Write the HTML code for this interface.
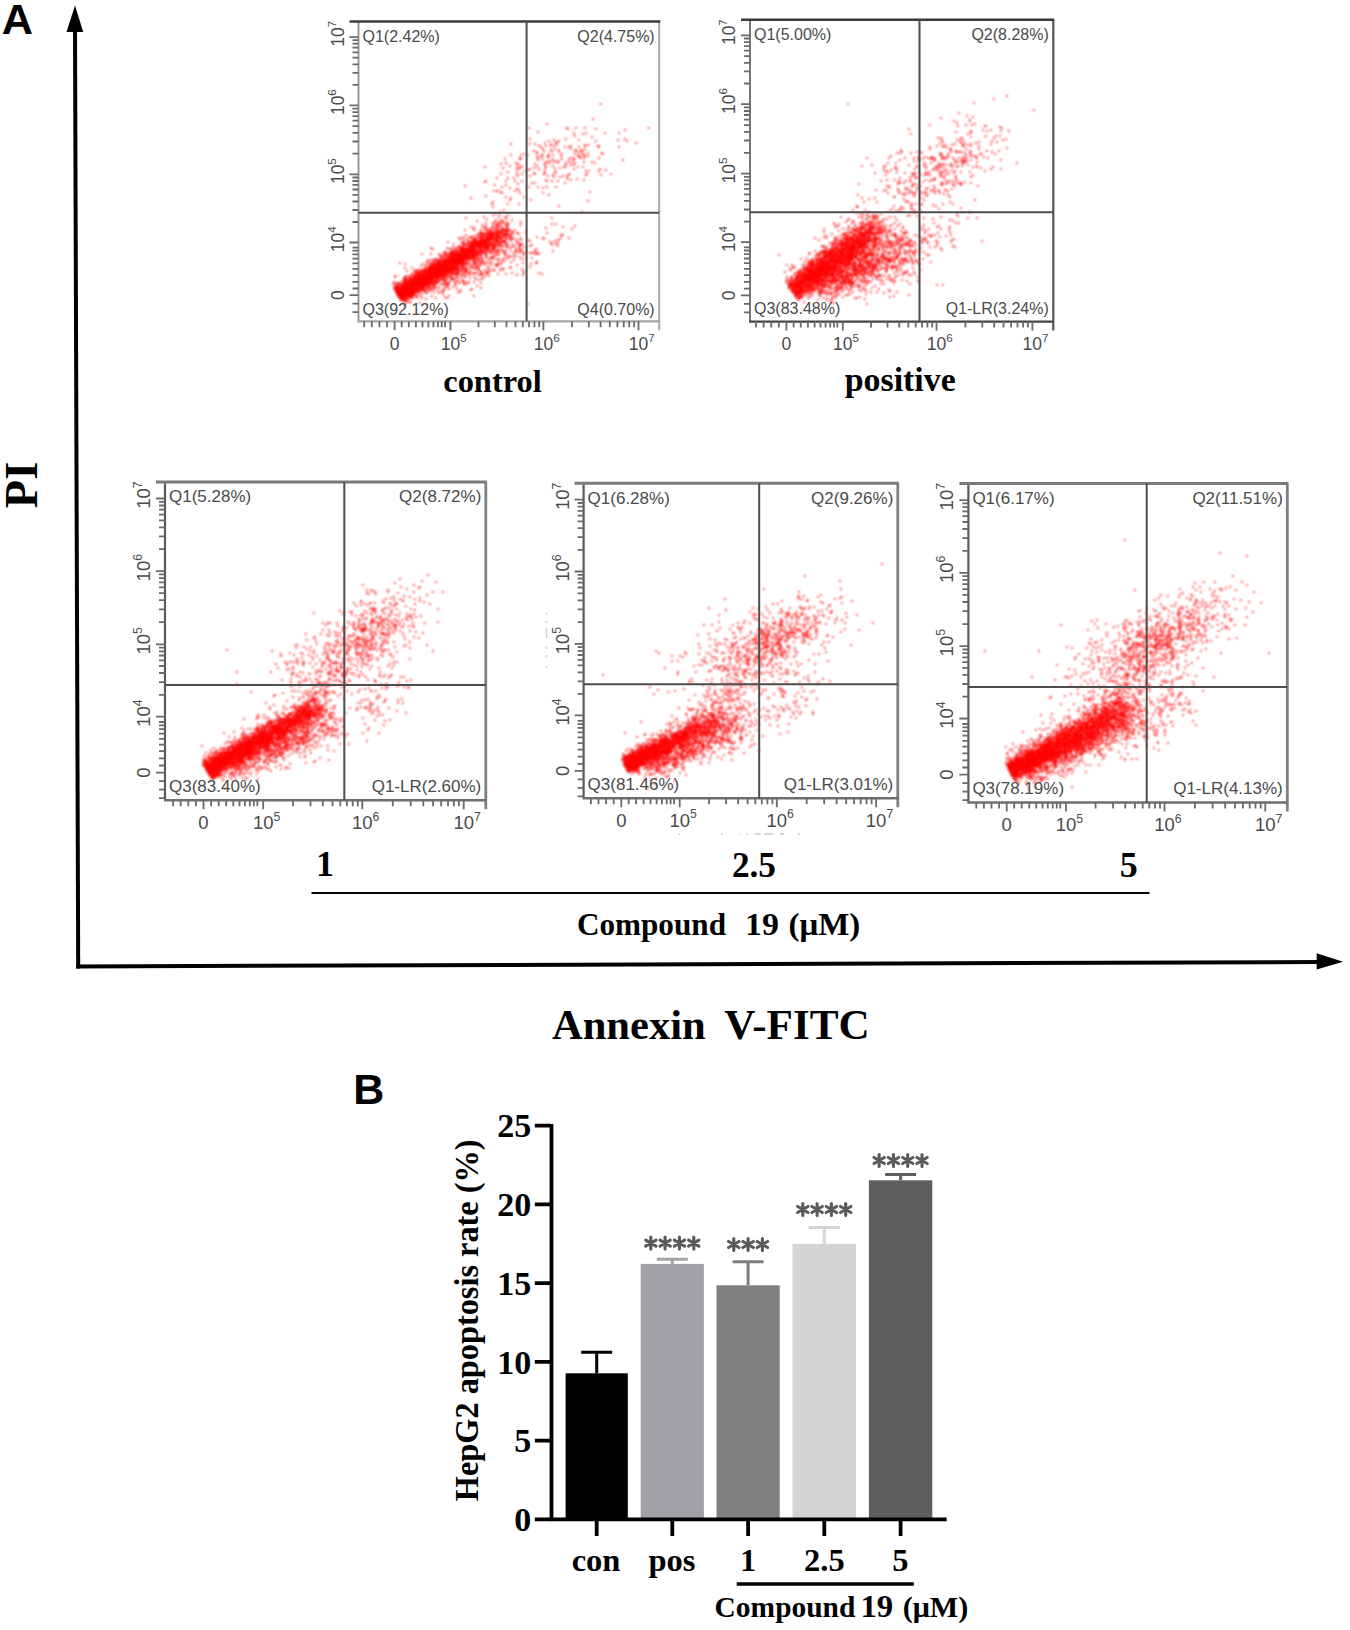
<!DOCTYPE html>
<html><head><meta charset="utf-8"><title>Figure</title>
<style>html,body{margin:0;padding:0;background:#fff;width:1350px;height:1630px;}svg{display:block;}</style>
</head><body>
<svg width="1350" height="1630" viewBox="0 0 1350 1630">
<defs><filter id="bl" x="-3%" y="-3%" width="106%" height="106%"><feGaussianBlur stdDeviation="1"/></filter></defs>
<rect width="1350" height="1630" fill="#fff"/>
<text x="1.7" y="34.4" font-family='"Liberation Sans", sans-serif' font-weight="bold" font-size="43.3">A</text>
<line x1="75" y1="28" x2="78.2" y2="968.5" stroke="#000" stroke-width="4"/>
<polygon points="75,5.5 66.5,32 83.2,32" fill="#000"/>
<line x1="76.2" y1="966.5" x2="1320" y2="962" stroke="#000" stroke-width="4"/>
<polygon points="1316.7,953.3 1343,961.8 1316.7,969.6" fill="#000"/>
<text transform="translate(36.9,484.9) rotate(-90)" text-anchor="middle" font-family='"Liberation Serif", serif' font-weight="bold" font-size="46.5">PI</text>
<path d="M600 104h1.7M592 119h1.7M546 124h1.7M528 128h1.7M566 128h1.7M575 128h1.7M584 128h1.7M648 128h1.7M567 129h1.7M595 129h1.7M624 130h1.7M537 132h1.7M573 133h1.7M585 133h1.7M604 133h1.7M618 133h1.7M582 134h1.7M574 136h1.7M591 137h1.7M529 139h1.7M565 139h1.7M624 139h1.7M553 140h1.7M578 140h1.7M617 140h1.7M548 141h1.7M558 141h1.7M595 141h1.7M626 141h1.7M556 142h1.7M544 143h1.7M555 143h1.7M635 143h1.7M510 144h1.7M529 144h1.7M534 144h1.7M550 144h1.7M556 145h1.7M584 145h1.7M587 145h1.7M538 146h1.7M545 146h1.7M550 146h1.7M553 146h1.7M570 146h1.7M584 146h1.7M597 146h1.7M598 146h1.7M540 147h1.7M564 147h1.7M568 147h1.7M578 147h1.7M598 147h1.7M618 147h1.7M542 149h1.7M554 149h1.7M570 149h1.7M584 149h1.7M550 150h1.7M558 150h1.7M575 150h1.7M580 150h1.7M533 151h1.7M543 151h1.7M551 151h1.7M574 151h1.7M582 151h1.7M536 152h1.7M558 152h1.7M577 152h1.7M580 152h1.7M536 153h1.7M587 153h1.7M601 153h1.7M523 154h1.7M548 154h1.7M561 154h1.7M574 154h1.7M582 154h1.7M602 154h1.7M510 155h1.7M520 155h1.7M527 155h1.7M541 155h1.7M542 155h1.7M552 155h1.7M577 155h1.7M583 155h1.7M536 156h1.7M547 156h1.7M560 156h1.7M579 156h1.7M584 156h1.7M587 156h1.7M540 157h1.7M547 157h1.7M548 157h1.7M578 157h1.7M519 158h1.7M537 158h1.7M570 158h1.7M573 158h1.7M580 158h1.7M583 158h1.7M598 158h1.7M504 159h1.7M519 159h1.7M520 159h1.7M542 159h1.7M552 159h1.7M561 159h1.7M568 159h1.7M573 159h1.7M537 160h1.7M573 160h1.7M622 160h1.7M547 161h1.7M550 161h1.7M555 161h1.7M558 161h1.7M553 162h1.7M568 162h1.7M571 162h1.7M583 162h1.7M591 162h1.7M505 163h1.7M515 163h1.7M544 163h1.7M545 163h1.7M548 163h1.7M557 163h1.7M565 163h1.7M574 163h1.7M594 163h1.7M500 164h1.7M517 164h1.7M534 164h1.7M517 165h1.7M544 165h1.7M565 165h1.7M570 165h1.7M573 165h1.7M509 166h1.7M521 166h1.7M536 166h1.7M552 166h1.7M484 167h1.7M545 167h1.7M563 167h1.7M564 167h1.7M577 167h1.7M582 167h1.7M502 168h1.7M516 168h1.7M517 168h1.7M519 168h1.7M520 168h1.7M533 168h1.7M559 168h1.7M529 169h1.7M538 169h1.7M544 169h1.7M554 169h1.7M573 169h1.7M599 169h1.7M527 170h1.7M605 170h1.7M516 171h1.7M524 171h1.7M585 171h1.7M588 171h1.7M598 171h1.7M507 172h1.7M544 172h1.7M555 172h1.7M533 173h1.7M544 173h1.7M554 173h1.7M500 174h1.7M516 174h1.7M521 174h1.7M534 174h1.7M543 174h1.7M569 174h1.7M586 174h1.7M610 174h1.7M552 175h1.7M567 175h1.7M585 175h1.7M600 175h1.7M517 176h1.7M529 176h1.7M547 176h1.7M562 176h1.7M553 177h1.7M559 177h1.7M566 177h1.7M496 178h1.7M507 178h1.7M513 178h1.7M567 179h1.7M576 179h1.7M545 180h1.7M570 180h1.7M583 180h1.7M485 181h1.7M505 181h1.7M514 181h1.7M521 181h1.7M546 181h1.7M551 181h1.7M557 181h1.7M484 182h1.7M531 183h1.7M534 183h1.7M564 183h1.7M517 184h1.7M494 185h1.7M505 185h1.7M464 186h1.7M501 187h1.7M528 187h1.7M537 187h1.7M546 187h1.7M555 187h1.7M509 188h1.7M542 188h1.7M516 189h1.7M518 190h1.7M493 191h1.7M496 191h1.7M497 191h1.7M514 191h1.7M500 192h1.7M589 192h1.7M501 193h1.7M519 193h1.7M542 193h1.7M548 195h1.7M485 196h1.7M505 197h1.7M523 197h1.7M470 198h1.7M510 198h1.7M509 200h1.7M530 200h1.7M587 201h1.7M492 202h1.7M491 204h1.7M507 204h1.7M518 204h1.7M558 206h1.7M492 207h1.7M503 210h1.7M499 212h1.7M581 212h1.7M495 214h1.7M499 214h1.7M492 215h1.7M507 215h1.7M483 217h1.7M498 217h1.7M504 217h1.7M465 218h1.7M505 218h1.7M506 218h1.7M551 218h1.7M486 219h1.7M495 220h1.7M500 220h1.7M511 220h1.7M476 221h1.7M502 221h1.7M494 222h1.7M498 222h1.7M501 222h1.7M502 222h1.7M506 222h1.7M520 222h1.7M485 223h1.7M492 223h1.7M496 223h1.7M499 223h1.7M503 223h1.7M506 224h1.7M508 224h1.7M551 224h1.7M555 224h1.7M481 225h1.7M492 225h1.7M495 225h1.7M496 225h1.7M498 225h1.7M499 225h1.7M500 225h1.7M505 225h1.7M507 225h1.7M520 225h1.7M485 226h1.7M496 226h1.7M497 226h1.7M506 226h1.7M574 226h1.7M470 227h1.7M482 227h1.7M485 227h1.7M492 227h1.7M496 227h1.7M501 227h1.7M562 227h1.7M473 228h1.7M484 228h1.7M491 228h1.7M494 228h1.7M498 228h1.7M501 228h1.7M506 228h1.7M507 228h1.7M545 228h1.7M473 229h1.7M487 229h1.7M490 229h1.7M496 229h1.7M501 229h1.7M503 229h1.7M504 229h1.7M506 229h1.7M571 229h1.7M464 230h1.7M473 230h1.7M480 230h1.7M484 230h1.7M486 230h1.7M489 230h1.7M494 230h1.7M498 230h1.7M501 230h1.7M502 230h1.7M504 230h1.7M506 230h1.7M508 230h1.7M509 230h1.7M514 230h1.7M489 231h1.7M491 231h1.7M494 231h1.7M496 231h1.7M497 231h1.7M499 231h1.7M500 231h1.7M502 231h1.7M504 231h1.7M506 231h1.7M507 231h1.7M511 231h1.7M480 232h1.7M486 232h1.7M487 232h1.7M489 232h1.7M492 232h1.7M496 232h1.7M497 232h1.7M499 232h1.7M500 232h1.7M507 232h1.7M512 232h1.7M525 232h1.7M479 233h1.7M481 233h1.7M483 233h1.7M486 233h1.7M488 233h1.7M489 233h1.7M490 233h1.7M491 233h1.7M493 233h1.7M495 233h1.7M498 233h1.7M500 233h1.7M501 233h1.7M502 233h1.7M503 233h1.7M504 233h1.7M505 233h1.7M506 233h1.7M510 233h1.7M516 233h1.7M517 233h1.7M546 233h1.7M478 234h1.7M479 234h1.7M480 234h1.7M482 234h1.7M483 234h1.7M484 234h1.7M485 234h1.7M486 234h1.7M489 234h1.7M491 234h1.7M492 234h1.7M494 234h1.7M495 234h1.7M496 234h1.7M497 234h1.7M499 234h1.7M502 234h1.7M505 234h1.7M506 234h1.7M507 234h1.7M512 234h1.7M518 234h1.7M465 235h1.7M476 235h1.7M480 235h1.7M481 235h1.7M486 235h1.7M487 235h1.7M488 235h1.7M490 235h1.7M491 235h1.7M492 235h1.7M493 235h1.7M494 235h1.7M496 235h1.7M498 235h1.7M502 235h1.7M503 235h1.7M505 235h1.7M507 235h1.7M508 235h1.7M510 235h1.7M560 235h1.7M561 235h1.7M562 235h1.7M473 236h1.7M477 236h1.7M481 236h1.7M482 236h1.7M483 236h1.7M484 236h1.7M487 236h1.7M489 236h1.7M490 236h1.7M491 236h1.7M493 236h1.7M496 236h1.7M497 236h1.7M498 236h1.7M500 236h1.7M503 236h1.7M504 236h1.7M506 236h1.7M509 236h1.7M463 237h1.7M468 237h1.7M470 237h1.7M471 237h1.7M478 237h1.7M479 237h1.7M480 237h1.7M483 237h1.7M484 237h1.7M485 237h1.7M486 237h1.7M488 237h1.7M489 237h1.7M490 237h1.7M491 237h1.7M492 237h1.7M493 237h1.7M495 237h1.7M496 237h1.7M497 237h1.7M499 237h1.7M501 237h1.7M502 237h1.7M504 237h1.7M510 237h1.7M536 237h1.7M458 238h1.7M461 238h1.7M470 238h1.7M474 238h1.7M476 238h1.7M480 238h1.7M481 238h1.7M486 238h1.7M487 238h1.7M489 238h1.7M490 238h1.7M493 238h1.7M495 238h1.7M497 238h1.7M498 238h1.7M500 238h1.7M506 238h1.7M508 238h1.7M510 238h1.7M512 238h1.7M513 238h1.7M520 238h1.7M543 238h1.7M560 238h1.7M568 238h1.7M459 239h1.7M466 239h1.7M472 239h1.7M474 239h1.7M479 239h1.7M480 239h1.7M482 239h1.7M483 239h1.7M484 239h1.7M486 239h1.7M487 239h1.7M488 239h1.7M489 239h1.7M491 239h1.7M492 239h1.7M493 239h1.7M494 239h1.7M495 239h1.7M496 239h1.7M499 239h1.7M500 239h1.7M501 239h1.7M505 239h1.7M542 239h1.7M463 240h1.7M472 240h1.7M473 240h1.7M474 240h1.7M475 240h1.7M476 240h1.7M479 240h1.7M480 240h1.7M482 240h1.7M483 240h1.7M484 240h1.7M485 240h1.7M487 240h1.7M488 240h1.7M490 240h1.7M491 240h1.7M492 240h1.7M496 240h1.7M497 240h1.7M502 240h1.7M504 240h1.7M509 240h1.7M510 240h1.7M511 240h1.7M517 240h1.7M520 240h1.7M527 240h1.7M557 240h1.7M558 240h1.7M467 241h1.7M469 241h1.7M473 241h1.7M474 241h1.7M475 241h1.7M477 241h1.7M478 241h1.7M479 241h1.7M480 241h1.7M481 241h1.7M482 241h1.7M484 241h1.7M485 241h1.7M486 241h1.7M487 241h1.7M489 241h1.7M492 241h1.7M493 241h1.7M495 241h1.7M497 241h1.7M498 241h1.7M501 241h1.7M502 241h1.7M504 241h1.7M515 241h1.7M529 241h1.7M554 241h1.7M447 242h1.7M461 242h1.7M463 242h1.7M468 242h1.7M469 242h1.7M471 242h1.7M472 242h1.7M473 242h1.7M475 242h1.7M476 242h1.7M477 242h1.7M478 242h1.7M479 242h1.7M480 242h1.7M481 242h1.7M482 242h1.7M483 242h1.7M484 242h1.7M485 242h1.7M486 242h1.7M487 242h1.7M489 242h1.7M494 242h1.7M495 242h1.7M496 242h1.7M497 242h1.7M498 242h1.7M499 242h1.7M501 242h1.7M503 242h1.7M505 242h1.7M549 242h1.7M463 243h1.7M466 243h1.7M470 243h1.7M472 243h1.7M474 243h1.7M475 243h1.7M476 243h1.7M477 243h1.7M478 243h1.7M480 243h1.7M481 243h1.7M482 243h1.7M483 243h1.7M484 243h1.7M485 243h1.7M486 243h1.7M488 243h1.7M489 243h1.7M490 243h1.7M491 243h1.7M492 243h1.7M496 243h1.7M500 243h1.7M501 243h1.7M504 243h1.7M505 243h1.7M516 243h1.7M518 243h1.7M551 243h1.7M557 243h1.7M453 244h1.7M461 244h1.7M462 244h1.7M464 244h1.7M467 244h1.7M469 244h1.7M471 244h1.7M472 244h1.7M473 244h1.7M474 244h1.7M475 244h1.7M476 244h1.7M477 244h1.7M478 244h1.7M479 244h1.7M480 244h1.7M481 244h1.7M482 244h1.7M483 244h1.7M484 244h1.7M485 244h1.7M486 244h1.7M488 244h1.7M490 244h1.7M491 244h1.7M492 244h1.7M494 244h1.7M495 244h1.7M498 244h1.7M499 244h1.7M507 244h1.7M511 244h1.7M519 244h1.7M521 244h1.7M555 244h1.7M464 245h1.7M466 245h1.7M469 245h1.7M471 245h1.7M472 245h1.7M474 245h1.7M475 245h1.7M476 245h1.7M477 245h1.7M479 245h1.7M480 245h1.7M481 245h1.7M482 245h1.7M484 245h1.7M485 245h1.7M486 245h1.7M487 245h1.7M488 245h1.7M489 245h1.7M491 245h1.7M492 245h1.7M493 245h1.7M495 245h1.7M498 245h1.7M499 245h1.7M505 245h1.7M519 245h1.7M520 245h1.7M521 245h1.7M531 245h1.7M551 245h1.7M458 246h1.7M462 246h1.7M463 246h1.7M466 246h1.7M468 246h1.7M469 246h1.7M470 246h1.7M471 246h1.7M472 246h1.7M473 246h1.7M474 246h1.7M476 246h1.7M477 246h1.7M478 246h1.7M479 246h1.7M480 246h1.7M481 246h1.7M482 246h1.7M483 246h1.7M484 246h1.7M485 246h1.7M486 246h1.7M487 246h1.7M489 246h1.7M492 246h1.7M493 246h1.7M494 246h1.7M496 246h1.7M498 246h1.7M499 246h1.7M500 246h1.7M501 246h1.7M502 246h1.7M505 246h1.7M507 246h1.7M513 246h1.7M514 246h1.7M519 246h1.7M529 246h1.7M557 246h1.7M452 247h1.7M457 247h1.7M458 247h1.7M460 247h1.7M461 247h1.7M469 247h1.7M470 247h1.7M471 247h1.7M472 247h1.7M473 247h1.7M475 247h1.7M477 247h1.7M478 247h1.7M480 247h1.7M481 247h1.7M483 247h1.7M485 247h1.7M486 247h1.7M487 247h1.7M488 247h1.7M489 247h1.7M492 247h1.7M494 247h1.7M495 247h1.7M501 247h1.7M511 247h1.7M518 247h1.7M524 247h1.7M430 248h1.7M446 248h1.7M452 248h1.7M455 248h1.7M459 248h1.7M460 248h1.7M462 248h1.7M463 248h1.7M464 248h1.7M466 248h1.7M467 248h1.7M468 248h1.7M470 248h1.7M471 248h1.7M472 248h1.7M473 248h1.7M474 248h1.7M475 248h1.7M478 248h1.7M479 248h1.7M480 248h1.7M483 248h1.7M484 248h1.7M485 248h1.7M487 248h1.7M488 248h1.7M491 248h1.7M492 248h1.7M493 248h1.7M494 248h1.7M506 248h1.7M509 248h1.7M518 248h1.7M432 249h1.7M448 249h1.7M450 249h1.7M455 249h1.7M459 249h1.7M460 249h1.7M461 249h1.7M463 249h1.7M464 249h1.7M465 249h1.7M466 249h1.7M467 249h1.7M468 249h1.7M469 249h1.7M470 249h1.7M471 249h1.7M472 249h1.7M473 249h1.7M475 249h1.7M478 249h1.7M479 249h1.7M481 249h1.7M484 249h1.7M485 249h1.7M486 249h1.7M487 249h1.7M488 249h1.7M491 249h1.7M493 249h1.7M497 249h1.7M515 249h1.7M521 249h1.7M536 249h1.7M454 250h1.7M457 250h1.7M460 250h1.7M461 250h1.7M462 250h1.7M463 250h1.7M464 250h1.7M466 250h1.7M467 250h1.7M468 250h1.7M469 250h1.7M470 250h1.7M471 250h1.7M472 250h1.7M473 250h1.7M474 250h1.7M476 250h1.7M477 250h1.7M478 250h1.7M479 250h1.7M481 250h1.7M482 250h1.7M483 250h1.7M486 250h1.7M487 250h1.7M491 250h1.7M493 250h1.7M494 250h1.7M497 250h1.7M499 250h1.7M501 250h1.7M515 250h1.7M519 250h1.7M520 250h1.7M534 250h1.7M451 251h1.7M452 251h1.7M453 251h1.7M455 251h1.7M456 251h1.7M457 251h1.7M458 251h1.7M459 251h1.7M461 251h1.7M462 251h1.7M463 251h1.7M464 251h1.7M465 251h1.7M466 251h1.7M468 251h1.7M469 251h1.7M470 251h1.7M471 251h1.7M472 251h1.7M473 251h1.7M474 251h1.7M475 251h1.7M476 251h1.7M479 251h1.7M481 251h1.7M483 251h1.7M486 251h1.7M487 251h1.7M489 251h1.7M490 251h1.7M495 251h1.7M497 251h1.7M502 251h1.7M503 251h1.7M505 251h1.7M510 251h1.7M515 251h1.7M519 251h1.7M552 251h1.7M443 252h1.7M445 252h1.7M450 252h1.7M451 252h1.7M452 252h1.7M453 252h1.7M456 252h1.7M460 252h1.7M461 252h1.7M462 252h1.7M464 252h1.7M465 252h1.7M466 252h1.7M467 252h1.7M468 252h1.7M469 252h1.7M470 252h1.7M471 252h1.7M472 252h1.7M473 252h1.7M476 252h1.7M477 252h1.7M479 252h1.7M480 252h1.7M481 252h1.7M484 252h1.7M492 252h1.7M495 252h1.7M496 252h1.7M514 252h1.7M517 252h1.7M520 252h1.7M525 252h1.7M534 252h1.7M443 253h1.7M445 253h1.7M449 253h1.7M450 253h1.7M451 253h1.7M452 253h1.7M453 253h1.7M455 253h1.7M456 253h1.7M457 253h1.7M458 253h1.7M459 253h1.7M460 253h1.7M461 253h1.7M462 253h1.7M463 253h1.7M464 253h1.7M465 253h1.7M466 253h1.7M467 253h1.7M468 253h1.7M470 253h1.7M471 253h1.7M472 253h1.7M473 253h1.7M474 253h1.7M475 253h1.7M476 253h1.7M477 253h1.7M478 253h1.7M479 253h1.7M481 253h1.7M483 253h1.7M484 253h1.7M485 253h1.7M486 253h1.7M489 253h1.7M490 253h1.7M491 253h1.7M498 253h1.7M503 253h1.7M504 253h1.7M522 253h1.7M523 253h1.7M529 253h1.7M531 253h1.7M532 253h1.7M536 253h1.7M537 253h1.7M421 254h1.7M430 254h1.7M438 254h1.7M445 254h1.7M446 254h1.7M448 254h1.7M450 254h1.7M451 254h1.7M453 254h1.7M454 254h1.7M455 254h1.7M456 254h1.7M457 254h1.7M458 254h1.7M459 254h1.7M460 254h1.7M461 254h1.7M462 254h1.7M463 254h1.7M464 254h1.7M466 254h1.7M467 254h1.7M468 254h1.7M469 254h1.7M471 254h1.7M473 254h1.7M474 254h1.7M476 254h1.7M477 254h1.7M479 254h1.7M481 254h1.7M485 254h1.7M494 254h1.7M513 254h1.7M535 254h1.7M538 254h1.7M439 255h1.7M443 255h1.7M444 255h1.7M447 255h1.7M448 255h1.7M450 255h1.7M451 255h1.7M452 255h1.7M453 255h1.7M454 255h1.7M456 255h1.7M457 255h1.7M458 255h1.7M459 255h1.7M460 255h1.7M462 255h1.7M463 255h1.7M464 255h1.7M465 255h1.7M466 255h1.7M467 255h1.7M469 255h1.7M471 255h1.7M472 255h1.7M473 255h1.7M474 255h1.7M475 255h1.7M476 255h1.7M477 255h1.7M480 255h1.7M485 255h1.7M494 255h1.7M496 255h1.7M498 255h1.7M504 255h1.7M506 255h1.7M523 255h1.7M440 256h1.7M441 256h1.7M444 256h1.7M450 256h1.7M451 256h1.7M453 256h1.7M454 256h1.7M455 256h1.7M457 256h1.7M458 256h1.7M459 256h1.7M460 256h1.7M461 256h1.7M462 256h1.7M463 256h1.7M464 256h1.7M465 256h1.7M466 256h1.7M467 256h1.7M468 256h1.7M470 256h1.7M471 256h1.7M472 256h1.7M473 256h1.7M474 256h1.7M476 256h1.7M477 256h1.7M480 256h1.7M485 256h1.7M486 256h1.7M492 256h1.7M509 256h1.7M510 256h1.7M515 256h1.7M442 257h1.7M445 257h1.7M446 257h1.7M447 257h1.7M448 257h1.7M449 257h1.7M450 257h1.7M451 257h1.7M452 257h1.7M454 257h1.7M455 257h1.7M456 257h1.7M457 257h1.7M458 257h1.7M459 257h1.7M460 257h1.7M461 257h1.7M462 257h1.7M463 257h1.7M464 257h1.7M465 257h1.7M466 257h1.7M467 257h1.7M468 257h1.7M469 257h1.7M470 257h1.7M472 257h1.7M473 257h1.7M474 257h1.7M477 257h1.7M480 257h1.7M485 257h1.7M490 257h1.7M513 257h1.7M519 257h1.7M439 258h1.7M441 258h1.7M442 258h1.7M446 258h1.7M447 258h1.7M448 258h1.7M449 258h1.7M450 258h1.7M452 258h1.7M453 258h1.7M455 258h1.7M456 258h1.7M457 258h1.7M458 258h1.7M459 258h1.7M460 258h1.7M461 258h1.7M462 258h1.7M463 258h1.7M464 258h1.7M465 258h1.7M466 258h1.7M467 258h1.7M468 258h1.7M469 258h1.7M470 258h1.7M471 258h1.7M473 258h1.7M474 258h1.7M477 258h1.7M481 258h1.7M490 258h1.7M492 258h1.7M493 258h1.7M503 258h1.7M506 258h1.7M508 258h1.7M531 258h1.7M434 259h1.7M436 259h1.7M444 259h1.7M445 259h1.7M446 259h1.7M449 259h1.7M450 259h1.7M451 259h1.7M452 259h1.7M453 259h1.7M454 259h1.7M455 259h1.7M456 259h1.7M457 259h1.7M458 259h1.7M459 259h1.7M460 259h1.7M461 259h1.7M462 259h1.7M463 259h1.7M465 259h1.7M466 259h1.7M467 259h1.7M468 259h1.7M470 259h1.7M474 259h1.7M475 259h1.7M477 259h1.7M479 259h1.7M482 259h1.7M487 259h1.7M492 259h1.7M496 259h1.7M499 259h1.7M521 259h1.7M525 259h1.7M427 260h1.7M430 260h1.7M432 260h1.7M434 260h1.7M435 260h1.7M438 260h1.7M439 260h1.7M441 260h1.7M442 260h1.7M443 260h1.7M445 260h1.7M446 260h1.7M447 260h1.7M448 260h1.7M449 260h1.7M450 260h1.7M451 260h1.7M452 260h1.7M453 260h1.7M454 260h1.7M455 260h1.7M456 260h1.7M457 260h1.7M458 260h1.7M459 260h1.7M460 260h1.7M461 260h1.7M462 260h1.7M463 260h1.7M465 260h1.7M468 260h1.7M470 260h1.7M472 260h1.7M473 260h1.7M474 260h1.7M477 260h1.7M489 260h1.7M497 260h1.7M502 260h1.7M513 260h1.7M427 261h1.7M435 261h1.7M437 261h1.7M438 261h1.7M439 261h1.7M440 261h1.7M441 261h1.7M442 261h1.7M443 261h1.7M444 261h1.7M445 261h1.7M446 261h1.7M447 261h1.7M448 261h1.7M449 261h1.7M450 261h1.7M451 261h1.7M452 261h1.7M453 261h1.7M454 261h1.7M455 261h1.7M456 261h1.7M457 261h1.7M458 261h1.7M459 261h1.7M460 261h1.7M461 261h1.7M462 261h1.7M463 261h1.7M466 261h1.7M473 261h1.7M479 261h1.7M481 261h1.7M482 261h1.7M504 261h1.7M426 262h1.7M432 262h1.7M437 262h1.7M438 262h1.7M439 262h1.7M442 262h1.7M443 262h1.7M444 262h1.7M445 262h1.7M446 262h1.7M447 262h1.7M448 262h1.7M449 262h1.7M450 262h1.7M451 262h1.7M452 262h1.7M453 262h1.7M454 262h1.7M455 262h1.7M456 262h1.7M457 262h1.7M458 262h1.7M459 262h1.7M460 262h1.7M461 262h1.7M462 262h1.7M463 262h1.7M464 262h1.7M466 262h1.7M474 262h1.7M475 262h1.7M477 262h1.7M482 262h1.7M485 262h1.7M501 262h1.7M510 262h1.7M536 262h1.7M399 263h1.7M429 263h1.7M430 263h1.7M432 263h1.7M433 263h1.7M434 263h1.7M435 263h1.7M436 263h1.7M437 263h1.7M438 263h1.7M439 263h1.7M440 263h1.7M442 263h1.7M443 263h1.7M444 263h1.7M445 263h1.7M446 263h1.7M447 263h1.7M448 263h1.7M449 263h1.7M450 263h1.7M451 263h1.7M452 263h1.7M453 263h1.7M454 263h1.7M455 263h1.7M456 263h1.7M457 263h1.7M458 263h1.7M459 263h1.7M460 263h1.7M461 263h1.7M462 263h1.7M464 263h1.7M467 263h1.7M469 263h1.7M473 263h1.7M474 263h1.7M480 263h1.7M488 263h1.7M490 263h1.7M491 263h1.7M498 263h1.7M522 263h1.7M535 263h1.7M536 263h1.7M404 264h1.7M422 264h1.7M426 264h1.7M429 264h1.7M433 264h1.7M434 264h1.7M435 264h1.7M436 264h1.7M437 264h1.7M438 264h1.7M439 264h1.7M440 264h1.7M441 264h1.7M442 264h1.7M444 264h1.7M445 264h1.7M446 264h1.7M448 264h1.7M449 264h1.7M450 264h1.7M451 264h1.7M452 264h1.7M453 264h1.7M454 264h1.7M455 264h1.7M456 264h1.7M458 264h1.7M459 264h1.7M460 264h1.7M461 264h1.7M462 264h1.7M463 264h1.7M464 264h1.7M466 264h1.7M467 264h1.7M471 264h1.7M474 264h1.7M476 264h1.7M479 264h1.7M482 264h1.7M484 264h1.7M485 264h1.7M495 264h1.7M497 264h1.7M500 264h1.7M530 264h1.7M430 265h1.7M432 265h1.7M433 265h1.7M436 265h1.7M437 265h1.7M438 265h1.7M439 265h1.7M441 265h1.7M442 265h1.7M443 265h1.7M444 265h1.7M445 265h1.7M446 265h1.7M447 265h1.7M448 265h1.7M449 265h1.7M450 265h1.7M451 265h1.7M452 265h1.7M453 265h1.7M454 265h1.7M455 265h1.7M456 265h1.7M457 265h1.7M458 265h1.7M460 265h1.7M464 265h1.7M467 265h1.7M473 265h1.7M479 265h1.7M495 265h1.7M516 265h1.7M420 266h1.7M425 266h1.7M429 266h1.7M431 266h1.7M432 266h1.7M433 266h1.7M434 266h1.7M435 266h1.7M436 266h1.7M437 266h1.7M438 266h1.7M439 266h1.7M440 266h1.7M441 266h1.7M442 266h1.7M443 266h1.7M444 266h1.7M445 266h1.7M446 266h1.7M447 266h1.7M448 266h1.7M449 266h1.7M451 266h1.7M452 266h1.7M453 266h1.7M455 266h1.7M456 266h1.7M461 266h1.7M462 266h1.7M463 266h1.7M464 266h1.7M470 266h1.7M475 266h1.7M476 266h1.7M479 266h1.7M490 266h1.7M495 266h1.7M497 266h1.7M424 267h1.7M427 267h1.7M428 267h1.7M429 267h1.7M430 267h1.7M431 267h1.7M432 267h1.7M434 267h1.7M435 267h1.7M436 267h1.7M437 267h1.7M438 267h1.7M439 267h1.7M440 267h1.7M441 267h1.7M442 267h1.7M443 267h1.7M444 267h1.7M445 267h1.7M446 267h1.7M447 267h1.7M448 267h1.7M449 267h1.7M450 267h1.7M451 267h1.7M452 267h1.7M453 267h1.7M454 267h1.7M456 267h1.7M457 267h1.7M459 267h1.7M461 267h1.7M470 267h1.7M471 267h1.7M476 267h1.7M477 267h1.7M487 267h1.7M510 267h1.7M529 267h1.7M404 268h1.7M411 268h1.7M428 268h1.7M429 268h1.7M430 268h1.7M431 268h1.7M432 268h1.7M433 268h1.7M434 268h1.7M435 268h1.7M436 268h1.7M437 268h1.7M438 268h1.7M439 268h1.7M440 268h1.7M441 268h1.7M442 268h1.7M443 268h1.7M444 268h1.7M445 268h1.7M446 268h1.7M447 268h1.7M448 268h1.7M449 268h1.7M450 268h1.7M451 268h1.7M452 268h1.7M453 268h1.7M454 268h1.7M455 268h1.7M457 268h1.7M458 268h1.7M461 268h1.7M463 268h1.7M464 268h1.7M466 268h1.7M469 268h1.7M472 268h1.7M474 268h1.7M477 268h1.7M487 268h1.7M509 268h1.7M423 269h1.7M425 269h1.7M426 269h1.7M427 269h1.7M429 269h1.7M430 269h1.7M431 269h1.7M432 269h1.7M433 269h1.7M434 269h1.7M435 269h1.7M436 269h1.7M437 269h1.7M438 269h1.7M439 269h1.7M440 269h1.7M441 269h1.7M442 269h1.7M443 269h1.7M444 269h1.7M446 269h1.7M448 269h1.7M449 269h1.7M450 269h1.7M451 269h1.7M452 269h1.7M453 269h1.7M454 269h1.7M456 269h1.7M458 269h1.7M462 269h1.7M465 269h1.7M466 269h1.7M474 269h1.7M478 269h1.7M501 269h1.7M502 269h1.7M503 269h1.7M521 269h1.7M414 270h1.7M417 270h1.7M418 270h1.7M419 270h1.7M421 270h1.7M423 270h1.7M424 270h1.7M426 270h1.7M427 270h1.7M428 270h1.7M429 270h1.7M430 270h1.7M431 270h1.7M432 270h1.7M434 270h1.7M435 270h1.7M436 270h1.7M437 270h1.7M438 270h1.7M439 270h1.7M440 270h1.7M441 270h1.7M442 270h1.7M443 270h1.7M444 270h1.7M445 270h1.7M446 270h1.7M447 270h1.7M448 270h1.7M449 270h1.7M450 270h1.7M451 270h1.7M452 270h1.7M453 270h1.7M454 270h1.7M455 270h1.7M456 270h1.7M457 270h1.7M459 270h1.7M460 270h1.7M461 270h1.7M464 270h1.7M466 270h1.7M477 270h1.7M484 270h1.7M488 270h1.7M491 270h1.7M493 270h1.7M494 270h1.7M499 270h1.7M406 271h1.7M414 271h1.7M415 271h1.7M421 271h1.7M422 271h1.7M423 271h1.7M424 271h1.7M425 271h1.7M426 271h1.7M427 271h1.7M428 271h1.7M429 271h1.7M430 271h1.7M431 271h1.7M432 271h1.7M433 271h1.7M434 271h1.7M435 271h1.7M436 271h1.7M437 271h1.7M438 271h1.7M439 271h1.7M440 271h1.7M441 271h1.7M442 271h1.7M443 271h1.7M444 271h1.7M445 271h1.7M446 271h1.7M447 271h1.7M448 271h1.7M449 271h1.7M450 271h1.7M451 271h1.7M453 271h1.7M454 271h1.7M456 271h1.7M458 271h1.7M462 271h1.7M465 271h1.7M466 271h1.7M469 271h1.7M479 271h1.7M488 271h1.7M523 271h1.7M414 272h1.7M415 272h1.7M417 272h1.7M418 272h1.7M420 272h1.7M421 272h1.7M424 272h1.7M426 272h1.7M427 272h1.7M428 272h1.7M429 272h1.7M430 272h1.7M431 272h1.7M432 272h1.7M433 272h1.7M434 272h1.7M435 272h1.7M436 272h1.7M437 272h1.7M438 272h1.7M439 272h1.7M440 272h1.7M442 272h1.7M443 272h1.7M444 272h1.7M445 272h1.7M446 272h1.7M448 272h1.7M449 272h1.7M450 272h1.7M451 272h1.7M457 272h1.7M461 272h1.7M465 272h1.7M466 272h1.7M470 272h1.7M481 272h1.7M485 272h1.7M486 272h1.7M411 273h1.7M417 273h1.7M418 273h1.7M419 273h1.7M421 273h1.7M422 273h1.7M423 273h1.7M424 273h1.7M426 273h1.7M427 273h1.7M428 273h1.7M429 273h1.7M430 273h1.7M431 273h1.7M432 273h1.7M433 273h1.7M434 273h1.7M435 273h1.7M436 273h1.7M437 273h1.7M438 273h1.7M439 273h1.7M440 273h1.7M441 273h1.7M442 273h1.7M443 273h1.7M444 273h1.7M445 273h1.7M446 273h1.7M447 273h1.7M450 273h1.7M452 273h1.7M453 273h1.7M454 273h1.7M456 273h1.7M458 273h1.7M464 273h1.7M465 273h1.7M468 273h1.7M473 273h1.7M474 273h1.7M475 273h1.7M476 273h1.7M480 273h1.7M486 273h1.7M488 273h1.7M511 273h1.7M523 273h1.7M538 273h1.7M414 274h1.7M415 274h1.7M416 274h1.7M417 274h1.7M418 274h1.7M419 274h1.7M421 274h1.7M423 274h1.7M424 274h1.7M425 274h1.7M426 274h1.7M427 274h1.7M429 274h1.7M430 274h1.7M431 274h1.7M432 274h1.7M433 274h1.7M434 274h1.7M435 274h1.7M436 274h1.7M437 274h1.7M438 274h1.7M439 274h1.7M440 274h1.7M441 274h1.7M443 274h1.7M445 274h1.7M447 274h1.7M449 274h1.7M452 274h1.7M453 274h1.7M454 274h1.7M455 274h1.7M457 274h1.7M458 274h1.7M462 274h1.7M468 274h1.7M472 274h1.7M482 274h1.7M486 274h1.7M497 274h1.7M505 274h1.7M541 274h1.7M411 275h1.7M413 275h1.7M417 275h1.7M418 275h1.7M419 275h1.7M420 275h1.7M421 275h1.7M422 275h1.7M423 275h1.7M424 275h1.7M425 275h1.7M426 275h1.7M427 275h1.7M428 275h1.7M429 275h1.7M430 275h1.7M431 275h1.7M432 275h1.7M433 275h1.7M434 275h1.7M435 275h1.7M436 275h1.7M437 275h1.7M439 275h1.7M440 275h1.7M442 275h1.7M443 275h1.7M444 275h1.7M445 275h1.7M447 275h1.7M450 275h1.7M451 275h1.7M455 275h1.7M456 275h1.7M457 275h1.7M460 275h1.7M463 275h1.7M469 275h1.7M478 275h1.7M479 275h1.7M480 275h1.7M481 275h1.7M516 275h1.7M522 275h1.7M395 276h1.7M405 276h1.7M407 276h1.7M409 276h1.7M410 276h1.7M413 276h1.7M414 276h1.7M415 276h1.7M416 276h1.7M417 276h1.7M418 276h1.7M419 276h1.7M420 276h1.7M421 276h1.7M422 276h1.7M423 276h1.7M424 276h1.7M425 276h1.7M426 276h1.7M427 276h1.7M428 276h1.7M429 276h1.7M430 276h1.7M431 276h1.7M432 276h1.7M433 276h1.7M434 276h1.7M435 276h1.7M436 276h1.7M437 276h1.7M438 276h1.7M439 276h1.7M440 276h1.7M441 276h1.7M442 276h1.7M443 276h1.7M444 276h1.7M445 276h1.7M447 276h1.7M465 276h1.7M484 276h1.7M488 276h1.7M394 277h1.7M404 277h1.7M410 277h1.7M413 277h1.7M414 277h1.7M415 277h1.7M416 277h1.7M417 277h1.7M419 277h1.7M420 277h1.7M421 277h1.7M422 277h1.7M423 277h1.7M424 277h1.7M425 277h1.7M426 277h1.7M427 277h1.7M428 277h1.7M429 277h1.7M430 277h1.7M431 277h1.7M432 277h1.7M433 277h1.7M434 277h1.7M435 277h1.7M436 277h1.7M437 277h1.7M438 277h1.7M439 277h1.7M440 277h1.7M441 277h1.7M442 277h1.7M443 277h1.7M447 277h1.7M449 277h1.7M451 277h1.7M455 277h1.7M461 277h1.7M464 277h1.7M474 277h1.7M403 278h1.7M404 278h1.7M405 278h1.7M409 278h1.7M411 278h1.7M412 278h1.7M413 278h1.7M414 278h1.7M415 278h1.7M416 278h1.7M417 278h1.7M418 278h1.7M419 278h1.7M420 278h1.7M421 278h1.7M422 278h1.7M423 278h1.7M424 278h1.7M425 278h1.7M426 278h1.7M427 278h1.7M428 278h1.7M429 278h1.7M430 278h1.7M431 278h1.7M432 278h1.7M433 278h1.7M434 278h1.7M436 278h1.7M437 278h1.7M438 278h1.7M441 278h1.7M443 278h1.7M445 278h1.7M450 278h1.7M452 278h1.7M456 278h1.7M458 278h1.7M469 278h1.7M482 278h1.7M404 279h1.7M406 279h1.7M408 279h1.7M410 279h1.7M413 279h1.7M414 279h1.7M415 279h1.7M416 279h1.7M417 279h1.7M418 279h1.7M419 279h1.7M420 279h1.7M421 279h1.7M422 279h1.7M423 279h1.7M424 279h1.7M425 279h1.7M426 279h1.7M427 279h1.7M428 279h1.7M429 279h1.7M430 279h1.7M431 279h1.7M432 279h1.7M433 279h1.7M435 279h1.7M437 279h1.7M438 279h1.7M441 279h1.7M446 279h1.7M451 279h1.7M453 279h1.7M475 279h1.7M481 279h1.7M403 280h1.7M405 280h1.7M408 280h1.7M409 280h1.7M410 280h1.7M411 280h1.7M412 280h1.7M413 280h1.7M414 280h1.7M415 280h1.7M416 280h1.7M417 280h1.7M418 280h1.7M419 280h1.7M420 280h1.7M421 280h1.7M422 280h1.7M423 280h1.7M424 280h1.7M425 280h1.7M426 280h1.7M427 280h1.7M428 280h1.7M429 280h1.7M430 280h1.7M431 280h1.7M432 280h1.7M433 280h1.7M435 280h1.7M438 280h1.7M439 280h1.7M441 280h1.7M442 280h1.7M444 280h1.7M445 280h1.7M451 280h1.7M454 280h1.7M462 280h1.7M478 280h1.7M402 281h1.7M403 281h1.7M404 281h1.7M405 281h1.7M406 281h1.7M407 281h1.7M408 281h1.7M410 281h1.7M411 281h1.7M412 281h1.7M413 281h1.7M414 281h1.7M415 281h1.7M416 281h1.7M417 281h1.7M418 281h1.7M419 281h1.7M420 281h1.7M421 281h1.7M422 281h1.7M423 281h1.7M424 281h1.7M425 281h1.7M426 281h1.7M427 281h1.7M428 281h1.7M429 281h1.7M431 281h1.7M433 281h1.7M435 281h1.7M436 281h1.7M438 281h1.7M443 281h1.7M445 281h1.7M449 281h1.7M457 281h1.7M461 281h1.7M462 281h1.7M393 282h1.7M400 282h1.7M403 282h1.7M405 282h1.7M406 282h1.7M409 282h1.7M410 282h1.7M411 282h1.7M412 282h1.7M413 282h1.7M414 282h1.7M415 282h1.7M416 282h1.7M417 282h1.7M418 282h1.7M419 282h1.7M420 282h1.7M421 282h1.7M422 282h1.7M423 282h1.7M424 282h1.7M425 282h1.7M426 282h1.7M427 282h1.7M428 282h1.7M429 282h1.7M431 282h1.7M432 282h1.7M434 282h1.7M436 282h1.7M438 282h1.7M455 282h1.7M464 282h1.7M468 282h1.7M473 282h1.7M395 283h1.7M396 283h1.7M398 283h1.7M403 283h1.7M404 283h1.7M405 283h1.7M406 283h1.7M407 283h1.7M408 283h1.7M409 283h1.7M410 283h1.7M411 283h1.7M412 283h1.7M413 283h1.7M414 283h1.7M415 283h1.7M416 283h1.7M417 283h1.7M418 283h1.7M419 283h1.7M420 283h1.7M421 283h1.7M422 283h1.7M423 283h1.7M424 283h1.7M425 283h1.7M426 283h1.7M427 283h1.7M428 283h1.7M429 283h1.7M430 283h1.7M431 283h1.7M432 283h1.7M433 283h1.7M435 283h1.7M436 283h1.7M437 283h1.7M443 283h1.7M445 283h1.7M447 283h1.7M448 283h1.7M454 283h1.7M458 283h1.7M459 283h1.7M463 283h1.7M467 283h1.7M480 283h1.7M392 284h1.7M397 284h1.7M399 284h1.7M400 284h1.7M401 284h1.7M403 284h1.7M404 284h1.7M405 284h1.7M406 284h1.7M407 284h1.7M408 284h1.7M409 284h1.7M410 284h1.7M411 284h1.7M412 284h1.7M413 284h1.7M414 284h1.7M415 284h1.7M416 284h1.7M417 284h1.7M418 284h1.7M419 284h1.7M420 284h1.7M421 284h1.7M422 284h1.7M423 284h1.7M424 284h1.7M425 284h1.7M426 284h1.7M427 284h1.7M428 284h1.7M430 284h1.7M431 284h1.7M432 284h1.7M435 284h1.7M440 284h1.7M443 284h1.7M445 284h1.7M447 284h1.7M448 284h1.7M454 284h1.7M463 284h1.7M465 284h1.7M394 285h1.7M397 285h1.7M400 285h1.7M401 285h1.7M402 285h1.7M403 285h1.7M405 285h1.7M406 285h1.7M407 285h1.7M408 285h1.7M409 285h1.7M410 285h1.7M411 285h1.7M412 285h1.7M413 285h1.7M414 285h1.7M415 285h1.7M416 285h1.7M417 285h1.7M418 285h1.7M419 285h1.7M420 285h1.7M421 285h1.7M422 285h1.7M423 285h1.7M424 285h1.7M425 285h1.7M426 285h1.7M427 285h1.7M428 285h1.7M429 285h1.7M432 285h1.7M434 285h1.7M442 285h1.7M447 285h1.7M395 286h1.7M397 286h1.7M398 286h1.7M400 286h1.7M401 286h1.7M402 286h1.7M403 286h1.7M404 286h1.7M405 286h1.7M406 286h1.7M407 286h1.7M408 286h1.7M409 286h1.7M410 286h1.7M411 286h1.7M412 286h1.7M413 286h1.7M414 286h1.7M415 286h1.7M416 286h1.7M417 286h1.7M418 286h1.7M419 286h1.7M420 286h1.7M421 286h1.7M422 286h1.7M423 286h1.7M424 286h1.7M425 286h1.7M427 286h1.7M428 286h1.7M432 286h1.7M434 286h1.7M445 286h1.7M455 286h1.7M476 286h1.7M394 287h1.7M395 287h1.7M396 287h1.7M397 287h1.7M400 287h1.7M401 287h1.7M402 287h1.7M403 287h1.7M404 287h1.7M405 287h1.7M406 287h1.7M407 287h1.7M408 287h1.7M409 287h1.7M410 287h1.7M411 287h1.7M412 287h1.7M413 287h1.7M414 287h1.7M415 287h1.7M416 287h1.7M417 287h1.7M418 287h1.7M419 287h1.7M420 287h1.7M421 287h1.7M422 287h1.7M423 287h1.7M425 287h1.7M428 287h1.7M430 287h1.7M432 287h1.7M434 287h1.7M438 287h1.7M447 287h1.7M452 287h1.7M393 288h1.7M394 288h1.7M395 288h1.7M396 288h1.7M397 288h1.7M398 288h1.7M399 288h1.7M400 288h1.7M401 288h1.7M402 288h1.7M403 288h1.7M404 288h1.7M405 288h1.7M406 288h1.7M407 288h1.7M408 288h1.7M409 288h1.7M410 288h1.7M411 288h1.7M412 288h1.7M413 288h1.7M414 288h1.7M415 288h1.7M416 288h1.7M417 288h1.7M418 288h1.7M419 288h1.7M421 288h1.7M422 288h1.7M423 288h1.7M427 288h1.7M430 288h1.7M435 288h1.7M438 288h1.7M444 288h1.7M480 288h1.7M395 289h1.7M396 289h1.7M397 289h1.7M398 289h1.7M399 289h1.7M400 289h1.7M401 289h1.7M402 289h1.7M403 289h1.7M404 289h1.7M405 289h1.7M406 289h1.7M407 289h1.7M408 289h1.7M409 289h1.7M410 289h1.7M411 289h1.7M412 289h1.7M413 289h1.7M414 289h1.7M415 289h1.7M416 289h1.7M417 289h1.7M418 289h1.7M421 289h1.7M422 289h1.7M424 289h1.7M426 289h1.7M427 289h1.7M429 289h1.7M433 289h1.7M443 289h1.7M448 289h1.7M456 289h1.7M471 289h1.7M394 290h1.7M395 290h1.7M396 290h1.7M397 290h1.7M398 290h1.7M399 290h1.7M400 290h1.7M401 290h1.7M402 290h1.7M403 290h1.7M404 290h1.7M405 290h1.7M406 290h1.7M407 290h1.7M408 290h1.7M409 290h1.7M410 290h1.7M411 290h1.7M412 290h1.7M413 290h1.7M414 290h1.7M415 290h1.7M417 290h1.7M418 290h1.7M419 290h1.7M420 290h1.7M421 290h1.7M422 290h1.7M423 290h1.7M431 290h1.7M460 290h1.7M470 290h1.7M395 291h1.7M396 291h1.7M397 291h1.7M398 291h1.7M399 291h1.7M400 291h1.7M401 291h1.7M402 291h1.7M403 291h1.7M404 291h1.7M405 291h1.7M406 291h1.7M407 291h1.7M408 291h1.7M409 291h1.7M410 291h1.7M411 291h1.7M412 291h1.7M413 291h1.7M414 291h1.7M415 291h1.7M416 291h1.7M417 291h1.7M419 291h1.7M420 291h1.7M422 291h1.7M424 291h1.7M425 291h1.7M428 291h1.7M429 291h1.7M437 291h1.7M441 291h1.7M443 291h1.7M395 292h1.7M396 292h1.7M397 292h1.7M399 292h1.7M400 292h1.7M401 292h1.7M402 292h1.7M403 292h1.7M404 292h1.7M405 292h1.7M406 292h1.7M407 292h1.7M408 292h1.7M409 292h1.7M410 292h1.7M411 292h1.7M412 292h1.7M413 292h1.7M414 292h1.7M416 292h1.7M417 292h1.7M418 292h1.7M425 292h1.7M433 292h1.7M441 292h1.7M457 292h1.7M459 292h1.7M396 293h1.7M397 293h1.7M398 293h1.7M399 293h1.7M400 293h1.7M401 293h1.7M402 293h1.7M403 293h1.7M404 293h1.7M405 293h1.7M406 293h1.7M407 293h1.7M408 293h1.7M409 293h1.7M410 293h1.7M411 293h1.7M412 293h1.7M413 293h1.7M414 293h1.7M415 293h1.7M418 293h1.7M425 293h1.7M426 293h1.7M438 293h1.7M396 294h1.7M397 294h1.7M398 294h1.7M399 294h1.7M400 294h1.7M401 294h1.7M402 294h1.7M403 294h1.7M404 294h1.7M405 294h1.7M406 294h1.7M407 294h1.7M408 294h1.7M409 294h1.7M410 294h1.7M411 294h1.7M412 294h1.7M413 294h1.7M414 294h1.7M421 294h1.7M442 294h1.7M397 295h1.7M398 295h1.7M399 295h1.7M400 295h1.7M401 295h1.7M402 295h1.7M403 295h1.7M404 295h1.7M406 295h1.7M407 295h1.7M408 295h1.7M409 295h1.7M410 295h1.7M412 295h1.7M413 295h1.7M417 295h1.7M397 296h1.7M398 296h1.7M399 296h1.7M400 296h1.7M401 296h1.7M402 296h1.7M403 296h1.7M404 296h1.7M405 296h1.7M406 296h1.7M407 296h1.7M408 296h1.7M410 296h1.7M411 296h1.7M412 296h1.7M415 296h1.7M420 296h1.7M431 296h1.7M448 296h1.7M473 296h1.7M398 297h1.7M399 297h1.7M400 297h1.7M401 297h1.7M402 297h1.7M403 297h1.7M404 297h1.7M405 297h1.7M407 297h1.7M408 297h1.7M409 297h1.7M410 297h1.7M412 297h1.7M416 297h1.7M444 297h1.7M399 298h1.7M400 298h1.7M401 298h1.7M402 298h1.7M403 298h1.7M404 298h1.7M405 298h1.7M409 298h1.7M410 298h1.7M412 298h1.7M416 298h1.7M421 298h1.7M435 298h1.7M446 298h1.7M399 299h1.7M400 299h1.7M402 299h1.7M403 299h1.7M404 299h1.7M406 299h1.7M407 299h1.7M425 299h1.7M400 300h1.7M401 300h1.7M403 300h1.7M405 300h1.7M407 300h1.7M402 301h1.7M403 301h1.7M404 301h1.7M405 302h1.7M408 302h1.7M410 302h1.7M405 303h1.7M419 303h1.7M527 304h1.7M404 306h1.7" stroke="#ff0000" stroke-width="1.7" fill="none" filter="url(#bl)"/>
<path d="M358.5 21.5V321.3" stroke="#9a9a9a" stroke-width="2"/>
<path d="M659.2 21.5V330.3" stroke="#b0b0b0" stroke-width="2.2"/>
<path d="M357.5 321.3H659.2" stroke="#a5a5a5" stroke-width="2.2"/>
<path d="M349.5 21.5H660.2" stroke="#3c3c3c" stroke-width="2.6"/>
<path d="M526.6 21.5V321.3M358.5 212.8H659.2" stroke="#4d4d4d" stroke-width="2"/>
<path d="M349.5 295.2H358.5M349.5 242.5H358.5M349.5 174.4H358.5M349.5 105.4H358.5M349.5 37.1H358.5M352.5 288.5H358.5M352.5 281.8H358.5M352.5 275.1H358.5M352.5 268.8H358.5M352.5 263.3H358.5M352.5 258.6H358.5M352.5 254.3H358.5M352.5 250.7H358.5M352.5 247.6H358.5M352.5 303.7H358.5M352.5 312.2H358.5M352.5 222H358.5M352.5 210H358.5M352.5 201.5H358.5M352.5 194.9H358.5M352.5 189.5H358.5M352.5 184.9H358.5M352.5 181H358.5M352.5 177.5H358.5M352.5 153.6H358.5M352.5 141.5H358.5M352.5 132.9H358.5M352.5 126.2H358.5M352.5 120.7H358.5M352.5 116.1H358.5M352.5 112.1H358.5M352.5 108.6H358.5M352.5 84.9H358.5M352.5 72.8H358.5M352.5 64.3H358.5M352.5 57.7H358.5M352.5 52.3H358.5M352.5 47.7H358.5M352.5 43.7H358.5M352.5 40.2H358.5M394.6 321.3V330.3M450.5 321.3V330.3M543.4 321.3V330.3M638.5 321.3V330.3M401.7 321.3V327.3M408.8 321.3V327.3M415.9 321.3V327.3M422.5 321.3V327.3M428.4 321.3V327.3M433.4 321.3V327.3M438 321.3V327.3M441.7 321.3V327.3M445.1 321.3V327.3M387 321.3V327.3M379.4 321.3V327.3M371.8 321.3V327.3M364.2 321.3V327.3M478.5 321.3V327.3M494.8 321.3V327.3M506.5 321.3V327.3M515.5 321.3V327.3M522.8 321.3V327.3M529 321.3V327.3M534.4 321.3V327.3M539.2 321.3V327.3M572 321.3V327.3M588.8 321.3V327.3M600.6 321.3V327.3M609.8 321.3V327.3M617.4 321.3V327.3M623.7 321.3V327.3M629.2 321.3V327.3M634.1 321.3V327.3" stroke="#6a6a6a" stroke-width="1.8" fill="none"/>
<text transform="translate(343.5,295.2) rotate(-90)" x="0" text-anchor="middle" font-family='"Liberation Sans", sans-serif' font-size="17.5" fill="#4a4a4a">0</text>
<text transform="translate(343.5,242.5) rotate(-90)" x="-9.7" font-family='"Liberation Sans", sans-serif' font-size="17.5" fill="#4a4a4a">10<tspan font-size="11.6" dy="-7.7">4</tspan></text>
<text transform="translate(343.5,174.4) rotate(-90)" x="-9.7" font-family='"Liberation Sans", sans-serif' font-size="17.5" fill="#4a4a4a">10<tspan font-size="11.6" dy="-7.7">5</tspan></text>
<text transform="translate(343.5,105.4) rotate(-90)" x="-9.7" font-family='"Liberation Sans", sans-serif' font-size="17.5" fill="#4a4a4a">10<tspan font-size="11.6" dy="-7.7">6</tspan></text>
<text transform="translate(343.5,37.1) rotate(-90)" x="-9.7" font-family='"Liberation Sans", sans-serif' font-size="17.5" fill="#4a4a4a">10<tspan font-size="11.6" dy="-7.7">7</tspan></text>
<text x="394.6" y="349.6" text-anchor="middle" font-family='"Liberation Sans", sans-serif' font-size="17.5" fill="#4a4a4a">0</text>
<text x="440.8" y="349.6" font-family='"Liberation Sans", sans-serif' font-size="17.5" fill="#4a4a4a">10<tspan font-size="11.6" dy="-7.7">5</tspan></text>
<text x="533.7" y="349.6" font-family='"Liberation Sans", sans-serif' font-size="17.5" fill="#4a4a4a">10<tspan font-size="11.6" dy="-7.7">6</tspan></text>
<text x="628.7" y="349.6" font-family='"Liberation Sans", sans-serif' font-size="17.5" fill="#4a4a4a">10<tspan font-size="11.6" dy="-7.7">7</tspan></text>
<text x="362.5" y="42" font-family='"Liberation Sans", sans-serif' font-size="16" fill="#4a4a4a">Q1(2.42%)</text>
<text x="654.7" y="42" text-anchor="end" font-family='"Liberation Sans", sans-serif' font-size="16" fill="#4a4a4a">Q2(4.75%)</text>
<text x="362.5" y="314.8" font-family='"Liberation Sans", sans-serif' font-size="16" fill="#4a4a4a">Q3(92.12%)</text>
<text x="654.7" y="314.8" text-anchor="end" font-family='"Liberation Sans", sans-serif' font-size="16" fill="#4a4a4a">Q4(0.70%)</text>
<path d="M1006 96h1.7M993 99h1.7M973 103h1.7M847 104h1.7M1033 110h1.7M958 113h1.7M966 116h1.7M972 117h1.7M940 118h1.7M969 120h1.7M953 121h1.7M969 121h1.7M956 123h1.7M974 124h1.7M929 125h1.7M965 125h1.7M971 125h1.7M957 126h1.7M984 126h1.7M985 126h1.7M999 127h1.7M1001 128h1.7M908 129h1.7M982 130h1.7M990 130h1.7M970 131h1.7M986 131h1.7M1000 131h1.7M1008 131h1.7M955 132h1.7M970 132h1.7M970 133h1.7M910 134h1.7M967 134h1.7M985 136h1.7M995 136h1.7M999 136h1.7M970 137h1.7M937 138h1.7M940 138h1.7M961 138h1.7M993 138h1.7M959 139h1.7M1005 139h1.7M941 140h1.7M956 140h1.7M962 140h1.7M1002 140h1.7M991 141h1.7M942 142h1.7M959 142h1.7M978 142h1.7M996 142h1.7M939 143h1.7M961 143h1.7M964 143h1.7M975 143h1.7M954 144h1.7M970 144h1.7M990 144h1.7M944 145h1.7M951 145h1.7M962 145h1.7M967 145h1.7M936 146h1.7M941 146h1.7M962 146h1.7M963 146h1.7M970 146h1.7M978 146h1.7M929 147h1.7M943 147h1.7M946 147h1.7M1006 148h1.7M929 149h1.7M949 149h1.7M950 149h1.7M965 149h1.7M978 149h1.7M900 150h1.7M950 150h1.7M955 151h1.7M969 151h1.7M986 151h1.7M998 151h1.7M901 152h1.7M916 152h1.7M919 152h1.7M950 152h1.7M955 152h1.7M957 152h1.7M959 152h1.7M961 152h1.7M970 152h1.7M991 152h1.7M896 153h1.7M899 153h1.7M910 153h1.7M921 153h1.7M940 153h1.7M964 153h1.7M939 154h1.7M947 154h1.7M969 154h1.7M979 154h1.7M981 154h1.7M994 154h1.7M940 155h1.7M941 155h1.7M965 155h1.7M890 156h1.7M948 156h1.7M970 156h1.7M972 156h1.7M975 156h1.7M917 157h1.7M918 157h1.7M924 157h1.7M931 157h1.7M941 157h1.7M942 157h1.7M946 157h1.7M963 157h1.7M975 157h1.7M983 157h1.7M866 158h1.7M888 158h1.7M904 158h1.7M913 158h1.7M927 158h1.7M930 158h1.7M931 158h1.7M932 158h1.7M933 158h1.7M943 158h1.7M946 158h1.7M952 158h1.7M958 158h1.7M961 158h1.7M966 158h1.7M976 158h1.7M987 158h1.7M918 159h1.7M922 159h1.7M930 159h1.7M934 159h1.7M941 159h1.7M944 159h1.7M964 159h1.7M899 160h1.7M934 160h1.7M954 160h1.7M962 160h1.7M970 160h1.7M1000 160h1.7M913 161h1.7M917 161h1.7M933 161h1.7M955 161h1.7M960 161h1.7M963 161h1.7M966 161h1.7M957 162h1.7M962 162h1.7M964 162h1.7M965 162h1.7M976 162h1.7M887 163h1.7M895 163h1.7M924 163h1.7M930 163h1.7M938 163h1.7M954 163h1.7M962 163h1.7M1016 163h1.7M942 164h1.7M950 164h1.7M962 164h1.7M871 165h1.7M908 165h1.7M923 165h1.7M939 165h1.7M940 165h1.7M942 165h1.7M945 165h1.7M949 165h1.7M967 165h1.7M861 166h1.7M884 166h1.7M916 166h1.7M925 166h1.7M936 166h1.7M938 166h1.7M951 166h1.7M952 166h1.7M957 166h1.7M961 166h1.7M976 166h1.7M883 167h1.7M895 167h1.7M917 167h1.7M934 167h1.7M956 167h1.7M972 167h1.7M976 167h1.7M992 167h1.7M894 168h1.7M925 168h1.7M937 168h1.7M940 168h1.7M943 168h1.7M980 168h1.7M896 169h1.7M914 169h1.7M933 169h1.7M936 169h1.7M990 169h1.7M1000 169h1.7M883 170h1.7M890 170h1.7M932 170h1.7M936 170h1.7M946 170h1.7M951 170h1.7M885 171h1.7M944 171h1.7M954 171h1.7M984 171h1.7M887 172h1.7M896 172h1.7M918 172h1.7M925 172h1.7M928 172h1.7M938 172h1.7M941 172h1.7M942 172h1.7M960 172h1.7M969 172h1.7M874 173h1.7M904 173h1.7M911 173h1.7M914 173h1.7M940 173h1.7M948 173h1.7M953 173h1.7M913 174h1.7M914 174h1.7M925 174h1.7M927 174h1.7M940 174h1.7M946 174h1.7M885 175h1.7M913 175h1.7M920 175h1.7M924 175h1.7M929 175h1.7M972 175h1.7M911 176h1.7M939 176h1.7M941 176h1.7M944 176h1.7M955 176h1.7M916 177h1.7M970 177h1.7M899 178h1.7M909 178h1.7M914 178h1.7M916 178h1.7M934 178h1.7M943 178h1.7M955 178h1.7M934 179h1.7M886 180h1.7M894 180h1.7M925 180h1.7M931 180h1.7M933 180h1.7M956 180h1.7M880 181h1.7M898 181h1.7M905 181h1.7M909 181h1.7M910 181h1.7M929 181h1.7M945 181h1.7M948 181h1.7M951 181h1.7M898 182h1.7M922 182h1.7M941 182h1.7M954 182h1.7M964 182h1.7M899 183h1.7M903 183h1.7M947 183h1.7M957 183h1.7M959 183h1.7M960 183h1.7M970 183h1.7M858 184h1.7M897 184h1.7M912 184h1.7M914 184h1.7M940 184h1.7M942 184h1.7M945 184h1.7M952 184h1.7M961 184h1.7M917 185h1.7M941 185h1.7M952 185h1.7M960 185h1.7M886 186h1.7M911 186h1.7M912 186h1.7M920 186h1.7M933 186h1.7M954 186h1.7M977 186h1.7M888 187h1.7M889 187h1.7M905 188h1.7M906 188h1.7M916 188h1.7M927 188h1.7M934 188h1.7M897 189h1.7M917 189h1.7M925 189h1.7M951 189h1.7M875 190h1.7M885 190h1.7M897 190h1.7M905 190h1.7M908 190h1.7M932 190h1.7M938 190h1.7M944 190h1.7M945 190h1.7M883 191h1.7M910 191h1.7M930 191h1.7M934 191h1.7M938 191h1.7M947 191h1.7M899 192h1.7M915 192h1.7M920 192h1.7M925 192h1.7M887 193h1.7M898 193h1.7M908 193h1.7M911 193h1.7M913 193h1.7M920 193h1.7M923 193h1.7M925 193h1.7M934 193h1.7M939 193h1.7M902 194h1.7M905 194h1.7M943 194h1.7M857 195h1.7M903 195h1.7M914 195h1.7M927 195h1.7M947 195h1.7M913 196h1.7M925 196h1.7M893 197h1.7M894 197h1.7M949 197h1.7M861 198h1.7M874 198h1.7M920 198h1.7M868 199h1.7M903 199h1.7M923 200h1.7M974 200h1.7M906 201h1.7M863 202h1.7M876 202h1.7M905 202h1.7M908 202h1.7M949 202h1.7M911 204h1.7M915 204h1.7M921 204h1.7M942 204h1.7M952 204h1.7M911 205h1.7M920 205h1.7M932 205h1.7M856 206h1.7M893 206h1.7M910 206h1.7M935 206h1.7M856 207h1.7M857 207h1.7M901 207h1.7M900 208h1.7M960 208h1.7M891 209h1.7M903 209h1.7M910 209h1.7M912 209h1.7M938 209h1.7M852 210h1.7M864 210h1.7M899 210h1.7M889 211h1.7M895 211h1.7M898 211h1.7M914 211h1.7M920 211h1.7M868 212h1.7M969 212h1.7M856 213h1.7M862 213h1.7M913 213h1.7M860 214h1.7M866 214h1.7M880 214h1.7M956 214h1.7M866 215h1.7M873 215h1.7M876 215h1.7M909 215h1.7M862 216h1.7M872 216h1.7M874 216h1.7M907 216h1.7M916 216h1.7M957 216h1.7M840 217h1.7M858 217h1.7M867 217h1.7M868 217h1.7M869 217h1.7M872 217h1.7M875 217h1.7M877 217h1.7M889 217h1.7M894 217h1.7M940 217h1.7M861 218h1.7M872 218h1.7M873 218h1.7M923 218h1.7M967 218h1.7M976 218h1.7M848 219h1.7M865 219h1.7M873 219h1.7M876 219h1.7M883 219h1.7M886 219h1.7M932 219h1.7M847 220h1.7M866 220h1.7M873 220h1.7M876 220h1.7M896 220h1.7M949 220h1.7M852 221h1.7M862 221h1.7M869 221h1.7M882 221h1.7M952 221h1.7M845 222h1.7M853 222h1.7M870 222h1.7M872 222h1.7M878 222h1.7M879 222h1.7M880 222h1.7M881 222h1.7M833 223h1.7M851 223h1.7M859 223h1.7M861 223h1.7M862 223h1.7M867 223h1.7M868 223h1.7M869 223h1.7M870 223h1.7M872 223h1.7M874 223h1.7M876 223h1.7M894 223h1.7M933 223h1.7M955 223h1.7M958 223h1.7M838 224h1.7M863 224h1.7M865 224h1.7M866 224h1.7M878 224h1.7M899 224h1.7M834 225h1.7M854 225h1.7M860 225h1.7M865 225h1.7M867 225h1.7M868 225h1.7M869 225h1.7M871 225h1.7M874 225h1.7M878 225h1.7M882 225h1.7M885 225h1.7M891 225h1.7M923 225h1.7M837 226h1.7M848 226h1.7M855 226h1.7M862 226h1.7M864 226h1.7M870 226h1.7M872 226h1.7M875 226h1.7M880 226h1.7M889 226h1.7M897 226h1.7M938 226h1.7M835 227h1.7M848 227h1.7M860 227h1.7M861 227h1.7M862 227h1.7M863 227h1.7M868 227h1.7M869 227h1.7M871 227h1.7M873 227h1.7M877 227h1.7M880 227h1.7M883 227h1.7M902 227h1.7M920 227h1.7M936 227h1.7M949 227h1.7M852 228h1.7M857 228h1.7M859 228h1.7M860 228h1.7M861 228h1.7M862 228h1.7M865 228h1.7M869 228h1.7M870 228h1.7M871 228h1.7M872 228h1.7M873 228h1.7M878 228h1.7M879 228h1.7M880 228h1.7M885 228h1.7M902 228h1.7M823 229h1.7M842 229h1.7M846 229h1.7M849 229h1.7M852 229h1.7M853 229h1.7M855 229h1.7M856 229h1.7M858 229h1.7M861 229h1.7M863 229h1.7M866 229h1.7M868 229h1.7M869 229h1.7M871 229h1.7M873 229h1.7M874 229h1.7M875 229h1.7M876 229h1.7M877 229h1.7M879 229h1.7M880 229h1.7M883 229h1.7M894 229h1.7M923 229h1.7M928 229h1.7M940 229h1.7M948 229h1.7M854 230h1.7M855 230h1.7M856 230h1.7M859 230h1.7M861 230h1.7M864 230h1.7M868 230h1.7M869 230h1.7M870 230h1.7M882 230h1.7M883 230h1.7M888 230h1.7M890 230h1.7M920 230h1.7M838 231h1.7M852 231h1.7M854 231h1.7M856 231h1.7M859 231h1.7M864 231h1.7M866 231h1.7M867 231h1.7M868 231h1.7M870 231h1.7M871 231h1.7M877 231h1.7M879 231h1.7M880 231h1.7M881 231h1.7M885 231h1.7M888 231h1.7M900 231h1.7M905 231h1.7M925 231h1.7M823 232h1.7M847 232h1.7M849 232h1.7M851 232h1.7M857 232h1.7M859 232h1.7M861 232h1.7M864 232h1.7M865 232h1.7M866 232h1.7M867 232h1.7M868 232h1.7M870 232h1.7M873 232h1.7M874 232h1.7M876 232h1.7M878 232h1.7M881 232h1.7M884 232h1.7M885 232h1.7M890 232h1.7M949 232h1.7M844 233h1.7M845 233h1.7M849 233h1.7M851 233h1.7M855 233h1.7M858 233h1.7M860 233h1.7M861 233h1.7M862 233h1.7M864 233h1.7M865 233h1.7M866 233h1.7M868 233h1.7M869 233h1.7M870 233h1.7M871 233h1.7M872 233h1.7M877 233h1.7M879 233h1.7M882 233h1.7M887 233h1.7M902 233h1.7M904 233h1.7M905 233h1.7M906 233h1.7M924 233h1.7M937 233h1.7M831 234h1.7M842 234h1.7M844 234h1.7M852 234h1.7M853 234h1.7M855 234h1.7M858 234h1.7M860 234h1.7M861 234h1.7M862 234h1.7M863 234h1.7M865 234h1.7M866 234h1.7M867 234h1.7M868 234h1.7M869 234h1.7M870 234h1.7M871 234h1.7M872 234h1.7M873 234h1.7M875 234h1.7M876 234h1.7M877 234h1.7M878 234h1.7M880 234h1.7M893 234h1.7M894 234h1.7M895 234h1.7M903 234h1.7M843 235h1.7M846 235h1.7M848 235h1.7M853 235h1.7M854 235h1.7M855 235h1.7M858 235h1.7M859 235h1.7M860 235h1.7M861 235h1.7M863 235h1.7M864 235h1.7M865 235h1.7M869 235h1.7M872 235h1.7M874 235h1.7M886 235h1.7M890 235h1.7M892 235h1.7M894 235h1.7M914 235h1.7M928 235h1.7M931 235h1.7M934 235h1.7M950 235h1.7M825 236h1.7M839 236h1.7M842 236h1.7M845 236h1.7M847 236h1.7M848 236h1.7M852 236h1.7M855 236h1.7M857 236h1.7M858 236h1.7M860 236h1.7M862 236h1.7M864 236h1.7M867 236h1.7M869 236h1.7M874 236h1.7M882 236h1.7M885 236h1.7M896 236h1.7M900 236h1.7M917 236h1.7M930 236h1.7M945 236h1.7M823 237h1.7M836 237h1.7M845 237h1.7M846 237h1.7M850 237h1.7M851 237h1.7M852 237h1.7M854 237h1.7M855 237h1.7M856 237h1.7M859 237h1.7M861 237h1.7M862 237h1.7M863 237h1.7M865 237h1.7M866 237h1.7M867 237h1.7M868 237h1.7M869 237h1.7M870 237h1.7M873 237h1.7M876 237h1.7M879 237h1.7M886 237h1.7M894 237h1.7M895 237h1.7M903 237h1.7M906 237h1.7M920 237h1.7M930 237h1.7M939 237h1.7M814 238h1.7M826 238h1.7M834 238h1.7M835 238h1.7M843 238h1.7M845 238h1.7M848 238h1.7M849 238h1.7M850 238h1.7M851 238h1.7M852 238h1.7M856 238h1.7M857 238h1.7M858 238h1.7M861 238h1.7M864 238h1.7M865 238h1.7M868 238h1.7M873 238h1.7M875 238h1.7M876 238h1.7M877 238h1.7M878 238h1.7M887 238h1.7M897 238h1.7M901 238h1.7M906 238h1.7M924 238h1.7M925 238h1.7M841 239h1.7M842 239h1.7M844 239h1.7M845 239h1.7M846 239h1.7M847 239h1.7M849 239h1.7M851 239h1.7M852 239h1.7M853 239h1.7M854 239h1.7M856 239h1.7M858 239h1.7M859 239h1.7M860 239h1.7M862 239h1.7M863 239h1.7M865 239h1.7M866 239h1.7M867 239h1.7M869 239h1.7M871 239h1.7M873 239h1.7M874 239h1.7M876 239h1.7M877 239h1.7M881 239h1.7M899 239h1.7M902 239h1.7M922 239h1.7M953 239h1.7M818 240h1.7M834 240h1.7M835 240h1.7M837 240h1.7M839 240h1.7M845 240h1.7M846 240h1.7M847 240h1.7M848 240h1.7M850 240h1.7M851 240h1.7M853 240h1.7M854 240h1.7M855 240h1.7M857 240h1.7M859 240h1.7M860 240h1.7M861 240h1.7M863 240h1.7M866 240h1.7M868 240h1.7M869 240h1.7M871 240h1.7M873 240h1.7M875 240h1.7M879 240h1.7M886 240h1.7M895 240h1.7M897 240h1.7M899 240h1.7M900 240h1.7M901 240h1.7M908 240h1.7M910 240h1.7M923 240h1.7M951 240h1.7M835 241h1.7M841 241h1.7M842 241h1.7M846 241h1.7M847 241h1.7M848 241h1.7M850 241h1.7M852 241h1.7M853 241h1.7M854 241h1.7M855 241h1.7M856 241h1.7M857 241h1.7M858 241h1.7M859 241h1.7M860 241h1.7M861 241h1.7M862 241h1.7M863 241h1.7M864 241h1.7M866 241h1.7M867 241h1.7M868 241h1.7M869 241h1.7M870 241h1.7M874 241h1.7M876 241h1.7M880 241h1.7M887 241h1.7M889 241h1.7M890 241h1.7M903 241h1.7M909 241h1.7M920 241h1.7M925 241h1.7M935 241h1.7M936 241h1.7M981 241h1.7M833 242h1.7M839 242h1.7M842 242h1.7M843 242h1.7M844 242h1.7M845 242h1.7M846 242h1.7M848 242h1.7M851 242h1.7M853 242h1.7M854 242h1.7M856 242h1.7M858 242h1.7M859 242h1.7M862 242h1.7M863 242h1.7M864 242h1.7M865 242h1.7M866 242h1.7M867 242h1.7M868 242h1.7M870 242h1.7M872 242h1.7M873 242h1.7M875 242h1.7M879 242h1.7M880 242h1.7M883 242h1.7M884 242h1.7M890 242h1.7M894 242h1.7M897 242h1.7M900 242h1.7M906 242h1.7M910 242h1.7M914 242h1.7M921 242h1.7M927 242h1.7M950 242h1.7M829 243h1.7M831 243h1.7M834 243h1.7M835 243h1.7M837 243h1.7M838 243h1.7M840 243h1.7M841 243h1.7M843 243h1.7M845 243h1.7M846 243h1.7M847 243h1.7M848 243h1.7M849 243h1.7M850 243h1.7M851 243h1.7M852 243h1.7M853 243h1.7M854 243h1.7M855 243h1.7M856 243h1.7M857 243h1.7M858 243h1.7M859 243h1.7M860 243h1.7M861 243h1.7M862 243h1.7M864 243h1.7M866 243h1.7M867 243h1.7M873 243h1.7M874 243h1.7M878 243h1.7M886 243h1.7M888 243h1.7M889 243h1.7M890 243h1.7M892 243h1.7M895 243h1.7M897 243h1.7M898 243h1.7M906 243h1.7M908 243h1.7M913 243h1.7M921 243h1.7M927 243h1.7M937 243h1.7M832 244h1.7M833 244h1.7M838 244h1.7M840 244h1.7M841 244h1.7M842 244h1.7M843 244h1.7M845 244h1.7M848 244h1.7M851 244h1.7M852 244h1.7M853 244h1.7M856 244h1.7M857 244h1.7M858 244h1.7M859 244h1.7M861 244h1.7M862 244h1.7M863 244h1.7M864 244h1.7M865 244h1.7M875 244h1.7M876 244h1.7M878 244h1.7M882 244h1.7M889 244h1.7M903 244h1.7M905 244h1.7M908 244h1.7M831 245h1.7M835 245h1.7M837 245h1.7M838 245h1.7M841 245h1.7M842 245h1.7M844 245h1.7M845 245h1.7M846 245h1.7M847 245h1.7M848 245h1.7M850 245h1.7M851 245h1.7M852 245h1.7M853 245h1.7M854 245h1.7M855 245h1.7M857 245h1.7M858 245h1.7M859 245h1.7M860 245h1.7M861 245h1.7M862 245h1.7M863 245h1.7M864 245h1.7M866 245h1.7M869 245h1.7M870 245h1.7M872 245h1.7M873 245h1.7M874 245h1.7M875 245h1.7M879 245h1.7M880 245h1.7M881 245h1.7M883 245h1.7M886 245h1.7M890 245h1.7M893 245h1.7M896 245h1.7M899 245h1.7M900 245h1.7M901 245h1.7M902 245h1.7M903 245h1.7M905 245h1.7M906 245h1.7M910 245h1.7M911 245h1.7M915 245h1.7M936 245h1.7M821 246h1.7M823 246h1.7M833 246h1.7M838 246h1.7M840 246h1.7M841 246h1.7M842 246h1.7M843 246h1.7M844 246h1.7M846 246h1.7M847 246h1.7M849 246h1.7M850 246h1.7M851 246h1.7M852 246h1.7M853 246h1.7M854 246h1.7M855 246h1.7M858 246h1.7M860 246h1.7M861 246h1.7M862 246h1.7M863 246h1.7M866 246h1.7M867 246h1.7M872 246h1.7M874 246h1.7M875 246h1.7M890 246h1.7M892 246h1.7M893 246h1.7M908 246h1.7M912 246h1.7M952 246h1.7M822 247h1.7M823 247h1.7M826 247h1.7M831 247h1.7M835 247h1.7M836 247h1.7M837 247h1.7M840 247h1.7M841 247h1.7M844 247h1.7M846 247h1.7M847 247h1.7M848 247h1.7M849 247h1.7M850 247h1.7M851 247h1.7M852 247h1.7M853 247h1.7M854 247h1.7M856 247h1.7M857 247h1.7M858 247h1.7M859 247h1.7M860 247h1.7M861 247h1.7M863 247h1.7M864 247h1.7M865 247h1.7M867 247h1.7M872 247h1.7M873 247h1.7M876 247h1.7M882 247h1.7M884 247h1.7M886 247h1.7M888 247h1.7M890 247h1.7M900 247h1.7M901 247h1.7M909 247h1.7M929 247h1.7M934 247h1.7M954 247h1.7M825 248h1.7M831 248h1.7M833 248h1.7M834 248h1.7M835 248h1.7M836 248h1.7M841 248h1.7M842 248h1.7M843 248h1.7M844 248h1.7M845 248h1.7M846 248h1.7M847 248h1.7M849 248h1.7M850 248h1.7M851 248h1.7M852 248h1.7M854 248h1.7M855 248h1.7M856 248h1.7M857 248h1.7M859 248h1.7M860 248h1.7M861 248h1.7M865 248h1.7M868 248h1.7M873 248h1.7M878 248h1.7M879 248h1.7M882 248h1.7M886 248h1.7M890 248h1.7M894 248h1.7M898 248h1.7M899 248h1.7M920 248h1.7M940 248h1.7M830 249h1.7M831 249h1.7M835 249h1.7M837 249h1.7M838 249h1.7M839 249h1.7M840 249h1.7M841 249h1.7M842 249h1.7M843 249h1.7M844 249h1.7M846 249h1.7M848 249h1.7M849 249h1.7M850 249h1.7M851 249h1.7M852 249h1.7M853 249h1.7M854 249h1.7M858 249h1.7M859 249h1.7M861 249h1.7M863 249h1.7M864 249h1.7M867 249h1.7M869 249h1.7M871 249h1.7M875 249h1.7M878 249h1.7M903 249h1.7M915 249h1.7M824 250h1.7M826 250h1.7M828 250h1.7M830 250h1.7M832 250h1.7M833 250h1.7M834 250h1.7M835 250h1.7M836 250h1.7M837 250h1.7M838 250h1.7M839 250h1.7M840 250h1.7M841 250h1.7M843 250h1.7M844 250h1.7M846 250h1.7M848 250h1.7M849 250h1.7M850 250h1.7M851 250h1.7M852 250h1.7M853 250h1.7M854 250h1.7M855 250h1.7M856 250h1.7M857 250h1.7M861 250h1.7M862 250h1.7M864 250h1.7M869 250h1.7M873 250h1.7M878 250h1.7M882 250h1.7M892 250h1.7M894 250h1.7M899 250h1.7M910 250h1.7M941 250h1.7M814 251h1.7M820 251h1.7M822 251h1.7M823 251h1.7M824 251h1.7M825 251h1.7M829 251h1.7M830 251h1.7M831 251h1.7M832 251h1.7M834 251h1.7M837 251h1.7M839 251h1.7M840 251h1.7M841 251h1.7M843 251h1.7M844 251h1.7M845 251h1.7M846 251h1.7M847 251h1.7M848 251h1.7M850 251h1.7M851 251h1.7M852 251h1.7M853 251h1.7M854 251h1.7M855 251h1.7M856 251h1.7M857 251h1.7M858 251h1.7M861 251h1.7M862 251h1.7M863 251h1.7M864 251h1.7M871 251h1.7M877 251h1.7M883 251h1.7M885 251h1.7M895 251h1.7M899 251h1.7M905 251h1.7M908 251h1.7M909 251h1.7M914 251h1.7M821 252h1.7M823 252h1.7M824 252h1.7M825 252h1.7M826 252h1.7M828 252h1.7M829 252h1.7M831 252h1.7M832 252h1.7M833 252h1.7M835 252h1.7M837 252h1.7M838 252h1.7M839 252h1.7M840 252h1.7M841 252h1.7M842 252h1.7M843 252h1.7M844 252h1.7M845 252h1.7M846 252h1.7M847 252h1.7M849 252h1.7M851 252h1.7M853 252h1.7M855 252h1.7M857 252h1.7M858 252h1.7M859 252h1.7M861 252h1.7M862 252h1.7M867 252h1.7M869 252h1.7M871 252h1.7M874 252h1.7M885 252h1.7M889 252h1.7M895 252h1.7M898 252h1.7M904 252h1.7M905 252h1.7M908 252h1.7M912 252h1.7M915 252h1.7M919 252h1.7M923 252h1.7M809 253h1.7M818 253h1.7M819 253h1.7M824 253h1.7M826 253h1.7M828 253h1.7M829 253h1.7M830 253h1.7M831 253h1.7M834 253h1.7M835 253h1.7M836 253h1.7M837 253h1.7M839 253h1.7M840 253h1.7M841 253h1.7M842 253h1.7M843 253h1.7M846 253h1.7M847 253h1.7M848 253h1.7M850 253h1.7M851 253h1.7M852 253h1.7M853 253h1.7M855 253h1.7M859 253h1.7M860 253h1.7M861 253h1.7M862 253h1.7M863 253h1.7M865 253h1.7M867 253h1.7M869 253h1.7M872 253h1.7M881 253h1.7M887 253h1.7M888 253h1.7M890 253h1.7M893 253h1.7M895 253h1.7M904 253h1.7M912 253h1.7M913 253h1.7M808 254h1.7M816 254h1.7M818 254h1.7M821 254h1.7M822 254h1.7M823 254h1.7M824 254h1.7M826 254h1.7M828 254h1.7M829 254h1.7M830 254h1.7M831 254h1.7M832 254h1.7M833 254h1.7M834 254h1.7M835 254h1.7M836 254h1.7M839 254h1.7M840 254h1.7M841 254h1.7M842 254h1.7M843 254h1.7M845 254h1.7M846 254h1.7M848 254h1.7M849 254h1.7M850 254h1.7M851 254h1.7M852 254h1.7M853 254h1.7M855 254h1.7M856 254h1.7M858 254h1.7M860 254h1.7M863 254h1.7M864 254h1.7M866 254h1.7M869 254h1.7M870 254h1.7M872 254h1.7M876 254h1.7M877 254h1.7M883 254h1.7M893 254h1.7M898 254h1.7M900 254h1.7M904 254h1.7M907 254h1.7M913 254h1.7M778 255h1.7M815 255h1.7M819 255h1.7M824 255h1.7M825 255h1.7M826 255h1.7M827 255h1.7M828 255h1.7M830 255h1.7M831 255h1.7M833 255h1.7M834 255h1.7M835 255h1.7M837 255h1.7M838 255h1.7M839 255h1.7M840 255h1.7M841 255h1.7M842 255h1.7M843 255h1.7M844 255h1.7M846 255h1.7M847 255h1.7M848 255h1.7M849 255h1.7M850 255h1.7M851 255h1.7M852 255h1.7M853 255h1.7M855 255h1.7M856 255h1.7M857 255h1.7M858 255h1.7M860 255h1.7M864 255h1.7M865 255h1.7M866 255h1.7M868 255h1.7M869 255h1.7M870 255h1.7M871 255h1.7M873 255h1.7M874 255h1.7M877 255h1.7M881 255h1.7M883 255h1.7M888 255h1.7M896 255h1.7M898 255h1.7M926 255h1.7M928 255h1.7M817 256h1.7M818 256h1.7M823 256h1.7M825 256h1.7M826 256h1.7M827 256h1.7M829 256h1.7M830 256h1.7M832 256h1.7M833 256h1.7M834 256h1.7M835 256h1.7M836 256h1.7M837 256h1.7M838 256h1.7M839 256h1.7M841 256h1.7M842 256h1.7M843 256h1.7M844 256h1.7M845 256h1.7M846 256h1.7M848 256h1.7M849 256h1.7M850 256h1.7M852 256h1.7M854 256h1.7M855 256h1.7M856 256h1.7M860 256h1.7M861 256h1.7M864 256h1.7M865 256h1.7M866 256h1.7M867 256h1.7M868 256h1.7M872 256h1.7M876 256h1.7M880 256h1.7M881 256h1.7M883 256h1.7M896 256h1.7M897 256h1.7M909 256h1.7M914 256h1.7M815 257h1.7M821 257h1.7M823 257h1.7M824 257h1.7M825 257h1.7M826 257h1.7M827 257h1.7M828 257h1.7M829 257h1.7M830 257h1.7M831 257h1.7M833 257h1.7M834 257h1.7M835 257h1.7M836 257h1.7M837 257h1.7M838 257h1.7M839 257h1.7M840 257h1.7M842 257h1.7M844 257h1.7M846 257h1.7M847 257h1.7M848 257h1.7M849 257h1.7M850 257h1.7M851 257h1.7M852 257h1.7M854 257h1.7M855 257h1.7M861 257h1.7M862 257h1.7M863 257h1.7M865 257h1.7M866 257h1.7M871 257h1.7M881 257h1.7M883 257h1.7M886 257h1.7M891 257h1.7M892 257h1.7M895 257h1.7M896 257h1.7M910 257h1.7M806 258h1.7M818 258h1.7M819 258h1.7M821 258h1.7M823 258h1.7M824 258h1.7M826 258h1.7M827 258h1.7M829 258h1.7M830 258h1.7M832 258h1.7M833 258h1.7M834 258h1.7M837 258h1.7M838 258h1.7M840 258h1.7M841 258h1.7M843 258h1.7M844 258h1.7M845 258h1.7M846 258h1.7M848 258h1.7M850 258h1.7M851 258h1.7M852 258h1.7M853 258h1.7M854 258h1.7M855 258h1.7M856 258h1.7M858 258h1.7M863 258h1.7M864 258h1.7M866 258h1.7M874 258h1.7M877 258h1.7M883 258h1.7M884 258h1.7M885 258h1.7M889 258h1.7M893 258h1.7M896 258h1.7M897 258h1.7M901 258h1.7M905 258h1.7M800 259h1.7M812 259h1.7M815 259h1.7M816 259h1.7M817 259h1.7M819 259h1.7M821 259h1.7M822 259h1.7M824 259h1.7M825 259h1.7M829 259h1.7M830 259h1.7M831 259h1.7M832 259h1.7M833 259h1.7M834 259h1.7M835 259h1.7M836 259h1.7M837 259h1.7M839 259h1.7M840 259h1.7M841 259h1.7M843 259h1.7M844 259h1.7M845 259h1.7M846 259h1.7M847 259h1.7M848 259h1.7M849 259h1.7M850 259h1.7M851 259h1.7M852 259h1.7M856 259h1.7M857 259h1.7M858 259h1.7M859 259h1.7M861 259h1.7M866 259h1.7M870 259h1.7M872 259h1.7M873 259h1.7M876 259h1.7M878 259h1.7M879 259h1.7M880 259h1.7M882 259h1.7M883 259h1.7M885 259h1.7M886 259h1.7M888 259h1.7M890 259h1.7M895 259h1.7M903 259h1.7M904 259h1.7M911 259h1.7M922 259h1.7M810 260h1.7M811 260h1.7M812 260h1.7M815 260h1.7M818 260h1.7M820 260h1.7M821 260h1.7M822 260h1.7M825 260h1.7M827 260h1.7M828 260h1.7M829 260h1.7M830 260h1.7M831 260h1.7M832 260h1.7M834 260h1.7M835 260h1.7M837 260h1.7M838 260h1.7M839 260h1.7M840 260h1.7M841 260h1.7M842 260h1.7M843 260h1.7M846 260h1.7M847 260h1.7M848 260h1.7M849 260h1.7M850 260h1.7M851 260h1.7M852 260h1.7M857 260h1.7M858 260h1.7M861 260h1.7M862 260h1.7M864 260h1.7M871 260h1.7M876 260h1.7M877 260h1.7M886 260h1.7M887 260h1.7M888 260h1.7M889 260h1.7M893 260h1.7M899 260h1.7M901 260h1.7M902 260h1.7M905 260h1.7M906 260h1.7M910 260h1.7M916 260h1.7M804 261h1.7M807 261h1.7M812 261h1.7M815 261h1.7M817 261h1.7M819 261h1.7M820 261h1.7M821 261h1.7M823 261h1.7M825 261h1.7M826 261h1.7M827 261h1.7M829 261h1.7M830 261h1.7M831 261h1.7M832 261h1.7M833 261h1.7M834 261h1.7M835 261h1.7M836 261h1.7M837 261h1.7M838 261h1.7M839 261h1.7M840 261h1.7M842 261h1.7M843 261h1.7M844 261h1.7M845 261h1.7M846 261h1.7M847 261h1.7M848 261h1.7M850 261h1.7M853 261h1.7M858 261h1.7M860 261h1.7M862 261h1.7M865 261h1.7M866 261h1.7M867 261h1.7M868 261h1.7M869 261h1.7M870 261h1.7M873 261h1.7M876 261h1.7M879 261h1.7M883 261h1.7M887 261h1.7M889 261h1.7M890 261h1.7M892 261h1.7M893 261h1.7M904 261h1.7M912 261h1.7M915 261h1.7M809 262h1.7M810 262h1.7M812 262h1.7M813 262h1.7M816 262h1.7M819 262h1.7M820 262h1.7M821 262h1.7M822 262h1.7M823 262h1.7M824 262h1.7M825 262h1.7M826 262h1.7M827 262h1.7M828 262h1.7M829 262h1.7M830 262h1.7M831 262h1.7M833 262h1.7M834 262h1.7M835 262h1.7M836 262h1.7M837 262h1.7M838 262h1.7M840 262h1.7M841 262h1.7M842 262h1.7M844 262h1.7M847 262h1.7M848 262h1.7M849 262h1.7M850 262h1.7M854 262h1.7M855 262h1.7M859 262h1.7M864 262h1.7M868 262h1.7M877 262h1.7M878 262h1.7M879 262h1.7M881 262h1.7M888 262h1.7M889 262h1.7M890 262h1.7M898 262h1.7M902 262h1.7M906 262h1.7M908 262h1.7M916 262h1.7M930 262h1.7M808 263h1.7M809 263h1.7M810 263h1.7M811 263h1.7M812 263h1.7M813 263h1.7M816 263h1.7M817 263h1.7M818 263h1.7M819 263h1.7M820 263h1.7M822 263h1.7M823 263h1.7M824 263h1.7M825 263h1.7M827 263h1.7M828 263h1.7M829 263h1.7M830 263h1.7M831 263h1.7M832 263h1.7M833 263h1.7M835 263h1.7M836 263h1.7M837 263h1.7M838 263h1.7M839 263h1.7M840 263h1.7M841 263h1.7M843 263h1.7M844 263h1.7M845 263h1.7M847 263h1.7M848 263h1.7M849 263h1.7M852 263h1.7M853 263h1.7M855 263h1.7M859 263h1.7M860 263h1.7M863 263h1.7M865 263h1.7M866 263h1.7M867 263h1.7M868 263h1.7M870 263h1.7M871 263h1.7M872 263h1.7M875 263h1.7M877 263h1.7M879 263h1.7M882 263h1.7M886 263h1.7M894 263h1.7M899 263h1.7M912 263h1.7M804 264h1.7M807 264h1.7M808 264h1.7M809 264h1.7M811 264h1.7M812 264h1.7M815 264h1.7M816 264h1.7M818 264h1.7M820 264h1.7M821 264h1.7M822 264h1.7M823 264h1.7M824 264h1.7M825 264h1.7M826 264h1.7M828 264h1.7M829 264h1.7M832 264h1.7M834 264h1.7M835 264h1.7M836 264h1.7M837 264h1.7M838 264h1.7M839 264h1.7M841 264h1.7M842 264h1.7M844 264h1.7M845 264h1.7M846 264h1.7M847 264h1.7M848 264h1.7M849 264h1.7M851 264h1.7M852 264h1.7M854 264h1.7M855 264h1.7M858 264h1.7M860 264h1.7M866 264h1.7M867 264h1.7M869 264h1.7M874 264h1.7M884 264h1.7M885 264h1.7M899 264h1.7M901 264h1.7M903 264h1.7M912 264h1.7M918 264h1.7M919 264h1.7M786 265h1.7M791 265h1.7M802 265h1.7M809 265h1.7M811 265h1.7M813 265h1.7M814 265h1.7M815 265h1.7M816 265h1.7M817 265h1.7M818 265h1.7M819 265h1.7M820 265h1.7M822 265h1.7M823 265h1.7M824 265h1.7M825 265h1.7M826 265h1.7M827 265h1.7M828 265h1.7M829 265h1.7M831 265h1.7M832 265h1.7M834 265h1.7M835 265h1.7M836 265h1.7M839 265h1.7M841 265h1.7M842 265h1.7M843 265h1.7M844 265h1.7M846 265h1.7M848 265h1.7M850 265h1.7M854 265h1.7M855 265h1.7M858 265h1.7M859 265h1.7M860 265h1.7M861 265h1.7M862 265h1.7M863 265h1.7M867 265h1.7M868 265h1.7M869 265h1.7M870 265h1.7M872 265h1.7M873 265h1.7M875 265h1.7M878 265h1.7M887 265h1.7M802 266h1.7M807 266h1.7M808 266h1.7M809 266h1.7M810 266h1.7M811 266h1.7M812 266h1.7M813 266h1.7M816 266h1.7M819 266h1.7M820 266h1.7M821 266h1.7M822 266h1.7M824 266h1.7M825 266h1.7M826 266h1.7M827 266h1.7M828 266h1.7M829 266h1.7M830 266h1.7M831 266h1.7M832 266h1.7M834 266h1.7M835 266h1.7M836 266h1.7M838 266h1.7M844 266h1.7M846 266h1.7M847 266h1.7M848 266h1.7M852 266h1.7M853 266h1.7M854 266h1.7M857 266h1.7M858 266h1.7M859 266h1.7M860 266h1.7M861 266h1.7M867 266h1.7M873 266h1.7M874 266h1.7M876 266h1.7M880 266h1.7M886 266h1.7M890 266h1.7M892 266h1.7M894 266h1.7M895 266h1.7M897 266h1.7M792 267h1.7M794 267h1.7M805 267h1.7M806 267h1.7M810 267h1.7M812 267h1.7M813 267h1.7M814 267h1.7M816 267h1.7M817 267h1.7M818 267h1.7M819 267h1.7M820 267h1.7M821 267h1.7M822 267h1.7M823 267h1.7M824 267h1.7M825 267h1.7M826 267h1.7M827 267h1.7M828 267h1.7M829 267h1.7M830 267h1.7M832 267h1.7M833 267h1.7M834 267h1.7M835 267h1.7M837 267h1.7M839 267h1.7M840 267h1.7M841 267h1.7M843 267h1.7M845 267h1.7M851 267h1.7M852 267h1.7M853 267h1.7M855 267h1.7M859 267h1.7M860 267h1.7M862 267h1.7M864 267h1.7M865 267h1.7M867 267h1.7M869 267h1.7M870 267h1.7M872 267h1.7M873 267h1.7M875 267h1.7M887 267h1.7M890 267h1.7M892 267h1.7M900 267h1.7M792 268h1.7M803 268h1.7M804 268h1.7M805 268h1.7M806 268h1.7M807 268h1.7M808 268h1.7M809 268h1.7M810 268h1.7M811 268h1.7M814 268h1.7M815 268h1.7M817 268h1.7M818 268h1.7M819 268h1.7M820 268h1.7M821 268h1.7M822 268h1.7M823 268h1.7M824 268h1.7M825 268h1.7M826 268h1.7M828 268h1.7M829 268h1.7M830 268h1.7M831 268h1.7M832 268h1.7M833 268h1.7M834 268h1.7M835 268h1.7M836 268h1.7M838 268h1.7M840 268h1.7M841 268h1.7M844 268h1.7M845 268h1.7M847 268h1.7M848 268h1.7M849 268h1.7M852 268h1.7M854 268h1.7M857 268h1.7M859 268h1.7M862 268h1.7M863 268h1.7M864 268h1.7M865 268h1.7M868 268h1.7M869 268h1.7M871 268h1.7M872 268h1.7M873 268h1.7M876 268h1.7M881 268h1.7M882 268h1.7M884 268h1.7M886 268h1.7M891 268h1.7M894 268h1.7M896 268h1.7M912 268h1.7M789 269h1.7M802 269h1.7M803 269h1.7M804 269h1.7M805 269h1.7M806 269h1.7M808 269h1.7M809 269h1.7M811 269h1.7M813 269h1.7M814 269h1.7M815 269h1.7M816 269h1.7M817 269h1.7M818 269h1.7M819 269h1.7M820 269h1.7M821 269h1.7M822 269h1.7M823 269h1.7M824 269h1.7M825 269h1.7M826 269h1.7M827 269h1.7M828 269h1.7M829 269h1.7M830 269h1.7M831 269h1.7M832 269h1.7M833 269h1.7M835 269h1.7M838 269h1.7M840 269h1.7M841 269h1.7M848 269h1.7M853 269h1.7M854 269h1.7M855 269h1.7M856 269h1.7M861 269h1.7M862 269h1.7M866 269h1.7M873 269h1.7M874 269h1.7M880 269h1.7M891 269h1.7M790 270h1.7M799 270h1.7M800 270h1.7M803 270h1.7M806 270h1.7M807 270h1.7M808 270h1.7M809 270h1.7M810 270h1.7M811 270h1.7M812 270h1.7M813 270h1.7M814 270h1.7M815 270h1.7M816 270h1.7M817 270h1.7M818 270h1.7M819 270h1.7M820 270h1.7M821 270h1.7M822 270h1.7M823 270h1.7M824 270h1.7M825 270h1.7M827 270h1.7M828 270h1.7M829 270h1.7M830 270h1.7M832 270h1.7M833 270h1.7M834 270h1.7M835 270h1.7M836 270h1.7M838 270h1.7M841 270h1.7M843 270h1.7M845 270h1.7M847 270h1.7M850 270h1.7M851 270h1.7M853 270h1.7M854 270h1.7M855 270h1.7M857 270h1.7M858 270h1.7M859 270h1.7M861 270h1.7M862 270h1.7M863 270h1.7M864 270h1.7M865 270h1.7M866 270h1.7M871 270h1.7M872 270h1.7M876 270h1.7M877 270h1.7M878 270h1.7M885 270h1.7M886 270h1.7M896 270h1.7M899 270h1.7M900 270h1.7M920 270h1.7M798 271h1.7M799 271h1.7M803 271h1.7M805 271h1.7M807 271h1.7M808 271h1.7M809 271h1.7M810 271h1.7M811 271h1.7M812 271h1.7M813 271h1.7M814 271h1.7M815 271h1.7M816 271h1.7M817 271h1.7M819 271h1.7M820 271h1.7M821 271h1.7M822 271h1.7M823 271h1.7M824 271h1.7M826 271h1.7M828 271h1.7M829 271h1.7M830 271h1.7M831 271h1.7M833 271h1.7M835 271h1.7M836 271h1.7M839 271h1.7M840 271h1.7M841 271h1.7M842 271h1.7M843 271h1.7M844 271h1.7M852 271h1.7M853 271h1.7M854 271h1.7M856 271h1.7M857 271h1.7M860 271h1.7M865 271h1.7M868 271h1.7M870 271h1.7M872 271h1.7M873 271h1.7M886 271h1.7M906 271h1.7M784 272h1.7M797 272h1.7M800 272h1.7M802 272h1.7M806 272h1.7M807 272h1.7M808 272h1.7M809 272h1.7M810 272h1.7M811 272h1.7M812 272h1.7M814 272h1.7M816 272h1.7M817 272h1.7M818 272h1.7M819 272h1.7M820 272h1.7M822 272h1.7M823 272h1.7M824 272h1.7M825 272h1.7M826 272h1.7M827 272h1.7M828 272h1.7M829 272h1.7M832 272h1.7M833 272h1.7M834 272h1.7M837 272h1.7M838 272h1.7M839 272h1.7M840 272h1.7M841 272h1.7M842 272h1.7M843 272h1.7M846 272h1.7M847 272h1.7M853 272h1.7M856 272h1.7M858 272h1.7M859 272h1.7M860 272h1.7M862 272h1.7M863 272h1.7M865 272h1.7M869 272h1.7M870 272h1.7M877 272h1.7M885 272h1.7M896 272h1.7M903 272h1.7M906 272h1.7M913 272h1.7M794 273h1.7M795 273h1.7M797 273h1.7M798 273h1.7M801 273h1.7M802 273h1.7M803 273h1.7M804 273h1.7M805 273h1.7M808 273h1.7M810 273h1.7M811 273h1.7M812 273h1.7M813 273h1.7M814 273h1.7M815 273h1.7M816 273h1.7M817 273h1.7M818 273h1.7M819 273h1.7M820 273h1.7M821 273h1.7M822 273h1.7M824 273h1.7M825 273h1.7M826 273h1.7M827 273h1.7M829 273h1.7M831 273h1.7M832 273h1.7M833 273h1.7M836 273h1.7M838 273h1.7M839 273h1.7M841 273h1.7M845 273h1.7M848 273h1.7M850 273h1.7M854 273h1.7M856 273h1.7M860 273h1.7M864 273h1.7M867 273h1.7M872 273h1.7M893 273h1.7M904 273h1.7M905 273h1.7M798 274h1.7M799 274h1.7M800 274h1.7M802 274h1.7M803 274h1.7M804 274h1.7M805 274h1.7M806 274h1.7M807 274h1.7M808 274h1.7M809 274h1.7M810 274h1.7M811 274h1.7M812 274h1.7M813 274h1.7M814 274h1.7M815 274h1.7M816 274h1.7M817 274h1.7M818 274h1.7M819 274h1.7M820 274h1.7M821 274h1.7M822 274h1.7M823 274h1.7M824 274h1.7M825 274h1.7M826 274h1.7M827 274h1.7M828 274h1.7M830 274h1.7M831 274h1.7M832 274h1.7M834 274h1.7M836 274h1.7M837 274h1.7M841 274h1.7M842 274h1.7M846 274h1.7M847 274h1.7M849 274h1.7M850 274h1.7M852 274h1.7M853 274h1.7M855 274h1.7M856 274h1.7M857 274h1.7M859 274h1.7M861 274h1.7M863 274h1.7M865 274h1.7M867 274h1.7M870 274h1.7M872 274h1.7M873 274h1.7M902 274h1.7M914 274h1.7M793 275h1.7M797 275h1.7M798 275h1.7M800 275h1.7M801 275h1.7M803 275h1.7M804 275h1.7M805 275h1.7M807 275h1.7M808 275h1.7M809 275h1.7M810 275h1.7M811 275h1.7M812 275h1.7M813 275h1.7M814 275h1.7M815 275h1.7M816 275h1.7M817 275h1.7M818 275h1.7M820 275h1.7M821 275h1.7M822 275h1.7M823 275h1.7M824 275h1.7M825 275h1.7M826 275h1.7M827 275h1.7M829 275h1.7M830 275h1.7M831 275h1.7M832 275h1.7M833 275h1.7M836 275h1.7M838 275h1.7M839 275h1.7M841 275h1.7M845 275h1.7M847 275h1.7M851 275h1.7M853 275h1.7M854 275h1.7M856 275h1.7M868 275h1.7M878 275h1.7M880 275h1.7M898 275h1.7M902 275h1.7M908 275h1.7M910 275h1.7M795 276h1.7M796 276h1.7M797 276h1.7M800 276h1.7M802 276h1.7M803 276h1.7M805 276h1.7M806 276h1.7M807 276h1.7M808 276h1.7M809 276h1.7M810 276h1.7M811 276h1.7M812 276h1.7M813 276h1.7M814 276h1.7M815 276h1.7M816 276h1.7M817 276h1.7M818 276h1.7M819 276h1.7M820 276h1.7M821 276h1.7M822 276h1.7M823 276h1.7M824 276h1.7M825 276h1.7M826 276h1.7M829 276h1.7M831 276h1.7M832 276h1.7M834 276h1.7M838 276h1.7M840 276h1.7M842 276h1.7M844 276h1.7M845 276h1.7M847 276h1.7M849 276h1.7M850 276h1.7M851 276h1.7M855 276h1.7M860 276h1.7M862 276h1.7M863 276h1.7M869 276h1.7M871 276h1.7M874 276h1.7M875 276h1.7M876 276h1.7M878 276h1.7M879 276h1.7M880 276h1.7M883 276h1.7M887 276h1.7M889 276h1.7M895 276h1.7M786 277h1.7M790 277h1.7M791 277h1.7M796 277h1.7M797 277h1.7M798 277h1.7M799 277h1.7M800 277h1.7M801 277h1.7M802 277h1.7M803 277h1.7M804 277h1.7M805 277h1.7M806 277h1.7M807 277h1.7M808 277h1.7M809 277h1.7M810 277h1.7M811 277h1.7M812 277h1.7M814 277h1.7M816 277h1.7M817 277h1.7M818 277h1.7M819 277h1.7M820 277h1.7M824 277h1.7M826 277h1.7M827 277h1.7M829 277h1.7M830 277h1.7M831 277h1.7M832 277h1.7M833 277h1.7M834 277h1.7M835 277h1.7M836 277h1.7M838 277h1.7M839 277h1.7M840 277h1.7M842 277h1.7M843 277h1.7M844 277h1.7M845 277h1.7M846 277h1.7M848 277h1.7M852 277h1.7M857 277h1.7M864 277h1.7M876 277h1.7M895 277h1.7M917 277h1.7M791 278h1.7M795 278h1.7M796 278h1.7M797 278h1.7M798 278h1.7M800 278h1.7M803 278h1.7M804 278h1.7M805 278h1.7M806 278h1.7M807 278h1.7M808 278h1.7M809 278h1.7M810 278h1.7M811 278h1.7M812 278h1.7M813 278h1.7M814 278h1.7M815 278h1.7M816 278h1.7M817 278h1.7M818 278h1.7M820 278h1.7M821 278h1.7M823 278h1.7M824 278h1.7M827 278h1.7M833 278h1.7M840 278h1.7M841 278h1.7M846 278h1.7M847 278h1.7M852 278h1.7M856 278h1.7M863 278h1.7M876 278h1.7M786 279h1.7M790 279h1.7M793 279h1.7M795 279h1.7M796 279h1.7M797 279h1.7M800 279h1.7M801 279h1.7M802 279h1.7M803 279h1.7M804 279h1.7M805 279h1.7M806 279h1.7M807 279h1.7M808 279h1.7M809 279h1.7M810 279h1.7M811 279h1.7M812 279h1.7M813 279h1.7M814 279h1.7M815 279h1.7M816 279h1.7M817 279h1.7M818 279h1.7M819 279h1.7M821 279h1.7M823 279h1.7M824 279h1.7M825 279h1.7M828 279h1.7M831 279h1.7M832 279h1.7M833 279h1.7M834 279h1.7M835 279h1.7M836 279h1.7M838 279h1.7M841 279h1.7M843 279h1.7M844 279h1.7M845 279h1.7M847 279h1.7M849 279h1.7M850 279h1.7M851 279h1.7M859 279h1.7M863 279h1.7M866 279h1.7M872 279h1.7M876 279h1.7M886 279h1.7M889 279h1.7M890 279h1.7M893 279h1.7M788 280h1.7M790 280h1.7M793 280h1.7M796 280h1.7M797 280h1.7M799 280h1.7M800 280h1.7M801 280h1.7M802 280h1.7M803 280h1.7M804 280h1.7M805 280h1.7M807 280h1.7M808 280h1.7M810 280h1.7M812 280h1.7M813 280h1.7M815 280h1.7M817 280h1.7M818 280h1.7M820 280h1.7M821 280h1.7M822 280h1.7M823 280h1.7M824 280h1.7M826 280h1.7M829 280h1.7M830 280h1.7M831 280h1.7M832 280h1.7M833 280h1.7M835 280h1.7M836 280h1.7M837 280h1.7M838 280h1.7M842 280h1.7M844 280h1.7M847 280h1.7M850 280h1.7M851 280h1.7M856 280h1.7M859 280h1.7M862 280h1.7M879 280h1.7M880 280h1.7M890 280h1.7M901 280h1.7M786 281h1.7M792 281h1.7M793 281h1.7M794 281h1.7M796 281h1.7M797 281h1.7M798 281h1.7M799 281h1.7M800 281h1.7M801 281h1.7M802 281h1.7M803 281h1.7M804 281h1.7M805 281h1.7M806 281h1.7M807 281h1.7M808 281h1.7M809 281h1.7M810 281h1.7M811 281h1.7M812 281h1.7M813 281h1.7M814 281h1.7M815 281h1.7M816 281h1.7M818 281h1.7M819 281h1.7M820 281h1.7M821 281h1.7M822 281h1.7M823 281h1.7M826 281h1.7M828 281h1.7M829 281h1.7M830 281h1.7M832 281h1.7M833 281h1.7M835 281h1.7M836 281h1.7M837 281h1.7M838 281h1.7M839 281h1.7M842 281h1.7M843 281h1.7M844 281h1.7M845 281h1.7M848 281h1.7M849 281h1.7M854 281h1.7M860 281h1.7M864 281h1.7M868 281h1.7M882 281h1.7M891 281h1.7M894 281h1.7M906 281h1.7M917 281h1.7M918 281h1.7M785 282h1.7M789 282h1.7M790 282h1.7M791 282h1.7M794 282h1.7M795 282h1.7M797 282h1.7M799 282h1.7M800 282h1.7M801 282h1.7M803 282h1.7M804 282h1.7M807 282h1.7M808 282h1.7M809 282h1.7M810 282h1.7M811 282h1.7M812 282h1.7M813 282h1.7M815 282h1.7M816 282h1.7M817 282h1.7M818 282h1.7M822 282h1.7M823 282h1.7M824 282h1.7M826 282h1.7M827 282h1.7M830 282h1.7M833 282h1.7M835 282h1.7M840 282h1.7M841 282h1.7M842 282h1.7M844 282h1.7M847 282h1.7M849 282h1.7M850 282h1.7M851 282h1.7M852 282h1.7M863 282h1.7M865 282h1.7M867 282h1.7M870 282h1.7M788 283h1.7M790 283h1.7M791 283h1.7M793 283h1.7M795 283h1.7M796 283h1.7M798 283h1.7M799 283h1.7M800 283h1.7M801 283h1.7M802 283h1.7M803 283h1.7M804 283h1.7M805 283h1.7M806 283h1.7M807 283h1.7M808 283h1.7M811 283h1.7M812 283h1.7M814 283h1.7M816 283h1.7M817 283h1.7M818 283h1.7M820 283h1.7M822 283h1.7M826 283h1.7M829 283h1.7M830 283h1.7M831 283h1.7M833 283h1.7M840 283h1.7M842 283h1.7M845 283h1.7M846 283h1.7M848 283h1.7M849 283h1.7M851 283h1.7M852 283h1.7M853 283h1.7M861 283h1.7M866 283h1.7M893 283h1.7M787 284h1.7M789 284h1.7M791 284h1.7M792 284h1.7M793 284h1.7M794 284h1.7M796 284h1.7M797 284h1.7M798 284h1.7M799 284h1.7M800 284h1.7M801 284h1.7M802 284h1.7M803 284h1.7M804 284h1.7M805 284h1.7M806 284h1.7M809 284h1.7M810 284h1.7M813 284h1.7M814 284h1.7M815 284h1.7M817 284h1.7M818 284h1.7M820 284h1.7M821 284h1.7M822 284h1.7M824 284h1.7M825 284h1.7M831 284h1.7M832 284h1.7M835 284h1.7M837 284h1.7M839 284h1.7M841 284h1.7M843 284h1.7M845 284h1.7M849 284h1.7M851 284h1.7M853 284h1.7M857 284h1.7M880 284h1.7M883 284h1.7M909 284h1.7M788 285h1.7M789 285h1.7M790 285h1.7M792 285h1.7M793 285h1.7M794 285h1.7M795 285h1.7M796 285h1.7M797 285h1.7M798 285h1.7M799 285h1.7M800 285h1.7M801 285h1.7M805 285h1.7M806 285h1.7M807 285h1.7M808 285h1.7M809 285h1.7M810 285h1.7M811 285h1.7M812 285h1.7M816 285h1.7M817 285h1.7M819 285h1.7M820 285h1.7M823 285h1.7M825 285h1.7M828 285h1.7M839 285h1.7M845 285h1.7M849 285h1.7M857 285h1.7M866 285h1.7M936 285h1.7M942 285h1.7M788 286h1.7M790 286h1.7M791 286h1.7M793 286h1.7M794 286h1.7M795 286h1.7M796 286h1.7M797 286h1.7M798 286h1.7M799 286h1.7M801 286h1.7M803 286h1.7M804 286h1.7M805 286h1.7M807 286h1.7M808 286h1.7M809 286h1.7M810 286h1.7M811 286h1.7M812 286h1.7M813 286h1.7M816 286h1.7M817 286h1.7M819 286h1.7M821 286h1.7M822 286h1.7M824 286h1.7M826 286h1.7M827 286h1.7M828 286h1.7M829 286h1.7M836 286h1.7M842 286h1.7M850 286h1.7M851 286h1.7M854 286h1.7M857 286h1.7M859 286h1.7M863 286h1.7M874 286h1.7M788 287h1.7M790 287h1.7M792 287h1.7M793 287h1.7M794 287h1.7M796 287h1.7M797 287h1.7M798 287h1.7M799 287h1.7M800 287h1.7M801 287h1.7M802 287h1.7M804 287h1.7M805 287h1.7M806 287h1.7M807 287h1.7M808 287h1.7M809 287h1.7M810 287h1.7M812 287h1.7M815 287h1.7M816 287h1.7M823 287h1.7M824 287h1.7M830 287h1.7M835 287h1.7M837 287h1.7M838 287h1.7M839 287h1.7M840 287h1.7M842 287h1.7M846 287h1.7M858 287h1.7M859 287h1.7M788 288h1.7M789 288h1.7M790 288h1.7M793 288h1.7M794 288h1.7M795 288h1.7M796 288h1.7M797 288h1.7M798 288h1.7M799 288h1.7M800 288h1.7M801 288h1.7M802 288h1.7M803 288h1.7M807 288h1.7M808 288h1.7M812 288h1.7M813 288h1.7M814 288h1.7M818 288h1.7M821 288h1.7M822 288h1.7M828 288h1.7M833 288h1.7M834 288h1.7M836 288h1.7M841 288h1.7M846 288h1.7M850 288h1.7M851 288h1.7M871 288h1.7M789 289h1.7M792 289h1.7M793 289h1.7M794 289h1.7M798 289h1.7M799 289h1.7M800 289h1.7M801 289h1.7M802 289h1.7M803 289h1.7M804 289h1.7M805 289h1.7M806 289h1.7M807 289h1.7M808 289h1.7M810 289h1.7M811 289h1.7M813 289h1.7M816 289h1.7M818 289h1.7M821 289h1.7M829 289h1.7M831 289h1.7M838 289h1.7M840 289h1.7M845 289h1.7M862 289h1.7M863 289h1.7M864 289h1.7M878 289h1.7M791 290h1.7M792 290h1.7M793 290h1.7M794 290h1.7M795 290h1.7M796 290h1.7M797 290h1.7M798 290h1.7M799 290h1.7M800 290h1.7M801 290h1.7M804 290h1.7M807 290h1.7M809 290h1.7M810 290h1.7M812 290h1.7M815 290h1.7M819 290h1.7M822 290h1.7M825 290h1.7M835 290h1.7M837 290h1.7M838 290h1.7M842 290h1.7M849 290h1.7M858 290h1.7M888 290h1.7M791 291h1.7M793 291h1.7M795 291h1.7M796 291h1.7M797 291h1.7M799 291h1.7M800 291h1.7M801 291h1.7M802 291h1.7M803 291h1.7M805 291h1.7M806 291h1.7M809 291h1.7M811 291h1.7M812 291h1.7M814 291h1.7M818 291h1.7M820 291h1.7M821 291h1.7M826 291h1.7M835 291h1.7M848 291h1.7M860 291h1.7M865 291h1.7M889 291h1.7M791 292h1.7M792 292h1.7M793 292h1.7M795 292h1.7M796 292h1.7M797 292h1.7M798 292h1.7M799 292h1.7M800 292h1.7M801 292h1.7M802 292h1.7M804 292h1.7M805 292h1.7M806 292h1.7M807 292h1.7M818 292h1.7M820 292h1.7M821 292h1.7M823 292h1.7M829 292h1.7M833 292h1.7M835 292h1.7M836 292h1.7M841 292h1.7M852 292h1.7M870 292h1.7M876 292h1.7M896 292h1.7M793 293h1.7M794 293h1.7M796 293h1.7M797 293h1.7M798 293h1.7M800 293h1.7M802 293h1.7M803 293h1.7M807 293h1.7M808 293h1.7M809 293h1.7M811 293h1.7M819 293h1.7M823 293h1.7M826 293h1.7M831 293h1.7M883 293h1.7M794 294h1.7M795 294h1.7M796 294h1.7M797 294h1.7M798 294h1.7M799 294h1.7M803 294h1.7M818 294h1.7M819 294h1.7M820 294h1.7M825 294h1.7M826 294h1.7M828 294h1.7M830 294h1.7M831 294h1.7M838 294h1.7M849 294h1.7M865 294h1.7M794 295h1.7M796 295h1.7M797 295h1.7M799 295h1.7M800 295h1.7M802 295h1.7M805 295h1.7M809 295h1.7M812 295h1.7M835 295h1.7M837 295h1.7M845 295h1.7M847 295h1.7M908 295h1.7M794 296h1.7M795 296h1.7M799 296h1.7M800 296h1.7M819 296h1.7M834 296h1.7M893 296h1.7M795 297h1.7M796 297h1.7M798 297h1.7M799 297h1.7M801 297h1.7M802 297h1.7M809 297h1.7M832 297h1.7M842 297h1.7M859 297h1.7M889 297h1.7M797 298h1.7M798 298h1.7M800 298h1.7M807 298h1.7M822 298h1.7M826 298h1.7M831 298h1.7M835 298h1.7M854 298h1.7M856 298h1.7M797 299h1.7M798 299h1.7M864 299h1.7M798 300h1.7M817 300h1.7M826 300h1.7M831 300h1.7M830 301h1.7M803 302h1.7M830 303h1.7M833 303h1.7M866 304h1.7" stroke="#ff0000" stroke-width="1.7" fill="none" filter="url(#bl)"/>
<path d="M750 19.7V321.6" stroke="#777" stroke-width="2"/>
<path d="M1053.3 19.7V330.6" stroke="#555" stroke-width="2.2"/>
<path d="M749 321.6H1053.3" stroke="#444" stroke-width="2.4"/>
<path d="M741 19.7H1054.3" stroke="#3a3a3a" stroke-width="2.6"/>
<path d="M919.5 19.7V321.6M750 212.3H1053.3" stroke="#4d4d4d" stroke-width="2"/>
<path d="M741 295.3H750M741 242.2H750M741 173.7H750M741 104.2H750M741 35.4H750M744 288.6H750M744 281.8H750M744 275.1H750M744 268.8H750M744 263.2H750M744 258.5H750M744 254.1H750M744 250.5H750M744 247.4H750M744 303.8H750M744 312.3H750M744 221.6H750M744 209.5H750M744 200.9H750M744 194.3H750M744 188.9H750M744 184.3H750M744 180.3H750M744 176.8H750M744 152.8H750M744 140.5H750M744 131.9H750M744 125.1H750M744 119.6H750M744 115H750M744 111H750M744 107.4H750M744 83.5H750M744 71.4H750M744 62.8H750M744 56.1H750M744 50.7H750M744 46.1H750M744 42.1H750M744 38.5H750M786.4 321.6V330.6M842.8 321.6V330.6M936.5 321.6V330.6M1032.4 321.6V330.6M793.6 321.6V327.6M800.7 321.6V327.6M807.9 321.6V327.6M814.6 321.6V327.6M820.5 321.6V327.6M825.5 321.6V327.6M830.2 321.6V327.6M834 321.6V327.6M837.3 321.6V327.6M778.8 321.6V327.6M771.2 321.6V327.6M763.6 321.6V327.6M756 321.6V327.6M871 321.6V327.6M887.5 321.6V327.6M899.2 321.6V327.6M908.3 321.6V327.6M915.7 321.6V327.6M922 321.6V327.6M927.4 321.6V327.6M932.2 321.6V327.6M965.4 321.6V327.6M982.3 321.6V327.6M994.2 321.6V327.6M1003.5 321.6V327.6M1011.1 321.6V327.6M1017.5 321.6V327.6M1023.1 321.6V327.6M1028 321.6V327.6" stroke="#6a6a6a" stroke-width="1.8" fill="none"/>
<text transform="translate(735,295.3) rotate(-90)" x="0" text-anchor="middle" font-family='"Liberation Sans", sans-serif' font-size="17.5" fill="#4a4a4a">0</text>
<text transform="translate(735,242.2) rotate(-90)" x="-9.7" font-family='"Liberation Sans", sans-serif' font-size="17.5" fill="#4a4a4a">10<tspan font-size="11.6" dy="-7.7">4</tspan></text>
<text transform="translate(735,173.7) rotate(-90)" x="-9.7" font-family='"Liberation Sans", sans-serif' font-size="17.5" fill="#4a4a4a">10<tspan font-size="11.6" dy="-7.7">5</tspan></text>
<text transform="translate(735,104.2) rotate(-90)" x="-9.7" font-family='"Liberation Sans", sans-serif' font-size="17.5" fill="#4a4a4a">10<tspan font-size="11.6" dy="-7.7">6</tspan></text>
<text transform="translate(735,35.4) rotate(-90)" x="-9.7" font-family='"Liberation Sans", sans-serif' font-size="17.5" fill="#4a4a4a">10<tspan font-size="11.6" dy="-7.7">7</tspan></text>
<text x="786.4" y="349.9" text-anchor="middle" font-family='"Liberation Sans", sans-serif' font-size="17.5" fill="#4a4a4a">0</text>
<text x="833.1" y="349.9" font-family='"Liberation Sans", sans-serif' font-size="17.5" fill="#4a4a4a">10<tspan font-size="11.6" dy="-7.7">5</tspan></text>
<text x="926.8" y="349.9" font-family='"Liberation Sans", sans-serif' font-size="17.5" fill="#4a4a4a">10<tspan font-size="11.6" dy="-7.7">6</tspan></text>
<text x="1022.6" y="349.9" font-family='"Liberation Sans", sans-serif' font-size="17.5" fill="#4a4a4a">10<tspan font-size="11.6" dy="-7.7">7</tspan></text>
<text x="754" y="40.2" font-family='"Liberation Sans", sans-serif' font-size="16" fill="#4a4a4a">Q1(5.00%)</text>
<text x="1048.8" y="40.2" text-anchor="end" font-family='"Liberation Sans", sans-serif' font-size="16" fill="#4a4a4a">Q2(8.28%)</text>
<text x="754" y="313.6" font-family='"Liberation Sans", sans-serif' font-size="16" fill="#4a4a4a">Q3(83.48%)</text>
<text x="1048.8" y="313.6" text-anchor="end" font-family='"Liberation Sans", sans-serif' font-size="16" fill="#4a4a4a">Q1-LR(3.24%)</text>
<path d="M427 575h1.7M399 579h1.7M421 581h1.7M435 582h1.7M394 583h1.7M362 585h1.7M413 585h1.7M400 587h1.7M419 587h1.7M418 588h1.7M406 589h1.7M366 590h1.7M370 590h1.7M387 590h1.7M372 591h1.7M374 592h1.7M387 592h1.7M413 592h1.7M432 592h1.7M442 592h1.7M366 593h1.7M397 593h1.7M368 594h1.7M375 594h1.7M426 595h1.7M403 596h1.7M393 597h1.7M409 597h1.7M390 598h1.7M419 598h1.7M385 599h1.7M399 599h1.7M414 599h1.7M393 600h1.7M402 600h1.7M360 601h1.7M382 601h1.7M402 601h1.7M419 601h1.7M361 602h1.7M423 602h1.7M353 603h1.7M369 603h1.7M370 603h1.7M374 603h1.7M383 603h1.7M389 603h1.7M395 603h1.7M364 604h1.7M396 604h1.7M414 604h1.7M429 604h1.7M360 605h1.7M367 605h1.7M390 605h1.7M394 605h1.7M355 606h1.7M393 606h1.7M405 606h1.7M371 608h1.7M373 608h1.7M385 608h1.7M388 608h1.7M369 609h1.7M373 609h1.7M375 609h1.7M383 609h1.7M396 609h1.7M410 609h1.7M437 609h1.7M372 610h1.7M381 610h1.7M391 610h1.7M414 610h1.7M339 611h1.7M364 611h1.7M373 611h1.7M343 612h1.7M349 612h1.7M351 612h1.7M374 612h1.7M375 612h1.7M382 612h1.7M390 612h1.7M313 613h1.7M366 613h1.7M370 613h1.7M391 613h1.7M399 613h1.7M342 614h1.7M362 614h1.7M384 614h1.7M406 614h1.7M413 614h1.7M351 615h1.7M360 615h1.7M371 615h1.7M388 615h1.7M395 615h1.7M410 615h1.7M355 616h1.7M362 616h1.7M376 616h1.7M380 616h1.7M389 616h1.7M398 616h1.7M408 616h1.7M420 616h1.7M406 617h1.7M410 617h1.7M415 617h1.7M366 618h1.7M375 618h1.7M378 618h1.7M380 618h1.7M386 618h1.7M358 619h1.7M362 619h1.7M365 619h1.7M372 619h1.7M383 619h1.7M394 619h1.7M405 619h1.7M411 619h1.7M359 620h1.7M371 620h1.7M380 620h1.7M384 620h1.7M387 620h1.7M401 620h1.7M407 620h1.7M370 621h1.7M372 621h1.7M382 621h1.7M388 621h1.7M391 621h1.7M395 621h1.7M397 621h1.7M347 622h1.7M353 622h1.7M358 622h1.7M371 622h1.7M374 622h1.7M376 622h1.7M381 622h1.7M437 622h1.7M322 623h1.7M327 623h1.7M329 623h1.7M336 623h1.7M372 623h1.7M378 623h1.7M379 623h1.7M384 623h1.7M391 623h1.7M399 623h1.7M412 623h1.7M424 623h1.7M349 624h1.7M353 624h1.7M358 624h1.7M362 624h1.7M364 624h1.7M369 624h1.7M370 624h1.7M377 624h1.7M381 624h1.7M387 624h1.7M394 624h1.7M403 624h1.7M325 625h1.7M353 625h1.7M361 625h1.7M364 625h1.7M388 625h1.7M392 625h1.7M395 625h1.7M398 625h1.7M337 626h1.7M352 626h1.7M358 626h1.7M377 626h1.7M378 626h1.7M381 626h1.7M394 626h1.7M408 626h1.7M412 626h1.7M343 627h1.7M357 627h1.7M365 627h1.7M371 627h1.7M377 627h1.7M384 627h1.7M395 627h1.7M401 627h1.7M402 627h1.7M413 627h1.7M342 628h1.7M346 628h1.7M353 628h1.7M357 628h1.7M360 628h1.7M361 628h1.7M364 628h1.7M365 628h1.7M382 628h1.7M388 628h1.7M390 628h1.7M394 628h1.7M343 629h1.7M354 629h1.7M362 629h1.7M363 629h1.7M365 629h1.7M370 629h1.7M375 629h1.7M322 630h1.7M328 630h1.7M355 630h1.7M360 630h1.7M362 630h1.7M363 630h1.7M364 630h1.7M368 630h1.7M381 630h1.7M386 630h1.7M395 630h1.7M342 631h1.7M360 631h1.7M361 631h1.7M364 631h1.7M378 631h1.7M388 631h1.7M392 631h1.7M399 631h1.7M409 631h1.7M334 632h1.7M344 632h1.7M362 632h1.7M370 632h1.7M372 632h1.7M374 632h1.7M415 632h1.7M329 633h1.7M336 633h1.7M339 633h1.7M381 633h1.7M382 633h1.7M383 633h1.7M389 633h1.7M393 633h1.7M402 633h1.7M422 633h1.7M305 634h1.7M320 634h1.7M353 634h1.7M354 634h1.7M369 634h1.7M375 634h1.7M380 634h1.7M381 634h1.7M383 634h1.7M386 634h1.7M326 635h1.7M363 635h1.7M371 635h1.7M375 635h1.7M384 635h1.7M386 635h1.7M387 635h1.7M388 635h1.7M328 636h1.7M335 636h1.7M336 636h1.7M339 636h1.7M347 636h1.7M349 636h1.7M350 636h1.7M352 636h1.7M372 636h1.7M403 636h1.7M314 637h1.7M356 637h1.7M357 637h1.7M366 637h1.7M372 637h1.7M413 637h1.7M313 638h1.7M342 638h1.7M357 638h1.7M358 638h1.7M359 638h1.7M362 638h1.7M371 638h1.7M379 638h1.7M380 638h1.7M388 638h1.7M418 638h1.7M343 639h1.7M347 639h1.7M357 639h1.7M361 639h1.7M364 639h1.7M373 639h1.7M384 639h1.7M404 639h1.7M306 640h1.7M337 640h1.7M343 640h1.7M354 640h1.7M355 640h1.7M358 640h1.7M364 640h1.7M367 640h1.7M370 640h1.7M371 640h1.7M385 640h1.7M315 641h1.7M335 641h1.7M344 641h1.7M349 641h1.7M354 641h1.7M362 641h1.7M364 641h1.7M367 641h1.7M369 641h1.7M382 641h1.7M351 642h1.7M366 642h1.7M375 642h1.7M382 642h1.7M387 642h1.7M393 642h1.7M409 642h1.7M327 643h1.7M336 643h1.7M338 643h1.7M342 643h1.7M347 643h1.7M352 643h1.7M356 643h1.7M358 643h1.7M363 643h1.7M366 643h1.7M371 643h1.7M383 643h1.7M386 643h1.7M316 644h1.7M325 644h1.7M329 644h1.7M344 644h1.7M355 644h1.7M364 644h1.7M365 644h1.7M370 644h1.7M375 644h1.7M295 645h1.7M296 645h1.7M332 645h1.7M341 645h1.7M344 645h1.7M345 645h1.7M356 645h1.7M358 645h1.7M360 645h1.7M372 645h1.7M375 645h1.7M380 645h1.7M381 645h1.7M405 645h1.7M426 645h1.7M328 646h1.7M334 646h1.7M336 646h1.7M340 646h1.7M347 646h1.7M348 646h1.7M351 646h1.7M354 646h1.7M361 646h1.7M365 646h1.7M367 646h1.7M370 646h1.7M381 646h1.7M403 646h1.7M303 647h1.7M310 647h1.7M324 647h1.7M349 647h1.7M358 647h1.7M362 647h1.7M364 647h1.7M367 647h1.7M370 647h1.7M394 647h1.7M295 648h1.7M355 648h1.7M356 648h1.7M374 648h1.7M379 648h1.7M409 648h1.7M306 649h1.7M324 649h1.7M330 649h1.7M334 649h1.7M346 649h1.7M349 649h1.7M355 649h1.7M369 649h1.7M371 649h1.7M373 649h1.7M380 649h1.7M226 650h1.7M328 650h1.7M341 650h1.7M348 650h1.7M362 650h1.7M363 650h1.7M366 650h1.7M369 650h1.7M376 650h1.7M383 650h1.7M385 650h1.7M388 650h1.7M271 651h1.7M309 651h1.7M313 651h1.7M332 651h1.7M339 651h1.7M346 651h1.7M362 651h1.7M381 651h1.7M432 651h1.7M324 652h1.7M325 652h1.7M331 652h1.7M333 652h1.7M355 652h1.7M356 652h1.7M382 652h1.7M396 652h1.7M289 653h1.7M300 653h1.7M313 653h1.7M333 653h1.7M337 653h1.7M339 653h1.7M345 653h1.7M347 653h1.7M356 653h1.7M359 653h1.7M360 653h1.7M365 653h1.7M366 653h1.7M280 654h1.7M302 654h1.7M322 654h1.7M326 654h1.7M327 654h1.7M345 654h1.7M346 654h1.7M357 654h1.7M362 654h1.7M389 654h1.7M293 655h1.7M308 655h1.7M336 655h1.7M356 655h1.7M357 655h1.7M360 655h1.7M367 655h1.7M371 655h1.7M380 655h1.7M390 655h1.7M280 656h1.7M316 656h1.7M327 656h1.7M365 656h1.7M368 656h1.7M369 656h1.7M382 656h1.7M311 657h1.7M327 657h1.7M337 657h1.7M338 657h1.7M349 657h1.7M360 657h1.7M367 657h1.7M392 657h1.7M301 658h1.7M325 658h1.7M363 658h1.7M372 658h1.7M376 658h1.7M296 659h1.7M312 659h1.7M327 659h1.7M342 659h1.7M343 659h1.7M347 659h1.7M352 659h1.7M356 659h1.7M360 659h1.7M409 659h1.7M319 660h1.7M328 660h1.7M329 660h1.7M347 660h1.7M362 660h1.7M368 660h1.7M370 660h1.7M377 660h1.7M297 661h1.7M330 661h1.7M349 661h1.7M367 661h1.7M284 662h1.7M289 662h1.7M292 662h1.7M295 662h1.7M302 662h1.7M303 662h1.7M323 662h1.7M334 662h1.7M335 662h1.7M343 662h1.7M357 662h1.7M362 662h1.7M393 662h1.7M396 662h1.7M286 663h1.7M309 663h1.7M321 663h1.7M324 663h1.7M331 663h1.7M335 663h1.7M336 663h1.7M337 663h1.7M341 663h1.7M275 664h1.7M297 664h1.7M303 664h1.7M315 664h1.7M329 664h1.7M333 664h1.7M340 664h1.7M350 664h1.7M361 664h1.7M364 664h1.7M365 664h1.7M389 664h1.7M286 665h1.7M302 665h1.7M322 665h1.7M353 665h1.7M367 665h1.7M393 665h1.7M328 666h1.7M341 666h1.7M356 666h1.7M371 666h1.7M387 666h1.7M292 667h1.7M312 667h1.7M321 667h1.7M329 667h1.7M336 667h1.7M340 667h1.7M361 667h1.7M277 668h1.7M331 668h1.7M340 668h1.7M341 668h1.7M347 668h1.7M378 668h1.7M391 668h1.7M288 669h1.7M292 669h1.7M325 669h1.7M335 669h1.7M346 669h1.7M350 669h1.7M369 669h1.7M286 670h1.7M318 670h1.7M336 670h1.7M356 670h1.7M315 671h1.7M321 671h1.7M330 671h1.7M331 671h1.7M335 671h1.7M336 671h1.7M338 671h1.7M339 671h1.7M347 671h1.7M236 672h1.7M270 672h1.7M299 672h1.7M317 672h1.7M320 672h1.7M328 672h1.7M337 672h1.7M344 672h1.7M346 672h1.7M360 672h1.7M379 672h1.7M291 673h1.7M292 673h1.7M293 673h1.7M302 673h1.7M327 673h1.7M342 673h1.7M343 673h1.7M352 673h1.7M308 674h1.7M309 674h1.7M315 674h1.7M328 674h1.7M330 674h1.7M331 674h1.7M342 674h1.7M345 674h1.7M350 674h1.7M291 675h1.7M296 675h1.7M328 675h1.7M334 675h1.7M341 675h1.7M343 675h1.7M344 675h1.7M345 675h1.7M354 675h1.7M358 675h1.7M362 675h1.7M379 675h1.7M384 675h1.7M391 675h1.7M296 676h1.7M319 676h1.7M333 676h1.7M335 676h1.7M379 676h1.7M389 676h1.7M299 677h1.7M319 677h1.7M342 677h1.7M344 677h1.7M358 677h1.7M365 677h1.7M382 677h1.7M400 677h1.7M403 677h1.7M305 678h1.7M388 678h1.7M290 679h1.7M309 679h1.7M315 679h1.7M328 679h1.7M330 679h1.7M281 680h1.7M305 680h1.7M316 680h1.7M328 680h1.7M335 680h1.7M337 680h1.7M348 680h1.7M367 680h1.7M374 680h1.7M410 680h1.7M302 681h1.7M305 681h1.7M318 681h1.7M333 681h1.7M339 681h1.7M349 681h1.7M374 681h1.7M406 681h1.7M290 682h1.7M298 682h1.7M311 682h1.7M324 682h1.7M340 682h1.7M344 682h1.7M375 682h1.7M398 682h1.7M299 683h1.7M318 683h1.7M321 683h1.7M326 683h1.7M342 683h1.7M236 684h1.7M317 684h1.7M319 684h1.7M324 684h1.7M329 684h1.7M346 684h1.7M380 684h1.7M385 684h1.7M314 685h1.7M317 685h1.7M321 685h1.7M327 685h1.7M333 685h1.7M386 685h1.7M398 685h1.7M290 686h1.7M291 686h1.7M299 686h1.7M316 686h1.7M322 686h1.7M328 686h1.7M344 686h1.7M385 686h1.7M396 686h1.7M313 687h1.7M325 687h1.7M326 687h1.7M341 687h1.7M387 687h1.7M403 687h1.7M408 687h1.7M320 688h1.7M368 688h1.7M381 688h1.7M407 688h1.7M312 689h1.7M364 689h1.7M385 689h1.7M320 690h1.7M323 690h1.7M324 690h1.7M359 690h1.7M291 691h1.7M294 691h1.7M298 691h1.7M305 691h1.7M308 691h1.7M346 691h1.7M370 691h1.7M371 691h1.7M375 691h1.7M250 692h1.7M310 692h1.7M315 692h1.7M318 692h1.7M319 692h1.7M324 692h1.7M326 692h1.7M328 692h1.7M331 692h1.7M333 692h1.7M357 692h1.7M282 693h1.7M302 693h1.7M314 693h1.7M315 693h1.7M316 693h1.7M325 693h1.7M334 693h1.7M305 694h1.7M307 694h1.7M312 694h1.7M324 694h1.7M327 694h1.7M340 694h1.7M351 694h1.7M274 695h1.7M308 695h1.7M315 695h1.7M320 695h1.7M323 695h1.7M378 695h1.7M273 696h1.7M312 696h1.7M325 696h1.7M337 696h1.7M292 697h1.7M302 697h1.7M303 697h1.7M308 697h1.7M311 697h1.7M323 697h1.7M376 697h1.7M379 697h1.7M299 698h1.7M313 698h1.7M317 698h1.7M311 699h1.7M312 699h1.7M314 699h1.7M316 699h1.7M325 699h1.7M343 699h1.7M367 699h1.7M376 699h1.7M385 699h1.7M401 699h1.7M298 700h1.7M306 700h1.7M309 700h1.7M312 700h1.7M313 700h1.7M314 700h1.7M330 700h1.7M361 700h1.7M364 700h1.7M397 700h1.7M286 701h1.7M309 701h1.7M310 701h1.7M311 701h1.7M314 701h1.7M315 701h1.7M316 701h1.7M319 701h1.7M328 701h1.7M384 701h1.7M303 702h1.7M306 702h1.7M308 702h1.7M310 702h1.7M313 702h1.7M325 702h1.7M369 702h1.7M383 702h1.7M265 703h1.7M306 703h1.7M307 703h1.7M314 703h1.7M318 703h1.7M325 703h1.7M357 703h1.7M360 703h1.7M397 703h1.7M402 703h1.7M294 704h1.7M302 704h1.7M303 704h1.7M305 704h1.7M306 704h1.7M307 704h1.7M313 704h1.7M317 704h1.7M370 704h1.7M372 704h1.7M273 705h1.7M307 705h1.7M309 705h1.7M314 705h1.7M315 705h1.7M317 705h1.7M321 705h1.7M325 705h1.7M370 705h1.7M283 706h1.7M293 706h1.7M297 706h1.7M299 706h1.7M300 706h1.7M303 706h1.7M304 706h1.7M306 706h1.7M307 706h1.7M309 706h1.7M310 706h1.7M314 706h1.7M315 706h1.7M318 706h1.7M321 706h1.7M323 706h1.7M334 706h1.7M269 707h1.7M291 707h1.7M293 707h1.7M295 707h1.7M300 707h1.7M301 707h1.7M305 707h1.7M306 707h1.7M307 707h1.7M309 707h1.7M312 707h1.7M314 707h1.7M315 707h1.7M318 707h1.7M320 707h1.7M322 707h1.7M333 707h1.7M360 707h1.7M365 707h1.7M369 707h1.7M377 707h1.7M290 708h1.7M294 708h1.7M295 708h1.7M298 708h1.7M299 708h1.7M300 708h1.7M301 708h1.7M302 708h1.7M303 708h1.7M304 708h1.7M306 708h1.7M307 708h1.7M310 708h1.7M317 708h1.7M318 708h1.7M319 708h1.7M330 708h1.7M349 708h1.7M356 708h1.7M364 708h1.7M366 708h1.7M369 708h1.7M388 708h1.7M269 709h1.7M283 709h1.7M286 709h1.7M296 709h1.7M301 709h1.7M302 709h1.7M304 709h1.7M305 709h1.7M308 709h1.7M309 709h1.7M310 709h1.7M313 709h1.7M315 709h1.7M316 709h1.7M318 709h1.7M319 709h1.7M321 709h1.7M322 709h1.7M326 709h1.7M333 709h1.7M295 710h1.7M296 710h1.7M297 710h1.7M298 710h1.7M299 710h1.7M300 710h1.7M302 710h1.7M303 710h1.7M304 710h1.7M305 710h1.7M307 710h1.7M308 710h1.7M311 710h1.7M314 710h1.7M316 710h1.7M317 710h1.7M318 710h1.7M319 710h1.7M320 710h1.7M322 710h1.7M324 710h1.7M325 710h1.7M356 710h1.7M370 710h1.7M374 710h1.7M377 710h1.7M294 711h1.7M297 711h1.7M298 711h1.7M299 711h1.7M302 711h1.7M303 711h1.7M304 711h1.7M306 711h1.7M308 711h1.7M309 711h1.7M310 711h1.7M311 711h1.7M312 711h1.7M313 711h1.7M317 711h1.7M320 711h1.7M325 711h1.7M368 711h1.7M396 711h1.7M276 712h1.7M292 712h1.7M297 712h1.7M298 712h1.7M299 712h1.7M300 712h1.7M301 712h1.7M302 712h1.7M303 712h1.7M304 712h1.7M305 712h1.7M307 712h1.7M308 712h1.7M310 712h1.7M311 712h1.7M312 712h1.7M315 712h1.7M317 712h1.7M320 712h1.7M321 712h1.7M326 712h1.7M372 712h1.7M378 712h1.7M274 713h1.7M281 713h1.7M283 713h1.7M289 713h1.7M290 713h1.7M292 713h1.7M295 713h1.7M296 713h1.7M297 713h1.7M300 713h1.7M301 713h1.7M302 713h1.7M303 713h1.7M304 713h1.7M305 713h1.7M306 713h1.7M307 713h1.7M308 713h1.7M309 713h1.7M310 713h1.7M311 713h1.7M313 713h1.7M314 713h1.7M318 713h1.7M324 713h1.7M330 713h1.7M331 713h1.7M332 713h1.7M345 713h1.7M405 713h1.7M288 714h1.7M289 714h1.7M290 714h1.7M294 714h1.7M295 714h1.7M296 714h1.7M297 714h1.7M298 714h1.7M299 714h1.7M300 714h1.7M302 714h1.7M303 714h1.7M304 714h1.7M305 714h1.7M306 714h1.7M307 714h1.7M308 714h1.7M309 714h1.7M313 714h1.7M314 714h1.7M316 714h1.7M317 714h1.7M318 714h1.7M320 714h1.7M329 714h1.7M333 714h1.7M371 714h1.7M257 715h1.7M263 715h1.7M276 715h1.7M283 715h1.7M287 715h1.7M288 715h1.7M289 715h1.7M291 715h1.7M295 715h1.7M296 715h1.7M299 715h1.7M300 715h1.7M302 715h1.7M303 715h1.7M304 715h1.7M306 715h1.7M307 715h1.7M308 715h1.7M309 715h1.7M310 715h1.7M311 715h1.7M312 715h1.7M313 715h1.7M315 715h1.7M316 715h1.7M319 715h1.7M321 715h1.7M323 715h1.7M328 715h1.7M379 715h1.7M382 715h1.7M276 716h1.7M278 716h1.7M285 716h1.7M286 716h1.7M287 716h1.7M291 716h1.7M292 716h1.7M293 716h1.7M294 716h1.7M295 716h1.7M296 716h1.7M297 716h1.7M298 716h1.7M299 716h1.7M300 716h1.7M301 716h1.7M303 716h1.7M305 716h1.7M306 716h1.7M307 716h1.7M308 716h1.7M309 716h1.7M310 716h1.7M312 716h1.7M313 716h1.7M314 716h1.7M316 716h1.7M319 716h1.7M329 716h1.7M376 716h1.7M256 717h1.7M258 717h1.7M267 717h1.7M277 717h1.7M285 717h1.7M287 717h1.7M288 717h1.7M292 717h1.7M295 717h1.7M297 717h1.7M298 717h1.7M300 717h1.7M301 717h1.7M302 717h1.7M305 717h1.7M307 717h1.7M308 717h1.7M309 717h1.7M310 717h1.7M313 717h1.7M314 717h1.7M317 717h1.7M321 717h1.7M322 717h1.7M323 717h1.7M329 717h1.7M330 717h1.7M332 717h1.7M263 718h1.7M279 718h1.7M282 718h1.7M285 718h1.7M288 718h1.7M289 718h1.7M292 718h1.7M293 718h1.7M294 718h1.7M295 718h1.7M296 718h1.7M297 718h1.7M298 718h1.7M299 718h1.7M300 718h1.7M303 718h1.7M304 718h1.7M306 718h1.7M307 718h1.7M309 718h1.7M314 718h1.7M318 718h1.7M321 718h1.7M331 718h1.7M341 718h1.7M362 718h1.7M243 719h1.7M256 719h1.7M266 719h1.7M277 719h1.7M280 719h1.7M281 719h1.7M282 719h1.7M283 719h1.7M285 719h1.7M286 719h1.7M287 719h1.7M288 719h1.7M289 719h1.7M290 719h1.7M291 719h1.7M293 719h1.7M294 719h1.7M296 719h1.7M297 719h1.7M298 719h1.7M299 719h1.7M300 719h1.7M302 719h1.7M304 719h1.7M305 719h1.7M307 719h1.7M309 719h1.7M310 719h1.7M316 719h1.7M329 719h1.7M334 719h1.7M336 719h1.7M269 720h1.7M274 720h1.7M276 720h1.7M277 720h1.7M279 720h1.7M281 720h1.7M283 720h1.7M284 720h1.7M285 720h1.7M286 720h1.7M287 720h1.7M289 720h1.7M290 720h1.7M291 720h1.7M292 720h1.7M293 720h1.7M294 720h1.7M295 720h1.7M297 720h1.7M298 720h1.7M300 720h1.7M301 720h1.7M302 720h1.7M305 720h1.7M307 720h1.7M308 720h1.7M309 720h1.7M318 720h1.7M325 720h1.7M326 720h1.7M339 720h1.7M374 720h1.7M389 720h1.7M269 721h1.7M270 721h1.7M271 721h1.7M274 721h1.7M277 721h1.7M278 721h1.7M279 721h1.7M280 721h1.7M283 721h1.7M285 721h1.7M287 721h1.7M288 721h1.7M289 721h1.7M290 721h1.7M291 721h1.7M293 721h1.7M294 721h1.7M295 721h1.7M297 721h1.7M298 721h1.7M300 721h1.7M301 721h1.7M303 721h1.7M305 721h1.7M310 721h1.7M313 721h1.7M314 721h1.7M316 721h1.7M317 721h1.7M324 721h1.7M340 721h1.7M343 721h1.7M384 721h1.7M267 722h1.7M268 722h1.7M269 722h1.7M272 722h1.7M273 722h1.7M274 722h1.7M277 722h1.7M278 722h1.7M279 722h1.7M281 722h1.7M282 722h1.7M284 722h1.7M286 722h1.7M287 722h1.7M288 722h1.7M289 722h1.7M290 722h1.7M291 722h1.7M292 722h1.7M293 722h1.7M294 722h1.7M295 722h1.7M296 722h1.7M297 722h1.7M298 722h1.7M299 722h1.7M300 722h1.7M301 722h1.7M303 722h1.7M307 722h1.7M310 722h1.7M311 722h1.7M333 722h1.7M266 723h1.7M269 723h1.7M270 723h1.7M271 723h1.7M279 723h1.7M281 723h1.7M282 723h1.7M283 723h1.7M284 723h1.7M285 723h1.7M286 723h1.7M287 723h1.7M289 723h1.7M290 723h1.7M292 723h1.7M294 723h1.7M295 723h1.7M297 723h1.7M299 723h1.7M301 723h1.7M302 723h1.7M304 723h1.7M305 723h1.7M306 723h1.7M308 723h1.7M312 723h1.7M314 723h1.7M321 723h1.7M335 723h1.7M257 724h1.7M266 724h1.7M268 724h1.7M269 724h1.7M271 724h1.7M274 724h1.7M275 724h1.7M276 724h1.7M277 724h1.7M278 724h1.7M280 724h1.7M281 724h1.7M282 724h1.7M283 724h1.7M284 724h1.7M287 724h1.7M288 724h1.7M289 724h1.7M291 724h1.7M292 724h1.7M293 724h1.7M295 724h1.7M296 724h1.7M298 724h1.7M299 724h1.7M300 724h1.7M303 724h1.7M305 724h1.7M307 724h1.7M308 724h1.7M309 724h1.7M312 724h1.7M318 724h1.7M321 724h1.7M323 724h1.7M324 724h1.7M326 724h1.7M364 724h1.7M260 725h1.7M262 725h1.7M266 725h1.7M267 725h1.7M270 725h1.7M272 725h1.7M275 725h1.7M277 725h1.7M278 725h1.7M279 725h1.7M280 725h1.7M283 725h1.7M284 725h1.7M285 725h1.7M287 725h1.7M288 725h1.7M289 725h1.7M290 725h1.7M291 725h1.7M292 725h1.7M293 725h1.7M294 725h1.7M295 725h1.7M299 725h1.7M302 725h1.7M306 725h1.7M308 725h1.7M311 725h1.7M315 725h1.7M316 725h1.7M320 725h1.7M322 725h1.7M325 725h1.7M336 725h1.7M383 725h1.7M262 726h1.7M264 726h1.7M266 726h1.7M267 726h1.7M270 726h1.7M272 726h1.7M273 726h1.7M274 726h1.7M275 726h1.7M277 726h1.7M278 726h1.7M280 726h1.7M282 726h1.7M283 726h1.7M284 726h1.7M286 726h1.7M287 726h1.7M288 726h1.7M289 726h1.7M290 726h1.7M292 726h1.7M293 726h1.7M294 726h1.7M295 726h1.7M296 726h1.7M297 726h1.7M298 726h1.7M299 726h1.7M302 726h1.7M303 726h1.7M310 726h1.7M311 726h1.7M321 726h1.7M324 726h1.7M343 726h1.7M256 727h1.7M258 727h1.7M263 727h1.7M264 727h1.7M266 727h1.7M268 727h1.7M270 727h1.7M271 727h1.7M272 727h1.7M273 727h1.7M274 727h1.7M275 727h1.7M276 727h1.7M278 727h1.7M279 727h1.7M280 727h1.7M281 727h1.7M282 727h1.7M285 727h1.7M286 727h1.7M287 727h1.7M288 727h1.7M289 727h1.7M290 727h1.7M291 727h1.7M299 727h1.7M301 727h1.7M303 727h1.7M305 727h1.7M307 727h1.7M314 727h1.7M321 727h1.7M327 727h1.7M332 727h1.7M342 727h1.7M241 728h1.7M257 728h1.7M260 728h1.7M262 728h1.7M263 728h1.7M264 728h1.7M265 728h1.7M268 728h1.7M269 728h1.7M271 728h1.7M273 728h1.7M274 728h1.7M275 728h1.7M276 728h1.7M278 728h1.7M279 728h1.7M280 728h1.7M281 728h1.7M282 728h1.7M283 728h1.7M284 728h1.7M285 728h1.7M286 728h1.7M287 728h1.7M288 728h1.7M292 728h1.7M293 728h1.7M294 728h1.7M295 728h1.7M298 728h1.7M299 728h1.7M302 728h1.7M304 728h1.7M307 728h1.7M308 728h1.7M313 728h1.7M319 728h1.7M328 728h1.7M332 728h1.7M368 728h1.7M247 729h1.7M250 729h1.7M254 729h1.7M256 729h1.7M257 729h1.7M258 729h1.7M261 729h1.7M264 729h1.7M268 729h1.7M271 729h1.7M272 729h1.7M273 729h1.7M274 729h1.7M275 729h1.7M276 729h1.7M277 729h1.7M278 729h1.7M279 729h1.7M280 729h1.7M281 729h1.7M282 729h1.7M285 729h1.7M286 729h1.7M287 729h1.7M290 729h1.7M294 729h1.7M296 729h1.7M302 729h1.7M306 729h1.7M311 729h1.7M326 729h1.7M327 729h1.7M329 729h1.7M331 729h1.7M335 729h1.7M337 729h1.7M254 730h1.7M257 730h1.7M261 730h1.7M262 730h1.7M265 730h1.7M266 730h1.7M268 730h1.7M269 730h1.7M270 730h1.7M272 730h1.7M273 730h1.7M274 730h1.7M275 730h1.7M276 730h1.7M277 730h1.7M278 730h1.7M279 730h1.7M280 730h1.7M281 730h1.7M282 730h1.7M283 730h1.7M284 730h1.7M285 730h1.7M286 730h1.7M287 730h1.7M288 730h1.7M290 730h1.7M291 730h1.7M293 730h1.7M294 730h1.7M296 730h1.7M299 730h1.7M302 730h1.7M306 730h1.7M311 730h1.7M317 730h1.7M323 730h1.7M367 730h1.7M243 731h1.7M256 731h1.7M257 731h1.7M258 731h1.7M259 731h1.7M260 731h1.7M262 731h1.7M263 731h1.7M264 731h1.7M265 731h1.7M268 731h1.7M269 731h1.7M270 731h1.7M272 731h1.7M273 731h1.7M275 731h1.7M276 731h1.7M277 731h1.7M278 731h1.7M279 731h1.7M280 731h1.7M281 731h1.7M283 731h1.7M284 731h1.7M285 731h1.7M286 731h1.7M287 731h1.7M288 731h1.7M289 731h1.7M291 731h1.7M295 731h1.7M296 731h1.7M299 731h1.7M300 731h1.7M301 731h1.7M302 731h1.7M306 731h1.7M307 731h1.7M308 731h1.7M311 731h1.7M318 731h1.7M319 731h1.7M321 731h1.7M322 731h1.7M327 731h1.7M331 731h1.7M333 731h1.7M334 731h1.7M336 731h1.7M233 732h1.7M255 732h1.7M258 732h1.7M259 732h1.7M260 732h1.7M261 732h1.7M262 732h1.7M263 732h1.7M264 732h1.7M265 732h1.7M266 732h1.7M268 732h1.7M269 732h1.7M270 732h1.7M271 732h1.7M272 732h1.7M273 732h1.7M274 732h1.7M275 732h1.7M276 732h1.7M277 732h1.7M279 732h1.7M280 732h1.7M281 732h1.7M283 732h1.7M284 732h1.7M285 732h1.7M286 732h1.7M287 732h1.7M289 732h1.7M290 732h1.7M291 732h1.7M292 732h1.7M293 732h1.7M296 732h1.7M303 732h1.7M305 732h1.7M308 732h1.7M322 732h1.7M330 732h1.7M223 733h1.7M242 733h1.7M251 733h1.7M253 733h1.7M254 733h1.7M257 733h1.7M259 733h1.7M260 733h1.7M262 733h1.7M263 733h1.7M264 733h1.7M266 733h1.7M269 733h1.7M270 733h1.7M272 733h1.7M273 733h1.7M274 733h1.7M275 733h1.7M276 733h1.7M277 733h1.7M278 733h1.7M280 733h1.7M281 733h1.7M282 733h1.7M283 733h1.7M284 733h1.7M285 733h1.7M286 733h1.7M289 733h1.7M290 733h1.7M293 733h1.7M299 733h1.7M302 733h1.7M304 733h1.7M305 733h1.7M306 733h1.7M307 733h1.7M309 733h1.7M324 733h1.7M327 733h1.7M341 733h1.7M362 733h1.7M378 733h1.7M242 734h1.7M244 734h1.7M249 734h1.7M251 734h1.7M254 734h1.7M257 734h1.7M259 734h1.7M260 734h1.7M261 734h1.7M262 734h1.7M264 734h1.7M265 734h1.7M266 734h1.7M267 734h1.7M268 734h1.7M269 734h1.7M270 734h1.7M271 734h1.7M272 734h1.7M273 734h1.7M274 734h1.7M275 734h1.7M276 734h1.7M277 734h1.7M278 734h1.7M279 734h1.7M280 734h1.7M281 734h1.7M282 734h1.7M283 734h1.7M284 734h1.7M285 734h1.7M293 734h1.7M296 734h1.7M314 734h1.7M326 734h1.7M341 734h1.7M347 734h1.7M241 735h1.7M245 735h1.7M253 735h1.7M255 735h1.7M256 735h1.7M257 735h1.7M258 735h1.7M260 735h1.7M261 735h1.7M262 735h1.7M263 735h1.7M264 735h1.7M265 735h1.7M266 735h1.7M267 735h1.7M268 735h1.7M269 735h1.7M270 735h1.7M271 735h1.7M276 735h1.7M277 735h1.7M278 735h1.7M279 735h1.7M281 735h1.7M282 735h1.7M283 735h1.7M284 735h1.7M286 735h1.7M290 735h1.7M291 735h1.7M294 735h1.7M303 735h1.7M305 735h1.7M307 735h1.7M311 735h1.7M316 735h1.7M325 735h1.7M331 735h1.7M333 735h1.7M337 735h1.7M344 735h1.7M241 736h1.7M245 736h1.7M246 736h1.7M248 736h1.7M251 736h1.7M253 736h1.7M254 736h1.7M257 736h1.7M258 736h1.7M259 736h1.7M260 736h1.7M261 736h1.7M262 736h1.7M263 736h1.7M265 736h1.7M266 736h1.7M267 736h1.7M268 736h1.7M269 736h1.7M270 736h1.7M272 736h1.7M273 736h1.7M276 736h1.7M277 736h1.7M278 736h1.7M279 736h1.7M282 736h1.7M283 736h1.7M284 736h1.7M287 736h1.7M292 736h1.7M294 736h1.7M296 736h1.7M301 736h1.7M306 736h1.7M313 736h1.7M315 736h1.7M319 736h1.7M323 736h1.7M330 736h1.7M334 736h1.7M228 737h1.7M234 737h1.7M243 737h1.7M244 737h1.7M248 737h1.7M251 737h1.7M252 737h1.7M254 737h1.7M255 737h1.7M256 737h1.7M257 737h1.7M258 737h1.7M259 737h1.7M260 737h1.7M261 737h1.7M262 737h1.7M263 737h1.7M264 737h1.7M265 737h1.7M266 737h1.7M267 737h1.7M268 737h1.7M269 737h1.7M271 737h1.7M272 737h1.7M274 737h1.7M277 737h1.7M279 737h1.7M280 737h1.7M281 737h1.7M282 737h1.7M284 737h1.7M295 737h1.7M296 737h1.7M299 737h1.7M302 737h1.7M304 737h1.7M305 737h1.7M307 737h1.7M308 737h1.7M344 737h1.7M241 738h1.7M243 738h1.7M244 738h1.7M245 738h1.7M247 738h1.7M249 738h1.7M250 738h1.7M252 738h1.7M253 738h1.7M254 738h1.7M255 738h1.7M256 738h1.7M257 738h1.7M259 738h1.7M260 738h1.7M261 738h1.7M262 738h1.7M263 738h1.7M264 738h1.7M265 738h1.7M266 738h1.7M267 738h1.7M268 738h1.7M269 738h1.7M270 738h1.7M271 738h1.7M272 738h1.7M273 738h1.7M274 738h1.7M275 738h1.7M276 738h1.7M277 738h1.7M278 738h1.7M279 738h1.7M280 738h1.7M281 738h1.7M283 738h1.7M284 738h1.7M285 738h1.7M286 738h1.7M287 738h1.7M289 738h1.7M293 738h1.7M296 738h1.7M298 738h1.7M299 738h1.7M301 738h1.7M302 738h1.7M305 738h1.7M312 738h1.7M319 738h1.7M337 738h1.7M239 739h1.7M242 739h1.7M244 739h1.7M245 739h1.7M247 739h1.7M248 739h1.7M251 739h1.7M252 739h1.7M253 739h1.7M254 739h1.7M255 739h1.7M256 739h1.7M257 739h1.7M258 739h1.7M259 739h1.7M260 739h1.7M261 739h1.7M262 739h1.7M263 739h1.7M264 739h1.7M265 739h1.7M266 739h1.7M267 739h1.7M268 739h1.7M269 739h1.7M270 739h1.7M271 739h1.7M274 739h1.7M275 739h1.7M277 739h1.7M278 739h1.7M279 739h1.7M280 739h1.7M281 739h1.7M284 739h1.7M287 739h1.7M290 739h1.7M292 739h1.7M293 739h1.7M298 739h1.7M301 739h1.7M303 739h1.7M309 739h1.7M312 739h1.7M323 739h1.7M233 740h1.7M237 740h1.7M242 740h1.7M246 740h1.7M248 740h1.7M249 740h1.7M250 740h1.7M251 740h1.7M252 740h1.7M253 740h1.7M256 740h1.7M257 740h1.7M258 740h1.7M260 740h1.7M261 740h1.7M262 740h1.7M263 740h1.7M264 740h1.7M265 740h1.7M266 740h1.7M267 740h1.7M268 740h1.7M269 740h1.7M270 740h1.7M271 740h1.7M272 740h1.7M276 740h1.7M278 740h1.7M279 740h1.7M281 740h1.7M284 740h1.7M285 740h1.7M288 740h1.7M292 740h1.7M293 740h1.7M295 740h1.7M299 740h1.7M300 740h1.7M302 740h1.7M303 740h1.7M307 740h1.7M309 740h1.7M310 740h1.7M234 741h1.7M238 741h1.7M239 741h1.7M242 741h1.7M243 741h1.7M245 741h1.7M246 741h1.7M247 741h1.7M248 741h1.7M249 741h1.7M250 741h1.7M251 741h1.7M252 741h1.7M253 741h1.7M254 741h1.7M255 741h1.7M256 741h1.7M257 741h1.7M258 741h1.7M259 741h1.7M260 741h1.7M261 741h1.7M262 741h1.7M263 741h1.7M264 741h1.7M265 741h1.7M266 741h1.7M267 741h1.7M268 741h1.7M269 741h1.7M270 741h1.7M271 741h1.7M272 741h1.7M273 741h1.7M276 741h1.7M277 741h1.7M282 741h1.7M283 741h1.7M285 741h1.7M289 741h1.7M295 741h1.7M305 741h1.7M318 741h1.7M366 741h1.7M226 742h1.7M227 742h1.7M229 742h1.7M230 742h1.7M236 742h1.7M239 742h1.7M241 742h1.7M242 742h1.7M243 742h1.7M244 742h1.7M245 742h1.7M246 742h1.7M247 742h1.7M248 742h1.7M249 742h1.7M250 742h1.7M251 742h1.7M252 742h1.7M253 742h1.7M255 742h1.7M256 742h1.7M257 742h1.7M258 742h1.7M259 742h1.7M260 742h1.7M261 742h1.7M262 742h1.7M263 742h1.7M264 742h1.7M265 742h1.7M266 742h1.7M267 742h1.7M268 742h1.7M269 742h1.7M270 742h1.7M272 742h1.7M273 742h1.7M280 742h1.7M284 742h1.7M286 742h1.7M288 742h1.7M292 742h1.7M296 742h1.7M298 742h1.7M301 742h1.7M303 742h1.7M305 742h1.7M306 742h1.7M308 742h1.7M314 742h1.7M315 742h1.7M231 743h1.7M233 743h1.7M238 743h1.7M240 743h1.7M241 743h1.7M244 743h1.7M245 743h1.7M246 743h1.7M247 743h1.7M248 743h1.7M250 743h1.7M251 743h1.7M252 743h1.7M253 743h1.7M254 743h1.7M255 743h1.7M256 743h1.7M257 743h1.7M258 743h1.7M259 743h1.7M260 743h1.7M261 743h1.7M262 743h1.7M263 743h1.7M264 743h1.7M265 743h1.7M266 743h1.7M268 743h1.7M269 743h1.7M272 743h1.7M273 743h1.7M274 743h1.7M275 743h1.7M276 743h1.7M277 743h1.7M279 743h1.7M281 743h1.7M283 743h1.7M285 743h1.7M291 743h1.7M296 743h1.7M297 743h1.7M298 743h1.7M302 743h1.7M303 743h1.7M224 744h1.7M235 744h1.7M236 744h1.7M238 744h1.7M240 744h1.7M241 744h1.7M242 744h1.7M243 744h1.7M244 744h1.7M245 744h1.7M246 744h1.7M247 744h1.7M248 744h1.7M249 744h1.7M250 744h1.7M251 744h1.7M252 744h1.7M253 744h1.7M254 744h1.7M255 744h1.7M256 744h1.7M258 744h1.7M259 744h1.7M260 744h1.7M261 744h1.7M263 744h1.7M264 744h1.7M265 744h1.7M266 744h1.7M267 744h1.7M268 744h1.7M270 744h1.7M272 744h1.7M273 744h1.7M276 744h1.7M278 744h1.7M279 744h1.7M285 744h1.7M287 744h1.7M295 744h1.7M296 744h1.7M298 744h1.7M299 744h1.7M302 744h1.7M316 744h1.7M339 744h1.7M348 744h1.7M231 745h1.7M232 745h1.7M236 745h1.7M237 745h1.7M239 745h1.7M240 745h1.7M241 745h1.7M242 745h1.7M243 745h1.7M244 745h1.7M245 745h1.7M246 745h1.7M247 745h1.7M248 745h1.7M249 745h1.7M250 745h1.7M251 745h1.7M252 745h1.7M253 745h1.7M254 745h1.7M255 745h1.7M256 745h1.7M257 745h1.7M258 745h1.7M259 745h1.7M262 745h1.7M265 745h1.7M266 745h1.7M267 745h1.7M269 745h1.7M273 745h1.7M275 745h1.7M279 745h1.7M285 745h1.7M286 745h1.7M288 745h1.7M289 745h1.7M291 745h1.7M292 745h1.7M293 745h1.7M298 745h1.7M303 745h1.7M306 745h1.7M311 745h1.7M312 745h1.7M201 746h1.7M230 746h1.7M232 746h1.7M233 746h1.7M234 746h1.7M235 746h1.7M237 746h1.7M238 746h1.7M239 746h1.7M240 746h1.7M241 746h1.7M242 746h1.7M243 746h1.7M244 746h1.7M245 746h1.7M246 746h1.7M247 746h1.7M248 746h1.7M249 746h1.7M250 746h1.7M251 746h1.7M252 746h1.7M253 746h1.7M254 746h1.7M255 746h1.7M256 746h1.7M257 746h1.7M258 746h1.7M259 746h1.7M260 746h1.7M261 746h1.7M262 746h1.7M263 746h1.7M264 746h1.7M265 746h1.7M266 746h1.7M267 746h1.7M268 746h1.7M272 746h1.7M273 746h1.7M274 746h1.7M277 746h1.7M279 746h1.7M280 746h1.7M283 746h1.7M284 746h1.7M286 746h1.7M289 746h1.7M309 746h1.7M320 746h1.7M327 746h1.7M227 747h1.7M228 747h1.7M229 747h1.7M230 747h1.7M233 747h1.7M234 747h1.7M235 747h1.7M237 747h1.7M239 747h1.7M240 747h1.7M241 747h1.7M243 747h1.7M245 747h1.7M246 747h1.7M247 747h1.7M248 747h1.7M249 747h1.7M250 747h1.7M251 747h1.7M252 747h1.7M253 747h1.7M254 747h1.7M258 747h1.7M260 747h1.7M261 747h1.7M263 747h1.7M265 747h1.7M267 747h1.7M269 747h1.7M276 747h1.7M278 747h1.7M279 747h1.7M283 747h1.7M285 747h1.7M286 747h1.7M306 747h1.7M316 747h1.7M213 748h1.7M220 748h1.7M221 748h1.7M224 748h1.7M228 748h1.7M229 748h1.7M231 748h1.7M232 748h1.7M233 748h1.7M234 748h1.7M235 748h1.7M236 748h1.7M237 748h1.7M238 748h1.7M239 748h1.7M240 748h1.7M241 748h1.7M242 748h1.7M243 748h1.7M244 748h1.7M245 748h1.7M246 748h1.7M247 748h1.7M248 748h1.7M249 748h1.7M250 748h1.7M252 748h1.7M254 748h1.7M255 748h1.7M256 748h1.7M258 748h1.7M259 748h1.7M260 748h1.7M261 748h1.7M263 748h1.7M264 748h1.7M265 748h1.7M266 748h1.7M267 748h1.7M268 748h1.7M274 748h1.7M281 748h1.7M284 748h1.7M288 748h1.7M290 748h1.7M292 748h1.7M296 748h1.7M297 748h1.7M299 748h1.7M305 748h1.7M313 748h1.7M223 749h1.7M224 749h1.7M226 749h1.7M228 749h1.7M231 749h1.7M232 749h1.7M234 749h1.7M236 749h1.7M237 749h1.7M238 749h1.7M239 749h1.7M240 749h1.7M241 749h1.7M242 749h1.7M243 749h1.7M244 749h1.7M245 749h1.7M246 749h1.7M247 749h1.7M248 749h1.7M249 749h1.7M250 749h1.7M251 749h1.7M252 749h1.7M253 749h1.7M255 749h1.7M256 749h1.7M258 749h1.7M259 749h1.7M261 749h1.7M263 749h1.7M264 749h1.7M267 749h1.7M270 749h1.7M271 749h1.7M276 749h1.7M279 749h1.7M280 749h1.7M282 749h1.7M284 749h1.7M285 749h1.7M287 749h1.7M297 749h1.7M210 750h1.7M216 750h1.7M219 750h1.7M222 750h1.7M227 750h1.7M228 750h1.7M232 750h1.7M233 750h1.7M234 750h1.7M235 750h1.7M236 750h1.7M237 750h1.7M238 750h1.7M239 750h1.7M240 750h1.7M241 750h1.7M243 750h1.7M244 750h1.7M245 750h1.7M246 750h1.7M247 750h1.7M248 750h1.7M249 750h1.7M250 750h1.7M251 750h1.7M253 750h1.7M254 750h1.7M255 750h1.7M258 750h1.7M265 750h1.7M266 750h1.7M267 750h1.7M268 750h1.7M270 750h1.7M271 750h1.7M272 750h1.7M273 750h1.7M276 750h1.7M278 750h1.7M281 750h1.7M285 750h1.7M291 750h1.7M296 750h1.7M303 750h1.7M309 750h1.7M327 750h1.7M224 751h1.7M227 751h1.7M228 751h1.7M229 751h1.7M231 751h1.7M232 751h1.7M233 751h1.7M234 751h1.7M235 751h1.7M236 751h1.7M237 751h1.7M238 751h1.7M239 751h1.7M240 751h1.7M241 751h1.7M243 751h1.7M244 751h1.7M245 751h1.7M246 751h1.7M247 751h1.7M248 751h1.7M249 751h1.7M250 751h1.7M251 751h1.7M252 751h1.7M255 751h1.7M256 751h1.7M257 751h1.7M258 751h1.7M259 751h1.7M264 751h1.7M266 751h1.7M267 751h1.7M269 751h1.7M273 751h1.7M274 751h1.7M277 751h1.7M287 751h1.7M295 751h1.7M333 751h1.7M214 752h1.7M215 752h1.7M216 752h1.7M220 752h1.7M221 752h1.7M223 752h1.7M224 752h1.7M225 752h1.7M226 752h1.7M227 752h1.7M228 752h1.7M229 752h1.7M230 752h1.7M231 752h1.7M232 752h1.7M233 752h1.7M234 752h1.7M235 752h1.7M236 752h1.7M237 752h1.7M238 752h1.7M240 752h1.7M241 752h1.7M242 752h1.7M243 752h1.7M244 752h1.7M245 752h1.7M246 752h1.7M247 752h1.7M248 752h1.7M249 752h1.7M250 752h1.7M251 752h1.7M252 752h1.7M253 752h1.7M254 752h1.7M256 752h1.7M258 752h1.7M259 752h1.7M261 752h1.7M262 752h1.7M265 752h1.7M267 752h1.7M270 752h1.7M275 752h1.7M279 752h1.7M280 752h1.7M281 752h1.7M282 752h1.7M293 752h1.7M304 752h1.7M205 753h1.7M209 753h1.7M211 753h1.7M213 753h1.7M215 753h1.7M216 753h1.7M218 753h1.7M220 753h1.7M221 753h1.7M222 753h1.7M223 753h1.7M224 753h1.7M225 753h1.7M226 753h1.7M227 753h1.7M228 753h1.7M229 753h1.7M230 753h1.7M231 753h1.7M232 753h1.7M233 753h1.7M234 753h1.7M235 753h1.7M236 753h1.7M237 753h1.7M238 753h1.7M239 753h1.7M240 753h1.7M241 753h1.7M242 753h1.7M243 753h1.7M244 753h1.7M245 753h1.7M246 753h1.7M247 753h1.7M248 753h1.7M249 753h1.7M250 753h1.7M251 753h1.7M252 753h1.7M254 753h1.7M256 753h1.7M258 753h1.7M259 753h1.7M263 753h1.7M270 753h1.7M272 753h1.7M274 753h1.7M278 753h1.7M279 753h1.7M283 753h1.7M297 753h1.7M300 753h1.7M310 753h1.7M215 754h1.7M218 754h1.7M219 754h1.7M220 754h1.7M221 754h1.7M224 754h1.7M225 754h1.7M226 754h1.7M228 754h1.7M229 754h1.7M230 754h1.7M231 754h1.7M232 754h1.7M233 754h1.7M235 754h1.7M236 754h1.7M237 754h1.7M239 754h1.7M240 754h1.7M241 754h1.7M242 754h1.7M243 754h1.7M244 754h1.7M245 754h1.7M246 754h1.7M247 754h1.7M248 754h1.7M249 754h1.7M250 754h1.7M251 754h1.7M252 754h1.7M253 754h1.7M254 754h1.7M255 754h1.7M256 754h1.7M257 754h1.7M259 754h1.7M267 754h1.7M270 754h1.7M273 754h1.7M281 754h1.7M282 754h1.7M290 754h1.7M208 755h1.7M212 755h1.7M217 755h1.7M220 755h1.7M221 755h1.7M222 755h1.7M224 755h1.7M225 755h1.7M226 755h1.7M227 755h1.7M228 755h1.7M229 755h1.7M230 755h1.7M231 755h1.7M232 755h1.7M233 755h1.7M234 755h1.7M235 755h1.7M237 755h1.7M238 755h1.7M239 755h1.7M240 755h1.7M241 755h1.7M242 755h1.7M243 755h1.7M244 755h1.7M245 755h1.7M246 755h1.7M247 755h1.7M248 755h1.7M249 755h1.7M252 755h1.7M254 755h1.7M258 755h1.7M259 755h1.7M262 755h1.7M264 755h1.7M269 755h1.7M270 755h1.7M271 755h1.7M274 755h1.7M277 755h1.7M279 755h1.7M280 755h1.7M203 756h1.7M213 756h1.7M214 756h1.7M216 756h1.7M217 756h1.7M219 756h1.7M221 756h1.7M222 756h1.7M223 756h1.7M224 756h1.7M225 756h1.7M226 756h1.7M227 756h1.7M229 756h1.7M230 756h1.7M231 756h1.7M232 756h1.7M233 756h1.7M234 756h1.7M235 756h1.7M236 756h1.7M237 756h1.7M238 756h1.7M239 756h1.7M240 756h1.7M241 756h1.7M242 756h1.7M243 756h1.7M244 756h1.7M245 756h1.7M246 756h1.7M247 756h1.7M248 756h1.7M249 756h1.7M250 756h1.7M251 756h1.7M254 756h1.7M255 756h1.7M265 756h1.7M266 756h1.7M267 756h1.7M268 756h1.7M270 756h1.7M271 756h1.7M275 756h1.7M276 756h1.7M280 756h1.7M287 756h1.7M304 756h1.7M206 757h1.7M208 757h1.7M210 757h1.7M211 757h1.7M213 757h1.7M215 757h1.7M216 757h1.7M217 757h1.7M218 757h1.7M219 757h1.7M220 757h1.7M221 757h1.7M222 757h1.7M223 757h1.7M224 757h1.7M225 757h1.7M226 757h1.7M227 757h1.7M228 757h1.7M229 757h1.7M230 757h1.7M231 757h1.7M232 757h1.7M233 757h1.7M234 757h1.7M236 757h1.7M237 757h1.7M239 757h1.7M240 757h1.7M241 757h1.7M242 757h1.7M243 757h1.7M244 757h1.7M248 757h1.7M249 757h1.7M251 757h1.7M257 757h1.7M276 757h1.7M282 757h1.7M299 757h1.7M304 757h1.7M208 758h1.7M209 758h1.7M212 758h1.7M213 758h1.7M214 758h1.7M216 758h1.7M217 758h1.7M218 758h1.7M219 758h1.7M220 758h1.7M222 758h1.7M223 758h1.7M224 758h1.7M225 758h1.7M226 758h1.7M227 758h1.7M228 758h1.7M229 758h1.7M230 758h1.7M231 758h1.7M232 758h1.7M233 758h1.7M234 758h1.7M235 758h1.7M236 758h1.7M237 758h1.7M238 758h1.7M239 758h1.7M240 758h1.7M241 758h1.7M242 758h1.7M243 758h1.7M244 758h1.7M246 758h1.7M247 758h1.7M248 758h1.7M249 758h1.7M251 758h1.7M252 758h1.7M253 758h1.7M256 758h1.7M257 758h1.7M258 758h1.7M259 758h1.7M268 758h1.7M273 758h1.7M275 758h1.7M283 758h1.7M319 758h1.7M204 759h1.7M209 759h1.7M210 759h1.7M211 759h1.7M212 759h1.7M213 759h1.7M214 759h1.7M215 759h1.7M216 759h1.7M217 759h1.7M218 759h1.7M219 759h1.7M220 759h1.7M221 759h1.7M222 759h1.7M223 759h1.7M224 759h1.7M225 759h1.7M226 759h1.7M227 759h1.7M228 759h1.7M229 759h1.7M230 759h1.7M231 759h1.7M232 759h1.7M233 759h1.7M234 759h1.7M236 759h1.7M237 759h1.7M238 759h1.7M239 759h1.7M240 759h1.7M242 759h1.7M247 759h1.7M248 759h1.7M249 759h1.7M251 759h1.7M253 759h1.7M254 759h1.7M259 759h1.7M260 759h1.7M265 759h1.7M266 759h1.7M268 759h1.7M202 760h1.7M204 760h1.7M206 760h1.7M207 760h1.7M211 760h1.7M212 760h1.7M213 760h1.7M214 760h1.7M216 760h1.7M217 760h1.7M218 760h1.7M219 760h1.7M220 760h1.7M221 760h1.7M222 760h1.7M223 760h1.7M224 760h1.7M225 760h1.7M226 760h1.7M227 760h1.7M228 760h1.7M229 760h1.7M230 760h1.7M231 760h1.7M232 760h1.7M233 760h1.7M234 760h1.7M236 760h1.7M238 760h1.7M239 760h1.7M241 760h1.7M242 760h1.7M243 760h1.7M247 760h1.7M248 760h1.7M249 760h1.7M253 760h1.7M258 760h1.7M264 760h1.7M270 760h1.7M283 760h1.7M328 760h1.7M203 761h1.7M205 761h1.7M209 761h1.7M210 761h1.7M211 761h1.7M213 761h1.7M214 761h1.7M215 761h1.7M216 761h1.7M217 761h1.7M218 761h1.7M219 761h1.7M220 761h1.7M221 761h1.7M222 761h1.7M223 761h1.7M224 761h1.7M225 761h1.7M226 761h1.7M227 761h1.7M228 761h1.7M229 761h1.7M230 761h1.7M231 761h1.7M233 761h1.7M235 761h1.7M236 761h1.7M237 761h1.7M238 761h1.7M240 761h1.7M241 761h1.7M242 761h1.7M243 761h1.7M245 761h1.7M250 761h1.7M263 761h1.7M269 761h1.7M271 761h1.7M276 761h1.7M314 761h1.7M203 762h1.7M205 762h1.7M206 762h1.7M207 762h1.7M209 762h1.7M210 762h1.7M211 762h1.7M212 762h1.7M213 762h1.7M215 762h1.7M216 762h1.7M217 762h1.7M218 762h1.7M219 762h1.7M220 762h1.7M221 762h1.7M222 762h1.7M223 762h1.7M225 762h1.7M226 762h1.7M227 762h1.7M228 762h1.7M229 762h1.7M230 762h1.7M231 762h1.7M233 762h1.7M234 762h1.7M235 762h1.7M236 762h1.7M237 762h1.7M238 762h1.7M239 762h1.7M240 762h1.7M241 762h1.7M242 762h1.7M244 762h1.7M254 762h1.7M256 762h1.7M258 762h1.7M263 762h1.7M265 762h1.7M273 762h1.7M275 762h1.7M313 762h1.7M203 763h1.7M204 763h1.7M205 763h1.7M206 763h1.7M207 763h1.7M209 763h1.7M211 763h1.7M212 763h1.7M213 763h1.7M214 763h1.7M215 763h1.7M216 763h1.7M217 763h1.7M218 763h1.7M219 763h1.7M220 763h1.7M221 763h1.7M222 763h1.7M223 763h1.7M224 763h1.7M225 763h1.7M226 763h1.7M227 763h1.7M229 763h1.7M230 763h1.7M231 763h1.7M232 763h1.7M233 763h1.7M234 763h1.7M235 763h1.7M238 763h1.7M240 763h1.7M242 763h1.7M243 763h1.7M250 763h1.7M255 763h1.7M263 763h1.7M267 763h1.7M305 763h1.7M202 764h1.7M204 764h1.7M205 764h1.7M206 764h1.7M207 764h1.7M208 764h1.7M209 764h1.7M210 764h1.7M211 764h1.7M212 764h1.7M213 764h1.7M214 764h1.7M215 764h1.7M216 764h1.7M217 764h1.7M218 764h1.7M219 764h1.7M220 764h1.7M221 764h1.7M222 764h1.7M223 764h1.7M224 764h1.7M225 764h1.7M226 764h1.7M227 764h1.7M228 764h1.7M229 764h1.7M230 764h1.7M231 764h1.7M232 764h1.7M233 764h1.7M236 764h1.7M239 764h1.7M240 764h1.7M242 764h1.7M244 764h1.7M246 764h1.7M253 764h1.7M267 764h1.7M289 764h1.7M202 765h1.7M205 765h1.7M206 765h1.7M208 765h1.7M209 765h1.7M210 765h1.7M211 765h1.7M213 765h1.7M214 765h1.7M215 765h1.7M216 765h1.7M217 765h1.7M218 765h1.7M219 765h1.7M220 765h1.7M221 765h1.7M222 765h1.7M223 765h1.7M224 765h1.7M225 765h1.7M226 765h1.7M228 765h1.7M230 765h1.7M232 765h1.7M233 765h1.7M234 765h1.7M235 765h1.7M237 765h1.7M245 765h1.7M252 765h1.7M267 765h1.7M279 765h1.7M280 765h1.7M203 766h1.7M204 766h1.7M205 766h1.7M207 766h1.7M208 766h1.7M209 766h1.7M210 766h1.7M211 766h1.7M212 766h1.7M213 766h1.7M214 766h1.7M215 766h1.7M216 766h1.7M217 766h1.7M219 766h1.7M220 766h1.7M221 766h1.7M222 766h1.7M223 766h1.7M224 766h1.7M225 766h1.7M228 766h1.7M232 766h1.7M234 766h1.7M236 766h1.7M238 766h1.7M239 766h1.7M241 766h1.7M245 766h1.7M246 766h1.7M249 766h1.7M251 766h1.7M254 766h1.7M258 766h1.7M204 767h1.7M205 767h1.7M206 767h1.7M207 767h1.7M208 767h1.7M209 767h1.7M210 767h1.7M211 767h1.7M212 767h1.7M213 767h1.7M214 767h1.7M215 767h1.7M216 767h1.7M217 767h1.7M218 767h1.7M219 767h1.7M220 767h1.7M221 767h1.7M222 767h1.7M224 767h1.7M226 767h1.7M227 767h1.7M228 767h1.7M229 767h1.7M230 767h1.7M231 767h1.7M232 767h1.7M234 767h1.7M236 767h1.7M237 767h1.7M239 767h1.7M243 767h1.7M248 767h1.7M253 767h1.7M260 767h1.7M264 767h1.7M275 767h1.7M285 767h1.7M205 768h1.7M206 768h1.7M207 768h1.7M208 768h1.7M209 768h1.7M210 768h1.7M211 768h1.7M212 768h1.7M213 768h1.7M214 768h1.7M215 768h1.7M216 768h1.7M217 768h1.7M218 768h1.7M219 768h1.7M220 768h1.7M221 768h1.7M223 768h1.7M224 768h1.7M226 768h1.7M230 768h1.7M239 768h1.7M242 768h1.7M244 768h1.7M249 768h1.7M257 768h1.7M262 768h1.7M288 768h1.7M205 769h1.7M206 769h1.7M207 769h1.7M208 769h1.7M209 769h1.7M210 769h1.7M211 769h1.7M212 769h1.7M213 769h1.7M214 769h1.7M215 769h1.7M216 769h1.7M217 769h1.7M218 769h1.7M219 769h1.7M220 769h1.7M221 769h1.7M224 769h1.7M227 769h1.7M230 769h1.7M233 769h1.7M234 769h1.7M235 769h1.7M236 769h1.7M238 769h1.7M239 769h1.7M247 769h1.7M260 769h1.7M266 769h1.7M268 769h1.7M280 769h1.7M285 769h1.7M206 770h1.7M207 770h1.7M208 770h1.7M209 770h1.7M210 770h1.7M211 770h1.7M212 770h1.7M213 770h1.7M214 770h1.7M215 770h1.7M216 770h1.7M217 770h1.7M218 770h1.7M219 770h1.7M220 770h1.7M221 770h1.7M222 770h1.7M223 770h1.7M225 770h1.7M226 770h1.7M227 770h1.7M237 770h1.7M241 770h1.7M245 770h1.7M246 770h1.7M255 770h1.7M256 770h1.7M206 771h1.7M207 771h1.7M208 771h1.7M209 771h1.7M210 771h1.7M211 771h1.7M212 771h1.7M213 771h1.7M214 771h1.7M216 771h1.7M217 771h1.7M218 771h1.7M219 771h1.7M220 771h1.7M221 771h1.7M222 771h1.7M235 771h1.7M240 771h1.7M258 771h1.7M270 771h1.7M207 772h1.7M208 772h1.7M209 772h1.7M210 772h1.7M211 772h1.7M212 772h1.7M213 772h1.7M215 772h1.7M216 772h1.7M218 772h1.7M225 772h1.7M231 772h1.7M232 772h1.7M239 772h1.7M250 772h1.7M207 773h1.7M208 773h1.7M209 773h1.7M210 773h1.7M211 773h1.7M212 773h1.7M214 773h1.7M215 773h1.7M217 773h1.7M219 773h1.7M220 773h1.7M224 773h1.7M229 773h1.7M235 773h1.7M241 773h1.7M244 773h1.7M247 773h1.7M208 774h1.7M209 774h1.7M210 774h1.7M211 774h1.7M212 774h1.7M213 774h1.7M214 774h1.7M215 774h1.7M216 774h1.7M217 774h1.7M218 774h1.7M220 774h1.7M229 774h1.7M230 774h1.7M231 774h1.7M233 774h1.7M239 774h1.7M256 774h1.7M209 775h1.7M210 775h1.7M211 775h1.7M213 775h1.7M214 775h1.7M215 775h1.7M216 775h1.7M217 775h1.7M219 775h1.7M220 775h1.7M221 775h1.7M222 775h1.7M238 775h1.7M239 775h1.7M243 775h1.7M250 775h1.7M209 776h1.7M210 776h1.7M211 776h1.7M212 776h1.7M213 776h1.7M214 776h1.7M215 776h1.7M217 776h1.7M224 776h1.7M232 776h1.7M234 776h1.7M210 777h1.7M211 777h1.7M212 777h1.7M213 777h1.7M216 777h1.7M219 777h1.7M229 777h1.7M212 778h1.7M214 778h1.7M242 778h1.7M246 778h1.7M211 779h1.7M213 779h1.7M222 779h1.7M230 779h1.7M235 779h1.7M245 779h1.7M257 779h1.7M222 780h1.7M225 788h1.7" stroke="#ff0000" stroke-width="1.7" fill="none" filter="url(#bl)"/>
<path d="M165 481.9V800.3" stroke="#5a5a5a" stroke-width="2.2"/>
<path d="M485.8 481.9V809.3" stroke="#808080" stroke-width="2.8"/>
<path d="M164 800.3H485.8" stroke="#6e6e6e" stroke-width="2.5"/>
<path d="M156 481.9H486.8" stroke="#7a7a7a" stroke-width="3"/>
<path d="M344.3 481.9V800.3M165 685H485.8" stroke="#4d4d4d" stroke-width="2"/>
<path d="M156 772.6H165M156 716.6H165M156 644.3H165M156 571.1H165M156 498.5H165M159 765.5H165M159 758.4H165M159 751.2H165M159 744.6H165M159 738.8H165M159 733.7H165M159 729.1H165M159 725.4H165M159 722H165M159 781.1H165M159 789.6H165M159 798.1H165M159 694.8H165M159 682.1H165M159 673H165M159 666H165M159 660.3H165M159 655.5H165M159 651.3H165M159 647.6H165M159 622.2H165M159 609.3H165M159 600.2H165M159 593.1H165M159 587.3H165M159 582.4H165M159 578.1H165M159 574.4H165M159 549.2H165M159 536.4H165M159 527.3H165M159 520.3H165M159 514.6H165M159 509.7H165M159 505.5H165M159 501.8H165M203.5 800.3V809.3M263.2 800.3V809.3M362.3 800.3V809.3M463.7 800.3V809.3M211.1 800.3V806.3M218.7 800.3V806.3M226.2 800.3V806.3M233.3 800.3V806.3M239.5 800.3V806.3M244.9 800.3V806.3M249.8 800.3V806.3M253.8 800.3V806.3M257.4 800.3V806.3M195.9 800.3V806.3M188.3 800.3V806.3M180.7 800.3V806.3M173.1 800.3V806.3M293 800.3V806.3M310.5 800.3V806.3M322.8 800.3V806.3M332.5 800.3V806.3M340.3 800.3V806.3M346.9 800.3V806.3M352.7 800.3V806.3M357.8 800.3V806.3M392.8 800.3V806.3M410.7 800.3V806.3M423.3 800.3V806.3M433.1 800.3V806.3M441.2 800.3V806.3M448 800.3V806.3M453.8 800.3V806.3M459 800.3V806.3" stroke="#6a6a6a" stroke-width="1.8" fill="none"/>
<text transform="translate(150,772.6) rotate(-90)" x="0" text-anchor="middle" font-family='"Liberation Sans", sans-serif' font-size="18.5" fill="#4a4a4a">0</text>
<text transform="translate(150,716.6) rotate(-90)" x="-10.3" font-family='"Liberation Sans", sans-serif' font-size="18.5" fill="#4a4a4a">10<tspan font-size="12.2" dy="-8.1">4</tspan></text>
<text transform="translate(150,644.3) rotate(-90)" x="-10.3" font-family='"Liberation Sans", sans-serif' font-size="18.5" fill="#4a4a4a">10<tspan font-size="12.2" dy="-8.1">5</tspan></text>
<text transform="translate(150,571.1) rotate(-90)" x="-10.3" font-family='"Liberation Sans", sans-serif' font-size="18.5" fill="#4a4a4a">10<tspan font-size="12.2" dy="-8.1">6</tspan></text>
<text transform="translate(150,498.5) rotate(-90)" x="-10.3" font-family='"Liberation Sans", sans-serif' font-size="18.5" fill="#4a4a4a">10<tspan font-size="12.2" dy="-8.1">7</tspan></text>
<text x="203.5" y="828.6" text-anchor="middle" font-family='"Liberation Sans", sans-serif' font-size="18.5" fill="#4a4a4a">0</text>
<text x="252.9" y="828.6" font-family='"Liberation Sans", sans-serif' font-size="18.5" fill="#4a4a4a">10<tspan font-size="12.2" dy="-8.1">5</tspan></text>
<text x="352" y="828.6" font-family='"Liberation Sans", sans-serif' font-size="18.5" fill="#4a4a4a">10<tspan font-size="12.2" dy="-8.1">6</tspan></text>
<text x="453.4" y="828.6" font-family='"Liberation Sans", sans-serif' font-size="18.5" fill="#4a4a4a">10<tspan font-size="12.2" dy="-8.1">7</tspan></text>
<text x="169" y="502.4" font-family='"Liberation Sans", sans-serif' font-size="17" fill="#4a4a4a">Q1(5.28%)</text>
<text x="481.3" y="502.4" text-anchor="end" font-family='"Liberation Sans", sans-serif' font-size="17" fill="#4a4a4a">Q2(8.72%)</text>
<text x="169" y="792.3" font-family='"Liberation Sans", sans-serif' font-size="17" fill="#4a4a4a">Q3(83.40%)</text>
<text x="481.3" y="792.3" text-anchor="end" font-family='"Liberation Sans", sans-serif' font-size="17" fill="#4a4a4a">Q1-LR(2.60%)</text>
<path d="M881 564h1.7M804 576h1.7M839 581h1.7M763 589h1.7M840 589h1.7M798 592h1.7M820 595h1.7M798 596h1.7M803 596h1.7M797 597h1.7M817 597h1.7M841 597h1.7M839 598h1.7M724 599h1.7M798 599h1.7M801 599h1.7M834 599h1.7M807 600h1.7M781 601h1.7M806 601h1.7M851 601h1.7M820 602h1.7M822 603h1.7M841 603h1.7M772 604h1.7M777 604h1.7M829 605h1.7M828 606h1.7M765 607h1.7M799 607h1.7M809 607h1.7M813 607h1.7M708 608h1.7M752 608h1.7M789 608h1.7M800 608h1.7M804 608h1.7M757 609h1.7M780 609h1.7M801 609h1.7M803 609h1.7M808 609h1.7M826 609h1.7M725 610h1.7M767 610h1.7M781 611h1.7M817 611h1.7M821 611h1.7M831 611h1.7M749 612h1.7M788 612h1.7M796 612h1.7M830 612h1.7M769 613h1.7M778 613h1.7M781 613h1.7M785 613h1.7M802 613h1.7M830 613h1.7M845 613h1.7M754 614h1.7M761 614h1.7M786 614h1.7M788 614h1.7M793 614h1.7M795 614h1.7M800 614h1.7M801 614h1.7M718 615h1.7M752 615h1.7M755 615h1.7M787 615h1.7M788 615h1.7M801 615h1.7M805 615h1.7M818 615h1.7M822 615h1.7M856 615h1.7M791 616h1.7M796 616h1.7M813 616h1.7M814 616h1.7M823 616h1.7M763 617h1.7M784 617h1.7M786 617h1.7M791 617h1.7M795 617h1.7M798 617h1.7M846 617h1.7M753 618h1.7M766 618h1.7M772 618h1.7M798 618h1.7M806 618h1.7M807 618h1.7M808 618h1.7M816 618h1.7M828 618h1.7M836 618h1.7M755 619h1.7M780 619h1.7M791 619h1.7M804 619h1.7M814 619h1.7M757 620h1.7M780 620h1.7M796 620h1.7M804 620h1.7M814 620h1.7M835 620h1.7M841 620h1.7M744 621h1.7M782 621h1.7M786 621h1.7M796 621h1.7M807 621h1.7M718 622h1.7M774 622h1.7M780 622h1.7M781 622h1.7M815 622h1.7M819 622h1.7M737 623h1.7M743 623h1.7M749 623h1.7M762 623h1.7M763 623h1.7M772 623h1.7M780 623h1.7M791 623h1.7M811 623h1.7M816 623h1.7M819 623h1.7M834 623h1.7M844 623h1.7M872 623h1.7M766 624h1.7M773 624h1.7M775 624h1.7M779 624h1.7M780 624h1.7M786 624h1.7M795 624h1.7M797 624h1.7M804 624h1.7M807 624h1.7M825 624h1.7M703 625h1.7M711 625h1.7M732 625h1.7M766 625h1.7M781 625h1.7M789 625h1.7M800 625h1.7M803 625h1.7M814 625h1.7M778 626h1.7M779 626h1.7M780 626h1.7M782 626h1.7M737 627h1.7M741 627h1.7M765 627h1.7M769 627h1.7M789 627h1.7M794 627h1.7M804 627h1.7M810 627h1.7M811 627h1.7M814 627h1.7M719 628h1.7M771 628h1.7M772 628h1.7M773 628h1.7M784 628h1.7M789 628h1.7M793 628h1.7M803 628h1.7M809 628h1.7M729 629h1.7M738 629h1.7M740 629h1.7M759 629h1.7M760 629h1.7M765 629h1.7M774 629h1.7M778 629h1.7M780 629h1.7M791 629h1.7M796 629h1.7M799 629h1.7M809 629h1.7M816 629h1.7M844 629h1.7M757 630h1.7M758 630h1.7M762 630h1.7M767 630h1.7M781 630h1.7M782 630h1.7M795 630h1.7M797 630h1.7M815 630h1.7M858 630h1.7M716 631h1.7M761 631h1.7M767 631h1.7M769 631h1.7M784 631h1.7M790 631h1.7M791 631h1.7M798 631h1.7M800 631h1.7M806 631h1.7M807 631h1.7M740 632h1.7M750 632h1.7M760 632h1.7M764 632h1.7M778 632h1.7M779 632h1.7M783 632h1.7M787 632h1.7M793 632h1.7M805 632h1.7M815 632h1.7M816 632h1.7M840 632h1.7M732 633h1.7M733 633h1.7M750 633h1.7M758 633h1.7M760 633h1.7M762 633h1.7M763 633h1.7M768 633h1.7M778 633h1.7M786 633h1.7M787 633h1.7M789 633h1.7M790 633h1.7M792 633h1.7M795 633h1.7M802 633h1.7M807 633h1.7M708 634h1.7M766 634h1.7M768 634h1.7M773 634h1.7M775 634h1.7M785 634h1.7M793 634h1.7M802 634h1.7M803 634h1.7M805 634h1.7M810 634h1.7M697 635h1.7M754 635h1.7M757 635h1.7M761 635h1.7M762 635h1.7M764 635h1.7M767 635h1.7M768 635h1.7M776 635h1.7M786 635h1.7M789 635h1.7M806 635h1.7M816 635h1.7M827 635h1.7M747 636h1.7M764 636h1.7M767 636h1.7M775 636h1.7M779 636h1.7M782 636h1.7M783 636h1.7M792 636h1.7M802 636h1.7M803 636h1.7M805 636h1.7M808 636h1.7M826 636h1.7M735 637h1.7M756 637h1.7M757 637h1.7M765 637h1.7M771 637h1.7M781 637h1.7M786 637h1.7M787 637h1.7M789 637h1.7M794 637h1.7M798 637h1.7M806 637h1.7M808 637h1.7M832 637h1.7M733 638h1.7M743 638h1.7M744 638h1.7M761 638h1.7M765 638h1.7M767 638h1.7M771 638h1.7M773 638h1.7M776 638h1.7M777 638h1.7M787 638h1.7M795 638h1.7M815 638h1.7M709 639h1.7M724 639h1.7M740 639h1.7M752 639h1.7M753 639h1.7M755 639h1.7M760 639h1.7M761 639h1.7M763 639h1.7M766 639h1.7M778 639h1.7M780 639h1.7M781 639h1.7M802 639h1.7M803 639h1.7M810 639h1.7M811 639h1.7M714 640h1.7M726 640h1.7M752 640h1.7M754 640h1.7M757 640h1.7M766 640h1.7M775 640h1.7M780 640h1.7M784 640h1.7M787 640h1.7M748 641h1.7M749 641h1.7M767 641h1.7M778 641h1.7M779 641h1.7M785 641h1.7M804 641h1.7M736 642h1.7M755 642h1.7M759 642h1.7M764 642h1.7M765 642h1.7M766 642h1.7M769 642h1.7M772 642h1.7M776 642h1.7M778 642h1.7M785 642h1.7M793 642h1.7M801 642h1.7M823 642h1.7M828 642h1.7M718 643h1.7M731 643h1.7M735 643h1.7M753 643h1.7M755 643h1.7M757 643h1.7M761 643h1.7M763 643h1.7M764 643h1.7M776 643h1.7M803 643h1.7M698 644h1.7M715 644h1.7M720 644h1.7M724 644h1.7M733 644h1.7M745 644h1.7M746 644h1.7M748 644h1.7M751 644h1.7M756 644h1.7M761 644h1.7M771 644h1.7M776 644h1.7M777 644h1.7M779 644h1.7M808 644h1.7M731 645h1.7M733 645h1.7M758 645h1.7M763 645h1.7M766 645h1.7M767 645h1.7M773 645h1.7M775 645h1.7M778 645h1.7M780 645h1.7M821 645h1.7M850 645h1.7M709 646h1.7M716 646h1.7M742 646h1.7M765 646h1.7M767 646h1.7M768 646h1.7M779 646h1.7M786 646h1.7M788 646h1.7M726 647h1.7M731 647h1.7M737 647h1.7M744 647h1.7M764 647h1.7M765 647h1.7M772 647h1.7M779 647h1.7M788 647h1.7M699 648h1.7M729 648h1.7M733 648h1.7M737 648h1.7M742 648h1.7M748 648h1.7M754 648h1.7M756 648h1.7M758 648h1.7M759 648h1.7M763 648h1.7M765 648h1.7M767 648h1.7M771 648h1.7M779 648h1.7M781 648h1.7M794 648h1.7M824 648h1.7M746 649h1.7M754 649h1.7M762 649h1.7M771 649h1.7M777 649h1.7M778 649h1.7M781 649h1.7M788 649h1.7M713 650h1.7M716 650h1.7M746 650h1.7M751 650h1.7M760 650h1.7M772 650h1.7M778 650h1.7M784 650h1.7M655 651h1.7M728 651h1.7M732 651h1.7M737 651h1.7M746 651h1.7M748 651h1.7M767 651h1.7M770 651h1.7M773 651h1.7M780 651h1.7M784 651h1.7M794 651h1.7M684 652h1.7M716 652h1.7M738 652h1.7M751 652h1.7M758 652h1.7M759 652h1.7M765 652h1.7M766 652h1.7M770 652h1.7M781 652h1.7M784 652h1.7M788 652h1.7M796 652h1.7M825 652h1.7M658 653h1.7M706 653h1.7M721 653h1.7M723 653h1.7M730 653h1.7M731 653h1.7M737 653h1.7M740 653h1.7M763 653h1.7M772 653h1.7M774 653h1.7M776 653h1.7M782 653h1.7M785 653h1.7M685 654h1.7M698 654h1.7M709 654h1.7M736 654h1.7M747 654h1.7M751 654h1.7M752 654h1.7M772 654h1.7M775 654h1.7M779 654h1.7M780 654h1.7M813 654h1.7M818 654h1.7M744 655h1.7M755 655h1.7M764 655h1.7M782 655h1.7M795 655h1.7M671 656h1.7M679 656h1.7M736 656h1.7M738 656h1.7M744 656h1.7M745 656h1.7M757 656h1.7M759 656h1.7M762 656h1.7M775 656h1.7M780 656h1.7M786 656h1.7M787 656h1.7M682 657h1.7M711 657h1.7M713 657h1.7M728 657h1.7M738 657h1.7M742 657h1.7M745 657h1.7M749 657h1.7M756 657h1.7M757 657h1.7M758 657h1.7M766 657h1.7M772 657h1.7M782 657h1.7M793 657h1.7M704 658h1.7M715 658h1.7M724 658h1.7M730 658h1.7M734 658h1.7M755 658h1.7M758 658h1.7M762 658h1.7M763 658h1.7M776 658h1.7M729 659h1.7M740 659h1.7M747 659h1.7M748 659h1.7M753 659h1.7M760 659h1.7M764 659h1.7M770 659h1.7M771 659h1.7M785 659h1.7M701 660h1.7M716 660h1.7M722 660h1.7M736 660h1.7M739 660h1.7M745 660h1.7M746 660h1.7M747 660h1.7M749 660h1.7M757 660h1.7M759 660h1.7M771 660h1.7M808 660h1.7M671 661h1.7M677 661h1.7M703 661h1.7M711 661h1.7M723 661h1.7M747 661h1.7M753 661h1.7M759 661h1.7M769 661h1.7M827 661h1.7M704 662h1.7M729 662h1.7M736 662h1.7M737 662h1.7M742 662h1.7M755 662h1.7M796 662h1.7M706 663h1.7M745 663h1.7M747 663h1.7M754 663h1.7M761 663h1.7M770 663h1.7M780 663h1.7M747 664h1.7M748 664h1.7M758 664h1.7M761 664h1.7M768 664h1.7M775 664h1.7M776 664h1.7M790 664h1.7M800 664h1.7M814 664h1.7M698 665h1.7M701 665h1.7M727 665h1.7M730 665h1.7M739 665h1.7M747 665h1.7M748 665h1.7M766 665h1.7M693 666h1.7M714 666h1.7M716 666h1.7M720 666h1.7M722 666h1.7M734 666h1.7M753 666h1.7M762 666h1.7M766 666h1.7M772 666h1.7M797 666h1.7M718 667h1.7M724 667h1.7M759 667h1.7M779 667h1.7M664 668h1.7M713 668h1.7M719 668h1.7M724 668h1.7M725 668h1.7M732 668h1.7M739 668h1.7M772 668h1.7M717 669h1.7M724 669h1.7M727 669h1.7M734 669h1.7M737 669h1.7M747 669h1.7M750 669h1.7M780 669h1.7M723 670h1.7M728 670h1.7M733 670h1.7M741 670h1.7M744 670h1.7M745 670h1.7M785 670h1.7M787 670h1.7M708 671h1.7M709 671h1.7M710 671h1.7M721 671h1.7M727 671h1.7M744 671h1.7M755 671h1.7M776 671h1.7M793 671h1.7M677 672h1.7M695 672h1.7M737 672h1.7M744 672h1.7M745 672h1.7M758 672h1.7M766 672h1.7M771 672h1.7M814 672h1.7M734 673h1.7M742 673h1.7M748 673h1.7M756 673h1.7M760 673h1.7M763 673h1.7M769 673h1.7M785 673h1.7M787 673h1.7M797 673h1.7M677 674h1.7M729 674h1.7M742 674h1.7M749 674h1.7M753 674h1.7M754 674h1.7M760 674h1.7M779 674h1.7M782 674h1.7M787 674h1.7M795 674h1.7M602 675h1.7M727 675h1.7M734 675h1.7M736 675h1.7M743 675h1.7M794 675h1.7M726 676h1.7M737 676h1.7M752 676h1.7M756 676h1.7M771 676h1.7M772 676h1.7M807 676h1.7M744 677h1.7M730 678h1.7M745 678h1.7M755 678h1.7M803 678h1.7M691 679h1.7M711 679h1.7M721 679h1.7M733 679h1.7M779 679h1.7M807 679h1.7M822 679h1.7M706 680h1.7M726 680h1.7M735 680h1.7M736 680h1.7M751 680h1.7M763 680h1.7M689 681h1.7M739 681h1.7M808 681h1.7M829 681h1.7M721 682h1.7M739 682h1.7M741 682h1.7M785 682h1.7M786 682h1.7M799 682h1.7M818 682h1.7M688 683h1.7M692 683h1.7M710 683h1.7M727 683h1.7M730 683h1.7M735 683h1.7M773 683h1.7M711 684h1.7M723 684h1.7M730 684h1.7M738 684h1.7M739 684h1.7M744 684h1.7M754 684h1.7M757 684h1.7M816 684h1.7M702 685h1.7M714 685h1.7M725 685h1.7M732 685h1.7M735 685h1.7M752 685h1.7M740 686h1.7M649 687h1.7M708 687h1.7M728 687h1.7M740 687h1.7M741 687h1.7M745 687h1.7M750 687h1.7M801 687h1.7M724 688h1.7M755 688h1.7M758 688h1.7M779 688h1.7M683 689h1.7M709 689h1.7M730 689h1.7M778 689h1.7M781 689h1.7M657 690h1.7M720 690h1.7M726 690h1.7M736 690h1.7M738 690h1.7M762 690h1.7M765 690h1.7M674 691h1.7M706 691h1.7M714 691h1.7M722 691h1.7M727 691h1.7M728 691h1.7M729 691h1.7M733 691h1.7M736 691h1.7M753 691h1.7M781 691h1.7M782 691h1.7M803 691h1.7M813 691h1.7M667 692h1.7M707 692h1.7M714 692h1.7M730 692h1.7M744 692h1.7M780 692h1.7M784 692h1.7M810 692h1.7M724 693h1.7M729 693h1.7M734 693h1.7M761 693h1.7M784 693h1.7M797 693h1.7M653 694h1.7M714 694h1.7M725 694h1.7M726 694h1.7M737 694h1.7M743 694h1.7M773 694h1.7M694 695h1.7M703 695h1.7M707 695h1.7M711 695h1.7M716 695h1.7M731 695h1.7M740 695h1.7M759 695h1.7M782 695h1.7M722 696h1.7M727 696h1.7M728 696h1.7M781 696h1.7M794 696h1.7M704 697h1.7M707 697h1.7M729 697h1.7M783 697h1.7M801 697h1.7M717 698h1.7M719 698h1.7M736 698h1.7M738 698h1.7M767 698h1.7M768 698h1.7M710 699h1.7M724 699h1.7M731 699h1.7M732 699h1.7M738 699h1.7M806 699h1.7M816 699h1.7M688 700h1.7M711 700h1.7M723 700h1.7M726 700h1.7M728 700h1.7M735 700h1.7M805 700h1.7M705 701h1.7M715 701h1.7M731 701h1.7M732 701h1.7M744 701h1.7M796 701h1.7M698 702h1.7M713 702h1.7M715 702h1.7M721 702h1.7M728 702h1.7M747 702h1.7M793 702h1.7M713 703h1.7M717 703h1.7M718 703h1.7M720 703h1.7M739 703h1.7M794 703h1.7M701 704h1.7M712 704h1.7M749 704h1.7M753 704h1.7M699 705h1.7M711 705h1.7M734 705h1.7M742 705h1.7M786 705h1.7M704 706h1.7M711 706h1.7M712 706h1.7M721 706h1.7M729 706h1.7M749 706h1.7M772 706h1.7M795 706h1.7M805 706h1.7M702 707h1.7M718 707h1.7M721 707h1.7M739 707h1.7M743 707h1.7M774 707h1.7M780 707h1.7M798 707h1.7M678 708h1.7M687 708h1.7M711 708h1.7M720 708h1.7M727 708h1.7M730 708h1.7M735 708h1.7M736 708h1.7M741 708h1.7M763 708h1.7M787 708h1.7M691 709h1.7M693 709h1.7M697 709h1.7M705 709h1.7M714 709h1.7M718 709h1.7M721 709h1.7M729 709h1.7M737 709h1.7M739 709h1.7M744 709h1.7M782 709h1.7M783 709h1.7M789 709h1.7M688 710h1.7M690 710h1.7M691 710h1.7M702 710h1.7M705 710h1.7M712 710h1.7M725 710h1.7M741 710h1.7M746 710h1.7M755 710h1.7M759 710h1.7M777 710h1.7M697 711h1.7M703 711h1.7M704 711h1.7M705 711h1.7M715 711h1.7M718 711h1.7M736 711h1.7M766 711h1.7M768 711h1.7M783 711h1.7M796 711h1.7M696 712h1.7M718 712h1.7M720 712h1.7M722 712h1.7M753 712h1.7M792 712h1.7M800 712h1.7M812 712h1.7M701 713h1.7M707 713h1.7M710 713h1.7M712 713h1.7M719 713h1.7M724 713h1.7M732 713h1.7M739 713h1.7M748 713h1.7M685 714h1.7M696 714h1.7M708 714h1.7M710 714h1.7M713 714h1.7M717 714h1.7M719 714h1.7M722 714h1.7M724 714h1.7M726 714h1.7M730 714h1.7M748 714h1.7M757 714h1.7M793 714h1.7M799 714h1.7M812 714h1.7M686 715h1.7M700 715h1.7M702 715h1.7M711 715h1.7M712 715h1.7M714 715h1.7M722 715h1.7M727 715h1.7M736 715h1.7M778 715h1.7M671 716h1.7M693 716h1.7M696 716h1.7M700 716h1.7M703 716h1.7M707 716h1.7M710 716h1.7M711 716h1.7M713 716h1.7M721 716h1.7M734 716h1.7M743 716h1.7M749 716h1.7M764 716h1.7M767 716h1.7M774 716h1.7M778 716h1.7M692 717h1.7M696 717h1.7M702 717h1.7M704 717h1.7M705 717h1.7M706 717h1.7M710 717h1.7M712 717h1.7M713 717h1.7M716 717h1.7M717 717h1.7M719 717h1.7M720 717h1.7M733 717h1.7M736 717h1.7M741 717h1.7M760 717h1.7M778 717h1.7M790 717h1.7M691 718h1.7M694 718h1.7M700 718h1.7M704 718h1.7M713 718h1.7M718 718h1.7M720 718h1.7M722 718h1.7M723 718h1.7M726 718h1.7M727 718h1.7M737 718h1.7M769 718h1.7M795 718h1.7M675 719h1.7M676 719h1.7M687 719h1.7M693 719h1.7M694 719h1.7M695 719h1.7M698 719h1.7M699 719h1.7M707 719h1.7M708 719h1.7M712 719h1.7M713 719h1.7M714 719h1.7M715 719h1.7M722 719h1.7M724 719h1.7M730 719h1.7M733 719h1.7M735 719h1.7M740 719h1.7M755 719h1.7M692 720h1.7M693 720h1.7M695 720h1.7M696 720h1.7M705 720h1.7M707 720h1.7M708 720h1.7M709 720h1.7M712 720h1.7M714 720h1.7M716 720h1.7M723 720h1.7M727 720h1.7M730 720h1.7M734 720h1.7M735 720h1.7M745 720h1.7M765 720h1.7M776 720h1.7M688 721h1.7M692 721h1.7M694 721h1.7M699 721h1.7M702 721h1.7M703 721h1.7M707 721h1.7M708 721h1.7M710 721h1.7M711 721h1.7M714 721h1.7M715 721h1.7M718 721h1.7M722 721h1.7M727 721h1.7M731 721h1.7M734 721h1.7M745 721h1.7M750 721h1.7M640 722h1.7M673 722h1.7M677 722h1.7M689 722h1.7M697 722h1.7M702 722h1.7M704 722h1.7M706 722h1.7M707 722h1.7M710 722h1.7M711 722h1.7M713 722h1.7M715 722h1.7M716 722h1.7M718 722h1.7M727 722h1.7M735 722h1.7M756 722h1.7M669 723h1.7M682 723h1.7M685 723h1.7M686 723h1.7M690 723h1.7M691 723h1.7M694 723h1.7M696 723h1.7M697 723h1.7M705 723h1.7M706 723h1.7M708 723h1.7M709 723h1.7M710 723h1.7M711 723h1.7M712 723h1.7M713 723h1.7M716 723h1.7M717 723h1.7M729 723h1.7M730 723h1.7M732 723h1.7M751 723h1.7M666 724h1.7M670 724h1.7M687 724h1.7M688 724h1.7M693 724h1.7M694 724h1.7M696 724h1.7M697 724h1.7M699 724h1.7M701 724h1.7M702 724h1.7M704 724h1.7M705 724h1.7M710 724h1.7M711 724h1.7M714 724h1.7M716 724h1.7M718 724h1.7M721 724h1.7M722 724h1.7M724 724h1.7M728 724h1.7M730 724h1.7M738 724h1.7M788 724h1.7M676 725h1.7M688 725h1.7M690 725h1.7M692 725h1.7M696 725h1.7M697 725h1.7M700 725h1.7M703 725h1.7M708 725h1.7M709 725h1.7M710 725h1.7M714 725h1.7M718 725h1.7M720 725h1.7M722 725h1.7M730 725h1.7M731 725h1.7M736 725h1.7M743 725h1.7M754 725h1.7M758 725h1.7M769 725h1.7M669 726h1.7M678 726h1.7M680 726h1.7M686 726h1.7M689 726h1.7M692 726h1.7M694 726h1.7M695 726h1.7M696 726h1.7M697 726h1.7M698 726h1.7M699 726h1.7M700 726h1.7M701 726h1.7M704 726h1.7M705 726h1.7M707 726h1.7M708 726h1.7M710 726h1.7M712 726h1.7M713 726h1.7M715 726h1.7M716 726h1.7M719 726h1.7M723 726h1.7M724 726h1.7M727 726h1.7M731 726h1.7M733 726h1.7M748 726h1.7M750 726h1.7M777 726h1.7M672 727h1.7M679 727h1.7M680 727h1.7M684 727h1.7M686 727h1.7M687 727h1.7M689 727h1.7M690 727h1.7M691 727h1.7M692 727h1.7M693 727h1.7M694 727h1.7M695 727h1.7M696 727h1.7M698 727h1.7M699 727h1.7M701 727h1.7M703 727h1.7M704 727h1.7M705 727h1.7M708 727h1.7M710 727h1.7M712 727h1.7M714 727h1.7M715 727h1.7M718 727h1.7M719 727h1.7M722 727h1.7M727 727h1.7M736 727h1.7M741 727h1.7M672 728h1.7M685 728h1.7M687 728h1.7M688 728h1.7M690 728h1.7M691 728h1.7M694 728h1.7M695 728h1.7M696 728h1.7M697 728h1.7M698 728h1.7M699 728h1.7M700 728h1.7M703 728h1.7M704 728h1.7M706 728h1.7M708 728h1.7M709 728h1.7M710 728h1.7M712 728h1.7M714 728h1.7M715 728h1.7M718 728h1.7M719 728h1.7M720 728h1.7M725 728h1.7M727 728h1.7M728 728h1.7M731 728h1.7M736 728h1.7M737 728h1.7M742 728h1.7M669 729h1.7M677 729h1.7M683 729h1.7M684 729h1.7M685 729h1.7M687 729h1.7M688 729h1.7M690 729h1.7M691 729h1.7M692 729h1.7M693 729h1.7M694 729h1.7M700 729h1.7M701 729h1.7M703 729h1.7M704 729h1.7M705 729h1.7M706 729h1.7M709 729h1.7M719 729h1.7M720 729h1.7M724 729h1.7M729 729h1.7M736 729h1.7M741 729h1.7M665 730h1.7M669 730h1.7M680 730h1.7M683 730h1.7M685 730h1.7M688 730h1.7M689 730h1.7M690 730h1.7M694 730h1.7M695 730h1.7M696 730h1.7M698 730h1.7M699 730h1.7M700 730h1.7M707 730h1.7M708 730h1.7M709 730h1.7M712 730h1.7M715 730h1.7M720 730h1.7M724 730h1.7M727 730h1.7M729 730h1.7M734 730h1.7M737 730h1.7M744 730h1.7M756 730h1.7M660 731h1.7M666 731h1.7M678 731h1.7M679 731h1.7M681 731h1.7M684 731h1.7M685 731h1.7M686 731h1.7M687 731h1.7M688 731h1.7M690 731h1.7M691 731h1.7M692 731h1.7M693 731h1.7M694 731h1.7M695 731h1.7M697 731h1.7M698 731h1.7M700 731h1.7M701 731h1.7M703 731h1.7M704 731h1.7M705 731h1.7M707 731h1.7M709 731h1.7M713 731h1.7M714 731h1.7M716 731h1.7M717 731h1.7M722 731h1.7M723 731h1.7M724 731h1.7M726 731h1.7M740 731h1.7M741 731h1.7M665 732h1.7M668 732h1.7M670 732h1.7M676 732h1.7M678 732h1.7M680 732h1.7M681 732h1.7M682 732h1.7M683 732h1.7M685 732h1.7M686 732h1.7M687 732h1.7M690 732h1.7M691 732h1.7M693 732h1.7M694 732h1.7M695 732h1.7M696 732h1.7M698 732h1.7M700 732h1.7M701 732h1.7M703 732h1.7M704 732h1.7M706 732h1.7M707 732h1.7M709 732h1.7M711 732h1.7M714 732h1.7M726 732h1.7M728 732h1.7M729 732h1.7M733 732h1.7M735 732h1.7M740 732h1.7M749 732h1.7M787 732h1.7M624 733h1.7M670 733h1.7M672 733h1.7M674 733h1.7M676 733h1.7M677 733h1.7M678 733h1.7M680 733h1.7M681 733h1.7M682 733h1.7M683 733h1.7M684 733h1.7M685 733h1.7M686 733h1.7M688 733h1.7M690 733h1.7M693 733h1.7M694 733h1.7M695 733h1.7M701 733h1.7M702 733h1.7M703 733h1.7M704 733h1.7M705 733h1.7M708 733h1.7M709 733h1.7M710 733h1.7M713 733h1.7M715 733h1.7M721 733h1.7M724 733h1.7M734 733h1.7M644 734h1.7M652 734h1.7M656 734h1.7M662 734h1.7M672 734h1.7M674 734h1.7M675 734h1.7M676 734h1.7M677 734h1.7M681 734h1.7M683 734h1.7M684 734h1.7M685 734h1.7M686 734h1.7M687 734h1.7M689 734h1.7M690 734h1.7M691 734h1.7M693 734h1.7M694 734h1.7M695 734h1.7M697 734h1.7M699 734h1.7M700 734h1.7M701 734h1.7M702 734h1.7M703 734h1.7M705 734h1.7M706 734h1.7M707 734h1.7M711 734h1.7M713 734h1.7M721 734h1.7M723 734h1.7M726 734h1.7M779 734h1.7M644 735h1.7M659 735h1.7M660 735h1.7M663 735h1.7M665 735h1.7M666 735h1.7M669 735h1.7M670 735h1.7M673 735h1.7M675 735h1.7M676 735h1.7M677 735h1.7M678 735h1.7M679 735h1.7M680 735h1.7M682 735h1.7M683 735h1.7M684 735h1.7M685 735h1.7M686 735h1.7M687 735h1.7M690 735h1.7M692 735h1.7M693 735h1.7M696 735h1.7M699 735h1.7M701 735h1.7M705 735h1.7M706 735h1.7M708 735h1.7M710 735h1.7M711 735h1.7M712 735h1.7M713 735h1.7M714 735h1.7M740 735h1.7M745 735h1.7M746 735h1.7M651 736h1.7M658 736h1.7M661 736h1.7M664 736h1.7M671 736h1.7M672 736h1.7M674 736h1.7M675 736h1.7M676 736h1.7M677 736h1.7M678 736h1.7M679 736h1.7M680 736h1.7M681 736h1.7M682 736h1.7M683 736h1.7M685 736h1.7M686 736h1.7M687 736h1.7M688 736h1.7M689 736h1.7M692 736h1.7M695 736h1.7M700 736h1.7M701 736h1.7M703 736h1.7M704 736h1.7M705 736h1.7M714 736h1.7M718 736h1.7M722 736h1.7M727 736h1.7M730 736h1.7M752 736h1.7M762 736h1.7M636 737h1.7M659 737h1.7M665 737h1.7M666 737h1.7M670 737h1.7M671 737h1.7M672 737h1.7M673 737h1.7M674 737h1.7M675 737h1.7M676 737h1.7M678 737h1.7M679 737h1.7M680 737h1.7M682 737h1.7M683 737h1.7M684 737h1.7M686 737h1.7M687 737h1.7M689 737h1.7M690 737h1.7M692 737h1.7M694 737h1.7M695 737h1.7M696 737h1.7M697 737h1.7M698 737h1.7M706 737h1.7M707 737h1.7M711 737h1.7M713 737h1.7M715 737h1.7M718 737h1.7M722 737h1.7M726 737h1.7M740 737h1.7M660 738h1.7M662 738h1.7M663 738h1.7M664 738h1.7M665 738h1.7M667 738h1.7M672 738h1.7M674 738h1.7M675 738h1.7M676 738h1.7M677 738h1.7M678 738h1.7M680 738h1.7M681 738h1.7M682 738h1.7M683 738h1.7M684 738h1.7M685 738h1.7M687 738h1.7M688 738h1.7M690 738h1.7M691 738h1.7M696 738h1.7M701 738h1.7M702 738h1.7M706 738h1.7M710 738h1.7M712 738h1.7M716 738h1.7M719 738h1.7M721 738h1.7M722 738h1.7M739 738h1.7M741 738h1.7M649 739h1.7M653 739h1.7M656 739h1.7M659 739h1.7M662 739h1.7M663 739h1.7M664 739h1.7M665 739h1.7M666 739h1.7M667 739h1.7M668 739h1.7M669 739h1.7M671 739h1.7M672 739h1.7M673 739h1.7M674 739h1.7M675 739h1.7M677 739h1.7M678 739h1.7M679 739h1.7M680 739h1.7M681 739h1.7M682 739h1.7M684 739h1.7M685 739h1.7M686 739h1.7M688 739h1.7M692 739h1.7M693 739h1.7M694 739h1.7M709 739h1.7M716 739h1.7M720 739h1.7M721 739h1.7M723 739h1.7M727 739h1.7M729 739h1.7M739 739h1.7M741 739h1.7M646 740h1.7M648 740h1.7M651 740h1.7M652 740h1.7M653 740h1.7M654 740h1.7M655 740h1.7M659 740h1.7M660 740h1.7M661 740h1.7M662 740h1.7M663 740h1.7M664 740h1.7M665 740h1.7M666 740h1.7M668 740h1.7M669 740h1.7M672 740h1.7M673 740h1.7M674 740h1.7M675 740h1.7M676 740h1.7M678 740h1.7M679 740h1.7M681 740h1.7M683 740h1.7M684 740h1.7M685 740h1.7M686 740h1.7M688 740h1.7M689 740h1.7M692 740h1.7M694 740h1.7M696 740h1.7M698 740h1.7M699 740h1.7M700 740h1.7M703 740h1.7M705 740h1.7M709 740h1.7M711 740h1.7M721 740h1.7M724 740h1.7M725 740h1.7M727 740h1.7M741 740h1.7M751 740h1.7M652 741h1.7M655 741h1.7M656 741h1.7M657 741h1.7M659 741h1.7M661 741h1.7M662 741h1.7M663 741h1.7M665 741h1.7M666 741h1.7M667 741h1.7M669 741h1.7M671 741h1.7M672 741h1.7M673 741h1.7M674 741h1.7M675 741h1.7M677 741h1.7M678 741h1.7M679 741h1.7M680 741h1.7M681 741h1.7M682 741h1.7M683 741h1.7M684 741h1.7M685 741h1.7M686 741h1.7M694 741h1.7M695 741h1.7M702 741h1.7M706 741h1.7M711 741h1.7M714 741h1.7M715 741h1.7M716 741h1.7M722 741h1.7M729 741h1.7M652 742h1.7M658 742h1.7M659 742h1.7M660 742h1.7M661 742h1.7M663 742h1.7M664 742h1.7M665 742h1.7M666 742h1.7M667 742h1.7M668 742h1.7M669 742h1.7M670 742h1.7M671 742h1.7M672 742h1.7M675 742h1.7M677 742h1.7M678 742h1.7M679 742h1.7M683 742h1.7M686 742h1.7M687 742h1.7M689 742h1.7M690 742h1.7M694 742h1.7M696 742h1.7M697 742h1.7M699 742h1.7M700 742h1.7M707 742h1.7M708 742h1.7M709 742h1.7M711 742h1.7M714 742h1.7M716 742h1.7M718 742h1.7M719 742h1.7M726 742h1.7M728 742h1.7M730 742h1.7M734 742h1.7M643 743h1.7M647 743h1.7M648 743h1.7M649 743h1.7M652 743h1.7M654 743h1.7M655 743h1.7M659 743h1.7M660 743h1.7M661 743h1.7M662 743h1.7M663 743h1.7M664 743h1.7M665 743h1.7M666 743h1.7M667 743h1.7M668 743h1.7M669 743h1.7M670 743h1.7M671 743h1.7M672 743h1.7M673 743h1.7M674 743h1.7M675 743h1.7M676 743h1.7M677 743h1.7M678 743h1.7M679 743h1.7M680 743h1.7M681 743h1.7M682 743h1.7M683 743h1.7M684 743h1.7M687 743h1.7M689 743h1.7M690 743h1.7M691 743h1.7M693 743h1.7M694 743h1.7M695 743h1.7M698 743h1.7M699 743h1.7M700 743h1.7M703 743h1.7M707 743h1.7M708 743h1.7M714 743h1.7M718 743h1.7M721 743h1.7M730 743h1.7M732 743h1.7M740 743h1.7M637 744h1.7M642 744h1.7M646 744h1.7M650 744h1.7M653 744h1.7M654 744h1.7M655 744h1.7M656 744h1.7M657 744h1.7M658 744h1.7M659 744h1.7M660 744h1.7M661 744h1.7M663 744h1.7M664 744h1.7M665 744h1.7M666 744h1.7M668 744h1.7M669 744h1.7M670 744h1.7M671 744h1.7M672 744h1.7M673 744h1.7M674 744h1.7M675 744h1.7M676 744h1.7M677 744h1.7M678 744h1.7M680 744h1.7M681 744h1.7M686 744h1.7M689 744h1.7M692 744h1.7M693 744h1.7M694 744h1.7M699 744h1.7M701 744h1.7M703 744h1.7M708 744h1.7M714 744h1.7M720 744h1.7M732 744h1.7M754 744h1.7M639 745h1.7M645 745h1.7M650 745h1.7M651 745h1.7M652 745h1.7M653 745h1.7M654 745h1.7M655 745h1.7M657 745h1.7M658 745h1.7M659 745h1.7M660 745h1.7M661 745h1.7M662 745h1.7M663 745h1.7M664 745h1.7M665 745h1.7M666 745h1.7M667 745h1.7M668 745h1.7M669 745h1.7M672 745h1.7M674 745h1.7M675 745h1.7M678 745h1.7M679 745h1.7M680 745h1.7M681 745h1.7M682 745h1.7M683 745h1.7M684 745h1.7M685 745h1.7M686 745h1.7M687 745h1.7M688 745h1.7M689 745h1.7M698 745h1.7M702 745h1.7M703 745h1.7M708 745h1.7M751 745h1.7M635 746h1.7M640 746h1.7M641 746h1.7M644 746h1.7M645 746h1.7M646 746h1.7M647 746h1.7M649 746h1.7M650 746h1.7M651 746h1.7M652 746h1.7M653 746h1.7M654 746h1.7M655 746h1.7M657 746h1.7M658 746h1.7M659 746h1.7M660 746h1.7M661 746h1.7M662 746h1.7M663 746h1.7M664 746h1.7M665 746h1.7M666 746h1.7M667 746h1.7M668 746h1.7M669 746h1.7M670 746h1.7M671 746h1.7M672 746h1.7M673 746h1.7M674 746h1.7M679 746h1.7M680 746h1.7M682 746h1.7M683 746h1.7M684 746h1.7M686 746h1.7M688 746h1.7M689 746h1.7M690 746h1.7M691 746h1.7M693 746h1.7M697 746h1.7M701 746h1.7M702 746h1.7M703 746h1.7M706 746h1.7M707 746h1.7M722 746h1.7M637 747h1.7M639 747h1.7M640 747h1.7M641 747h1.7M642 747h1.7M644 747h1.7M645 747h1.7M647 747h1.7M648 747h1.7M649 747h1.7M650 747h1.7M651 747h1.7M652 747h1.7M653 747h1.7M654 747h1.7M655 747h1.7M656 747h1.7M657 747h1.7M659 747h1.7M660 747h1.7M661 747h1.7M662 747h1.7M663 747h1.7M666 747h1.7M667 747h1.7M668 747h1.7M669 747h1.7M671 747h1.7M672 747h1.7M673 747h1.7M678 747h1.7M679 747h1.7M681 747h1.7M682 747h1.7M683 747h1.7M684 747h1.7M692 747h1.7M693 747h1.7M697 747h1.7M701 747h1.7M703 747h1.7M704 747h1.7M707 747h1.7M710 747h1.7M711 747h1.7M720 747h1.7M749 747h1.7M641 748h1.7M642 748h1.7M645 748h1.7M646 748h1.7M647 748h1.7M648 748h1.7M649 748h1.7M650 748h1.7M652 748h1.7M653 748h1.7M654 748h1.7M655 748h1.7M656 748h1.7M657 748h1.7M658 748h1.7M659 748h1.7M660 748h1.7M661 748h1.7M662 748h1.7M663 748h1.7M664 748h1.7M665 748h1.7M666 748h1.7M667 748h1.7M668 748h1.7M669 748h1.7M670 748h1.7M671 748h1.7M672 748h1.7M673 748h1.7M675 748h1.7M677 748h1.7M679 748h1.7M680 748h1.7M681 748h1.7M686 748h1.7M687 748h1.7M696 748h1.7M698 748h1.7M701 748h1.7M702 748h1.7M703 748h1.7M708 748h1.7M710 748h1.7M724 748h1.7M729 748h1.7M731 748h1.7M737 748h1.7M627 749h1.7M630 749h1.7M637 749h1.7M638 749h1.7M640 749h1.7M641 749h1.7M644 749h1.7M645 749h1.7M646 749h1.7M647 749h1.7M648 749h1.7M649 749h1.7M650 749h1.7M651 749h1.7M652 749h1.7M653 749h1.7M654 749h1.7M655 749h1.7M656 749h1.7M657 749h1.7M658 749h1.7M659 749h1.7M662 749h1.7M663 749h1.7M665 749h1.7M666 749h1.7M668 749h1.7M669 749h1.7M670 749h1.7M671 749h1.7M674 749h1.7M679 749h1.7M682 749h1.7M684 749h1.7M686 749h1.7M688 749h1.7M689 749h1.7M690 749h1.7M692 749h1.7M695 749h1.7M710 749h1.7M718 749h1.7M732 749h1.7M733 749h1.7M734 749h1.7M631 750h1.7M632 750h1.7M636 750h1.7M638 750h1.7M640 750h1.7M641 750h1.7M642 750h1.7M643 750h1.7M644 750h1.7M645 750h1.7M647 750h1.7M648 750h1.7M649 750h1.7M651 750h1.7M652 750h1.7M653 750h1.7M654 750h1.7M655 750h1.7M656 750h1.7M657 750h1.7M658 750h1.7M660 750h1.7M661 750h1.7M662 750h1.7M663 750h1.7M664 750h1.7M665 750h1.7M666 750h1.7M667 750h1.7M668 750h1.7M669 750h1.7M670 750h1.7M681 750h1.7M682 750h1.7M683 750h1.7M689 750h1.7M690 750h1.7M692 750h1.7M694 750h1.7M695 750h1.7M699 750h1.7M702 750h1.7M705 750h1.7M625 751h1.7M633 751h1.7M635 751h1.7M638 751h1.7M639 751h1.7M640 751h1.7M641 751h1.7M642 751h1.7M643 751h1.7M644 751h1.7M645 751h1.7M646 751h1.7M647 751h1.7M648 751h1.7M649 751h1.7M650 751h1.7M651 751h1.7M652 751h1.7M653 751h1.7M654 751h1.7M655 751h1.7M656 751h1.7M657 751h1.7M658 751h1.7M659 751h1.7M660 751h1.7M661 751h1.7M662 751h1.7M663 751h1.7M664 751h1.7M665 751h1.7M666 751h1.7M667 751h1.7M668 751h1.7M669 751h1.7M670 751h1.7M672 751h1.7M674 751h1.7M675 751h1.7M676 751h1.7M677 751h1.7M681 751h1.7M683 751h1.7M684 751h1.7M685 751h1.7M689 751h1.7M691 751h1.7M696 751h1.7M700 751h1.7M701 751h1.7M707 751h1.7M758 751h1.7M631 752h1.7M632 752h1.7M633 752h1.7M635 752h1.7M636 752h1.7M637 752h1.7M638 752h1.7M639 752h1.7M641 752h1.7M642 752h1.7M643 752h1.7M644 752h1.7M645 752h1.7M646 752h1.7M647 752h1.7M648 752h1.7M649 752h1.7M651 752h1.7M652 752h1.7M653 752h1.7M654 752h1.7M655 752h1.7M656 752h1.7M657 752h1.7M658 752h1.7M659 752h1.7M660 752h1.7M661 752h1.7M662 752h1.7M663 752h1.7M665 752h1.7M666 752h1.7M668 752h1.7M669 752h1.7M670 752h1.7M671 752h1.7M675 752h1.7M682 752h1.7M685 752h1.7M686 752h1.7M687 752h1.7M688 752h1.7M689 752h1.7M690 752h1.7M692 752h1.7M694 752h1.7M696 752h1.7M700 752h1.7M713 752h1.7M714 752h1.7M729 752h1.7M628 753h1.7M630 753h1.7M632 753h1.7M633 753h1.7M636 753h1.7M637 753h1.7M638 753h1.7M639 753h1.7M640 753h1.7M641 753h1.7M642 753h1.7M643 753h1.7M644 753h1.7M645 753h1.7M646 753h1.7M647 753h1.7M648 753h1.7M649 753h1.7M650 753h1.7M651 753h1.7M652 753h1.7M653 753h1.7M654 753h1.7M655 753h1.7M656 753h1.7M657 753h1.7M659 753h1.7M660 753h1.7M661 753h1.7M663 753h1.7M664 753h1.7M665 753h1.7M666 753h1.7M667 753h1.7M668 753h1.7M669 753h1.7M670 753h1.7M676 753h1.7M677 753h1.7M679 753h1.7M681 753h1.7M686 753h1.7M687 753h1.7M688 753h1.7M692 753h1.7M693 753h1.7M699 753h1.7M700 753h1.7M711 753h1.7M728 753h1.7M743 753h1.7M622 754h1.7M630 754h1.7M632 754h1.7M633 754h1.7M634 754h1.7M636 754h1.7M637 754h1.7M638 754h1.7M640 754h1.7M641 754h1.7M642 754h1.7M643 754h1.7M644 754h1.7M645 754h1.7M646 754h1.7M647 754h1.7M648 754h1.7M649 754h1.7M650 754h1.7M651 754h1.7M652 754h1.7M653 754h1.7M654 754h1.7M655 754h1.7M656 754h1.7M657 754h1.7M658 754h1.7M659 754h1.7M661 754h1.7M662 754h1.7M664 754h1.7M665 754h1.7M666 754h1.7M667 754h1.7M668 754h1.7M674 754h1.7M681 754h1.7M682 754h1.7M690 754h1.7M695 754h1.7M703 754h1.7M731 754h1.7M623 755h1.7M624 755h1.7M627 755h1.7M628 755h1.7M629 755h1.7M630 755h1.7M631 755h1.7M632 755h1.7M633 755h1.7M634 755h1.7M635 755h1.7M636 755h1.7M637 755h1.7M638 755h1.7M639 755h1.7M640 755h1.7M641 755h1.7M642 755h1.7M643 755h1.7M644 755h1.7M645 755h1.7M646 755h1.7M647 755h1.7M648 755h1.7M649 755h1.7M650 755h1.7M651 755h1.7M652 755h1.7M653 755h1.7M654 755h1.7M655 755h1.7M656 755h1.7M657 755h1.7M658 755h1.7M659 755h1.7M660 755h1.7M661 755h1.7M665 755h1.7M666 755h1.7M667 755h1.7M673 755h1.7M676 755h1.7M677 755h1.7M678 755h1.7M679 755h1.7M681 755h1.7M686 755h1.7M687 755h1.7M690 755h1.7M691 755h1.7M693 755h1.7M696 755h1.7M702 755h1.7M703 755h1.7M723 755h1.7M625 756h1.7M626 756h1.7M627 756h1.7M628 756h1.7M629 756h1.7M630 756h1.7M631 756h1.7M632 756h1.7M633 756h1.7M634 756h1.7M635 756h1.7M636 756h1.7M637 756h1.7M638 756h1.7M639 756h1.7M640 756h1.7M641 756h1.7M642 756h1.7M643 756h1.7M644 756h1.7M645 756h1.7M646 756h1.7M647 756h1.7M648 756h1.7M649 756h1.7M650 756h1.7M651 756h1.7M652 756h1.7M653 756h1.7M654 756h1.7M655 756h1.7M656 756h1.7M658 756h1.7M659 756h1.7M660 756h1.7M663 756h1.7M667 756h1.7M670 756h1.7M679 756h1.7M681 756h1.7M682 756h1.7M684 756h1.7M685 756h1.7M687 756h1.7M693 756h1.7M710 756h1.7M622 757h1.7M624 757h1.7M626 757h1.7M627 757h1.7M629 757h1.7M630 757h1.7M632 757h1.7M633 757h1.7M634 757h1.7M635 757h1.7M636 757h1.7M637 757h1.7M638 757h1.7M639 757h1.7M640 757h1.7M641 757h1.7M642 757h1.7M643 757h1.7M644 757h1.7M645 757h1.7M646 757h1.7M647 757h1.7M648 757h1.7M649 757h1.7M650 757h1.7M651 757h1.7M652 757h1.7M653 757h1.7M654 757h1.7M655 757h1.7M656 757h1.7M657 757h1.7M658 757h1.7M661 757h1.7M662 757h1.7M663 757h1.7M666 757h1.7M667 757h1.7M670 757h1.7M672 757h1.7M673 757h1.7M676 757h1.7M681 757h1.7M684 757h1.7M685 757h1.7M688 757h1.7M692 757h1.7M704 757h1.7M717 757h1.7M622 758h1.7M624 758h1.7M625 758h1.7M626 758h1.7M627 758h1.7M629 758h1.7M630 758h1.7M631 758h1.7M632 758h1.7M633 758h1.7M634 758h1.7M635 758h1.7M636 758h1.7M637 758h1.7M638 758h1.7M639 758h1.7M640 758h1.7M641 758h1.7M642 758h1.7M643 758h1.7M644 758h1.7M645 758h1.7M646 758h1.7M647 758h1.7M648 758h1.7M649 758h1.7M650 758h1.7M652 758h1.7M654 758h1.7M655 758h1.7M656 758h1.7M658 758h1.7M659 758h1.7M661 758h1.7M662 758h1.7M663 758h1.7M664 758h1.7M666 758h1.7M669 758h1.7M674 758h1.7M676 758h1.7M677 758h1.7M679 758h1.7M681 758h1.7M683 758h1.7M684 758h1.7M688 758h1.7M693 758h1.7M701 758h1.7M623 759h1.7M624 759h1.7M625 759h1.7M626 759h1.7M627 759h1.7M628 759h1.7M629 759h1.7M630 759h1.7M631 759h1.7M632 759h1.7M633 759h1.7M634 759h1.7M635 759h1.7M636 759h1.7M637 759h1.7M638 759h1.7M639 759h1.7M640 759h1.7M641 759h1.7M642 759h1.7M644 759h1.7M645 759h1.7M646 759h1.7M647 759h1.7M648 759h1.7M649 759h1.7M650 759h1.7M651 759h1.7M652 759h1.7M653 759h1.7M654 759h1.7M656 759h1.7M658 759h1.7M659 759h1.7M663 759h1.7M664 759h1.7M666 759h1.7M668 759h1.7M669 759h1.7M672 759h1.7M674 759h1.7M675 759h1.7M682 759h1.7M684 759h1.7M694 759h1.7M697 759h1.7M709 759h1.7M721 759h1.7M621 760h1.7M622 760h1.7M623 760h1.7M626 760h1.7M627 760h1.7M628 760h1.7M629 760h1.7M630 760h1.7M631 760h1.7M632 760h1.7M633 760h1.7M634 760h1.7M635 760h1.7M636 760h1.7M637 760h1.7M638 760h1.7M639 760h1.7M640 760h1.7M641 760h1.7M642 760h1.7M643 760h1.7M644 760h1.7M645 760h1.7M646 760h1.7M647 760h1.7M648 760h1.7M649 760h1.7M652 760h1.7M653 760h1.7M655 760h1.7M656 760h1.7M657 760h1.7M658 760h1.7M659 760h1.7M660 760h1.7M662 760h1.7M666 760h1.7M669 760h1.7M670 760h1.7M671 760h1.7M673 760h1.7M674 760h1.7M676 760h1.7M681 760h1.7M688 760h1.7M731 760h1.7M623 761h1.7M624 761h1.7M625 761h1.7M626 761h1.7M627 761h1.7M628 761h1.7M629 761h1.7M630 761h1.7M631 761h1.7M632 761h1.7M633 761h1.7M634 761h1.7M635 761h1.7M636 761h1.7M637 761h1.7M638 761h1.7M639 761h1.7M640 761h1.7M641 761h1.7M642 761h1.7M643 761h1.7M645 761h1.7M646 761h1.7M648 761h1.7M651 761h1.7M652 761h1.7M656 761h1.7M663 761h1.7M676 761h1.7M685 761h1.7M690 761h1.7M624 762h1.7M625 762h1.7M626 762h1.7M628 762h1.7M629 762h1.7M630 762h1.7M631 762h1.7M632 762h1.7M633 762h1.7M634 762h1.7M635 762h1.7M636 762h1.7M638 762h1.7M639 762h1.7M640 762h1.7M641 762h1.7M642 762h1.7M643 762h1.7M645 762h1.7M648 762h1.7M649 762h1.7M650 762h1.7M651 762h1.7M654 762h1.7M655 762h1.7M656 762h1.7M658 762h1.7M661 762h1.7M664 762h1.7M666 762h1.7M667 762h1.7M668 762h1.7M669 762h1.7M672 762h1.7M674 762h1.7M677 762h1.7M682 762h1.7M700 762h1.7M623 763h1.7M624 763h1.7M625 763h1.7M626 763h1.7M627 763h1.7M628 763h1.7M629 763h1.7M630 763h1.7M631 763h1.7M632 763h1.7M633 763h1.7M634 763h1.7M635 763h1.7M636 763h1.7M637 763h1.7M638 763h1.7M639 763h1.7M640 763h1.7M641 763h1.7M642 763h1.7M643 763h1.7M644 763h1.7M645 763h1.7M646 763h1.7M648 763h1.7M649 763h1.7M652 763h1.7M653 763h1.7M657 763h1.7M662 763h1.7M664 763h1.7M665 763h1.7M666 763h1.7M667 763h1.7M668 763h1.7M674 763h1.7M677 763h1.7M678 763h1.7M708 763h1.7M623 764h1.7M624 764h1.7M625 764h1.7M626 764h1.7M628 764h1.7M629 764h1.7M630 764h1.7M631 764h1.7M632 764h1.7M633 764h1.7M634 764h1.7M635 764h1.7M636 764h1.7M637 764h1.7M638 764h1.7M639 764h1.7M640 764h1.7M641 764h1.7M642 764h1.7M643 764h1.7M644 764h1.7M645 764h1.7M647 764h1.7M649 764h1.7M651 764h1.7M656 764h1.7M658 764h1.7M659 764h1.7M662 764h1.7M663 764h1.7M664 764h1.7M665 764h1.7M666 764h1.7M673 764h1.7M675 764h1.7M682 764h1.7M700 764h1.7M623 765h1.7M624 765h1.7M625 765h1.7M626 765h1.7M627 765h1.7M628 765h1.7M629 765h1.7M630 765h1.7M631 765h1.7M632 765h1.7M634 765h1.7M635 765h1.7M636 765h1.7M637 765h1.7M638 765h1.7M639 765h1.7M640 765h1.7M641 765h1.7M642 765h1.7M643 765h1.7M644 765h1.7M645 765h1.7M650 765h1.7M651 765h1.7M652 765h1.7M654 765h1.7M659 765h1.7M660 765h1.7M662 765h1.7M663 765h1.7M671 765h1.7M672 765h1.7M674 765h1.7M676 765h1.7M680 765h1.7M624 766h1.7M625 766h1.7M626 766h1.7M627 766h1.7M628 766h1.7M629 766h1.7M630 766h1.7M631 766h1.7M632 766h1.7M633 766h1.7M634 766h1.7M635 766h1.7M636 766h1.7M637 766h1.7M638 766h1.7M639 766h1.7M641 766h1.7M642 766h1.7M645 766h1.7M649 766h1.7M653 766h1.7M656 766h1.7M659 766h1.7M664 766h1.7M673 766h1.7M626 767h1.7M627 767h1.7M628 767h1.7M629 767h1.7M630 767h1.7M631 767h1.7M632 767h1.7M633 767h1.7M634 767h1.7M635 767h1.7M636 767h1.7M637 767h1.7M638 767h1.7M645 767h1.7M646 767h1.7M647 767h1.7M649 767h1.7M651 767h1.7M655 767h1.7M656 767h1.7M657 767h1.7M658 767h1.7M663 767h1.7M674 767h1.7M676 767h1.7M683 767h1.7M625 768h1.7M626 768h1.7M627 768h1.7M628 768h1.7M630 768h1.7M631 768h1.7M632 768h1.7M634 768h1.7M635 768h1.7M636 768h1.7M637 768h1.7M646 768h1.7M647 768h1.7M655 768h1.7M660 768h1.7M666 768h1.7M674 768h1.7M681 768h1.7M682 768h1.7M626 769h1.7M627 769h1.7M628 769h1.7M629 769h1.7M631 769h1.7M632 769h1.7M633 769h1.7M634 769h1.7M635 769h1.7M636 769h1.7M638 769h1.7M643 769h1.7M644 769h1.7M650 769h1.7M651 769h1.7M652 769h1.7M656 769h1.7M658 769h1.7M626 770h1.7M628 770h1.7M629 770h1.7M631 770h1.7M632 770h1.7M634 770h1.7M637 770h1.7M648 770h1.7M655 770h1.7M658 770h1.7M669 770h1.7M683 770h1.7M627 771h1.7M628 771h1.7M629 771h1.7M630 771h1.7M631 771h1.7M632 771h1.7M634 771h1.7M635 771h1.7M637 771h1.7M638 771h1.7M647 771h1.7M656 771h1.7M657 771h1.7M660 771h1.7M664 771h1.7M668 771h1.7M671 771h1.7M627 772h1.7M628 772h1.7M629 772h1.7M633 772h1.7M636 772h1.7M637 772h1.7M655 772h1.7M658 772h1.7M664 772h1.7M639 773h1.7M661 773h1.7M663 773h1.7M679 773h1.7M631 774h1.7M638 774h1.7M645 774h1.7M649 774h1.7M650 774h1.7M651 774h1.7M653 774h1.7M660 774h1.7M649 775h1.7M668 775h1.7M685 775h1.7M664 776h1.7M644 777h1.7M666 777h1.7M667 777h1.7M655 778h1.7M650 780h1.7M674 781h1.7M654 784h1.7M647 788h1.7" stroke="#ff0000" stroke-width="1.7" fill="none" filter="url(#bl)"/>
<path d="M583.6 483.3V798.2" stroke="#5a5a5a" stroke-width="2.2"/>
<path d="M897.8 483.3V807.2" stroke="#808080" stroke-width="2.8"/>
<path d="M582.6 798.2H897.8" stroke="#6e6e6e" stroke-width="2.5"/>
<path d="M574.6 483.3H898.8" stroke="#7a7a7a" stroke-width="3"/>
<path d="M759.2 483.3V798.2M583.6 684.2H897.8" stroke="#4d4d4d" stroke-width="2"/>
<path d="M574.6 770.8H583.6M574.6 715.4H583.6M574.6 643.9H583.6M574.6 571.5H583.6M574.6 499.7H583.6M577.6 763.8H583.6M577.6 756.7H583.6M577.6 749.7H583.6M577.6 743.1H583.6M577.6 737.3H583.6M577.6 732.3H583.6M577.6 727.8H583.6M577.6 724.1H583.6M577.6 720.8H583.6M577.6 779.3H583.6M577.6 787.8H583.6M577.6 796.3H583.6M577.6 693.9H583.6M577.6 681.3H583.6M577.6 672.3H583.6M577.6 665.4H583.6M577.6 659.8H583.6M577.6 655H583.6M577.6 650.8H583.6M577.6 647.2H583.6M577.6 622.1H583.6M577.6 609.3H583.6M577.6 600.3H583.6M577.6 593.3H583.6M577.6 587.5H583.6M577.6 582.7H583.6M577.6 578.5H583.6M577.6 574.8H583.6M577.6 549.9H583.6M577.6 537.2H583.6M577.6 528.2H583.6M577.6 521.3H583.6M577.6 515.6H583.6M577.6 510.8H583.6M577.6 506.6H583.6M577.6 503H583.6M621.3 798.2V807.2M679.7 798.2V807.2M776.8 798.2V807.2M876.1 798.2V807.2M628.7 798.2V804.2M636.1 798.2V804.2M643.6 798.2V804.2M650.5 798.2V804.2M656.6 798.2V804.2M661.9 798.2V804.2M666.7 798.2V804.2M670.6 798.2V804.2M674.1 798.2V804.2M613.7 798.2V804.2M606.1 798.2V804.2M598.5 798.2V804.2M590.9 798.2V804.2M709 798.2V804.2M726.1 798.2V804.2M738.2 798.2V804.2M747.6 798.2V804.2M755.3 798.2V804.2M761.8 798.2V804.2M767.4 798.2V804.2M772.4 798.2V804.2M806.7 798.2V804.2M824.2 798.2V804.2M836.6 798.2V804.2M846.2 798.2V804.2M854.1 798.2V804.2M860.7 798.2V804.2M866.5 798.2V804.2M871.6 798.2V804.2" stroke="#6a6a6a" stroke-width="1.8" fill="none"/>
<text transform="translate(568.6,770.8) rotate(-90)" x="0" text-anchor="middle" font-family='"Liberation Sans", sans-serif' font-size="18.5" fill="#4a4a4a">0</text>
<text transform="translate(568.6,715.4) rotate(-90)" x="-10.3" font-family='"Liberation Sans", sans-serif' font-size="18.5" fill="#4a4a4a">10<tspan font-size="12.2" dy="-8.1">4</tspan></text>
<text transform="translate(568.6,643.9) rotate(-90)" x="-10.3" font-family='"Liberation Sans", sans-serif' font-size="18.5" fill="#4a4a4a">10<tspan font-size="12.2" dy="-8.1">5</tspan></text>
<text transform="translate(568.6,571.5) rotate(-90)" x="-10.3" font-family='"Liberation Sans", sans-serif' font-size="18.5" fill="#4a4a4a">10<tspan font-size="12.2" dy="-8.1">6</tspan></text>
<text transform="translate(568.6,499.7) rotate(-90)" x="-10.3" font-family='"Liberation Sans", sans-serif' font-size="18.5" fill="#4a4a4a">10<tspan font-size="12.2" dy="-8.1">7</tspan></text>
<text x="621.3" y="826.5" text-anchor="middle" font-family='"Liberation Sans", sans-serif' font-size="18.5" fill="#4a4a4a">0</text>
<text x="669.5" y="826.5" font-family='"Liberation Sans", sans-serif' font-size="18.5" fill="#4a4a4a">10<tspan font-size="12.2" dy="-8.1">5</tspan></text>
<text x="766.5" y="826.5" font-family='"Liberation Sans", sans-serif' font-size="18.5" fill="#4a4a4a">10<tspan font-size="12.2" dy="-8.1">6</tspan></text>
<text x="865.8" y="826.5" font-family='"Liberation Sans", sans-serif' font-size="18.5" fill="#4a4a4a">10<tspan font-size="12.2" dy="-8.1">7</tspan></text>
<text x="587.6" y="503.8" font-family='"Liberation Sans", sans-serif' font-size="17" fill="#4a4a4a">Q1(6.28%)</text>
<text x="893.3" y="503.8" text-anchor="end" font-family='"Liberation Sans", sans-serif' font-size="17" fill="#4a4a4a">Q2(9.26%)</text>
<text x="587.6" y="790.2" font-family='"Liberation Sans", sans-serif' font-size="17" fill="#4a4a4a">Q3(81.46%)</text>
<text x="893.3" y="790.2" text-anchor="end" font-family='"Liberation Sans", sans-serif' font-size="17" fill="#4a4a4a">Q1-LR(3.01%)</text>
<path d="M1124 540h1.7M1219 553h1.7M1246 556h1.7M1232 576h1.7M1203 582h1.7M1214 582h1.7M1241 582h1.7M1194 583h1.7M1246 585h1.7M1192 587h1.7M1199 587h1.7M1229 587h1.7M1225 588h1.7M1179 589h1.7M1209 589h1.7M1219 589h1.7M1220 589h1.7M1134 590h1.7M1195 590h1.7M1221 590h1.7M1235 590h1.7M1214 591h1.7M1200 592h1.7M1253 592h1.7M1182 593h1.7M1212 593h1.7M1179 594h1.7M1160 595h1.7M1190 595h1.7M1167 596h1.7M1192 596h1.7M1211 596h1.7M1214 596h1.7M1178 597h1.7M1217 597h1.7M1158 598h1.7M1186 598h1.7M1190 599h1.7M1233 599h1.7M1154 600h1.7M1189 600h1.7M1195 600h1.7M1196 600h1.7M1202 600h1.7M1216 600h1.7M1240 600h1.7M1196 601h1.7M1213 601h1.7M1215 601h1.7M1219 602h1.7M1224 602h1.7M1248 602h1.7M1175 603h1.7M1195 603h1.7M1199 603h1.7M1202 603h1.7M1205 603h1.7M1210 603h1.7M1226 603h1.7M1260 603h1.7M1160 604h1.7M1194 604h1.7M1193 605h1.7M1171 606h1.7M1174 606h1.7M1201 606h1.7M1205 606h1.7M1208 606h1.7M1214 606h1.7M1222 606h1.7M1228 606h1.7M1162 607h1.7M1181 607h1.7M1186 607h1.7M1196 607h1.7M1205 607h1.7M1146 608h1.7M1165 608h1.7M1179 608h1.7M1181 608h1.7M1198 608h1.7M1211 608h1.7M1245 608h1.7M1163 609h1.7M1182 609h1.7M1224 609h1.7M1235 609h1.7M1153 610h1.7M1178 610h1.7M1191 610h1.7M1193 610h1.7M1204 610h1.7M1138 611h1.7M1139 611h1.7M1155 611h1.7M1168 611h1.7M1187 611h1.7M1196 611h1.7M1178 612h1.7M1186 612h1.7M1187 612h1.7M1252 612h1.7M1145 613h1.7M1159 613h1.7M1172 613h1.7M1177 613h1.7M1180 613h1.7M1194 613h1.7M1198 613h1.7M1207 613h1.7M1178 614h1.7M1189 614h1.7M1191 614h1.7M1217 614h1.7M1224 614h1.7M1157 615h1.7M1177 615h1.7M1190 615h1.7M1228 615h1.7M1149 616h1.7M1154 616h1.7M1168 616h1.7M1178 616h1.7M1183 616h1.7M1184 616h1.7M1205 616h1.7M1212 616h1.7M1214 616h1.7M1224 616h1.7M1139 617h1.7M1156 617h1.7M1158 617h1.7M1186 617h1.7M1188 617h1.7M1192 617h1.7M1194 617h1.7M1198 617h1.7M1212 617h1.7M1224 617h1.7M1246 617h1.7M1173 618h1.7M1180 618h1.7M1187 618h1.7M1188 618h1.7M1207 618h1.7M1148 619h1.7M1161 619h1.7M1178 619h1.7M1189 619h1.7M1192 619h1.7M1198 619h1.7M1206 619h1.7M1211 619h1.7M1212 619h1.7M1229 619h1.7M1231 619h1.7M1096 620h1.7M1126 620h1.7M1144 620h1.7M1150 620h1.7M1167 620h1.7M1196 620h1.7M1205 620h1.7M1216 620h1.7M1091 621h1.7M1124 621h1.7M1142 621h1.7M1160 621h1.7M1174 621h1.7M1177 621h1.7M1181 621h1.7M1198 621h1.7M1204 621h1.7M1230 621h1.7M1136 622h1.7M1139 622h1.7M1179 622h1.7M1193 622h1.7M1198 622h1.7M1128 623h1.7M1145 623h1.7M1156 623h1.7M1158 623h1.7M1165 623h1.7M1178 623h1.7M1180 623h1.7M1184 623h1.7M1188 623h1.7M1192 623h1.7M1221 623h1.7M1094 624h1.7M1105 624h1.7M1122 624h1.7M1124 624h1.7M1129 624h1.7M1131 624h1.7M1138 624h1.7M1156 624h1.7M1164 624h1.7M1190 624h1.7M1197 624h1.7M1199 624h1.7M1208 624h1.7M1060 625h1.7M1163 625h1.7M1166 625h1.7M1168 625h1.7M1178 625h1.7M1181 625h1.7M1187 625h1.7M1195 625h1.7M1203 625h1.7M1217 625h1.7M1234 625h1.7M1244 625h1.7M1117 626h1.7M1138 626h1.7M1155 626h1.7M1156 626h1.7M1159 626h1.7M1164 626h1.7M1178 626h1.7M1179 626h1.7M1185 626h1.7M1186 626h1.7M1189 626h1.7M1192 626h1.7M1201 626h1.7M1224 626h1.7M1113 627h1.7M1123 627h1.7M1126 627h1.7M1151 627h1.7M1172 627h1.7M1180 627h1.7M1192 627h1.7M1203 627h1.7M1211 627h1.7M1226 627h1.7M1097 628h1.7M1124 628h1.7M1147 628h1.7M1160 628h1.7M1164 628h1.7M1169 628h1.7M1170 628h1.7M1172 628h1.7M1173 628h1.7M1178 628h1.7M1180 628h1.7M1205 628h1.7M1225 628h1.7M1123 629h1.7M1141 629h1.7M1145 629h1.7M1151 629h1.7M1152 629h1.7M1155 629h1.7M1161 629h1.7M1169 629h1.7M1170 629h1.7M1174 629h1.7M1179 629h1.7M1186 629h1.7M1191 629h1.7M1192 629h1.7M1194 629h1.7M1221 629h1.7M1228 629h1.7M1087 630h1.7M1132 630h1.7M1159 630h1.7M1174 630h1.7M1179 630h1.7M1188 630h1.7M1193 630h1.7M1197 630h1.7M1125 631h1.7M1139 631h1.7M1149 631h1.7M1155 631h1.7M1163 631h1.7M1168 631h1.7M1189 631h1.7M1197 631h1.7M1198 631h1.7M1204 631h1.7M1205 631h1.7M1218 631h1.7M1131 632h1.7M1136 632h1.7M1138 632h1.7M1141 632h1.7M1151 632h1.7M1154 632h1.7M1160 632h1.7M1161 632h1.7M1162 632h1.7M1167 632h1.7M1169 632h1.7M1179 632h1.7M1180 632h1.7M1182 632h1.7M1106 633h1.7M1118 633h1.7M1127 633h1.7M1141 633h1.7M1179 633h1.7M1183 633h1.7M1127 634h1.7M1138 634h1.7M1140 634h1.7M1143 634h1.7M1148 634h1.7M1153 634h1.7M1154 634h1.7M1162 634h1.7M1169 634h1.7M1171 634h1.7M1176 634h1.7M1190 634h1.7M1198 634h1.7M1199 634h1.7M1137 635h1.7M1152 635h1.7M1155 635h1.7M1159 635h1.7M1160 635h1.7M1166 635h1.7M1169 635h1.7M1178 635h1.7M1179 635h1.7M1197 635h1.7M1201 635h1.7M1204 635h1.7M1106 636h1.7M1119 636h1.7M1123 636h1.7M1136 636h1.7M1137 636h1.7M1139 636h1.7M1145 636h1.7M1147 636h1.7M1149 636h1.7M1150 636h1.7M1156 636h1.7M1157 636h1.7M1158 636h1.7M1160 636h1.7M1161 636h1.7M1163 636h1.7M1167 636h1.7M1168 636h1.7M1169 636h1.7M1183 636h1.7M1187 636h1.7M1190 636h1.7M1195 636h1.7M1204 636h1.7M1135 637h1.7M1140 637h1.7M1142 637h1.7M1143 637h1.7M1144 637h1.7M1153 637h1.7M1156 637h1.7M1166 637h1.7M1169 637h1.7M1178 637h1.7M1181 637h1.7M1186 637h1.7M1201 637h1.7M1216 637h1.7M1127 638h1.7M1128 638h1.7M1145 638h1.7M1146 638h1.7M1149 638h1.7M1151 638h1.7M1166 638h1.7M1174 638h1.7M1176 638h1.7M1178 638h1.7M1183 638h1.7M1190 638h1.7M1196 638h1.7M1236 638h1.7M1090 639h1.7M1128 639h1.7M1130 639h1.7M1144 639h1.7M1149 639h1.7M1154 639h1.7M1155 639h1.7M1156 639h1.7M1160 639h1.7M1164 639h1.7M1166 639h1.7M1169 639h1.7M1170 639h1.7M1171 639h1.7M1177 639h1.7M1181 639h1.7M1182 639h1.7M1228 639h1.7M1101 640h1.7M1118 640h1.7M1123 640h1.7M1155 640h1.7M1157 640h1.7M1158 640h1.7M1162 640h1.7M1163 640h1.7M1166 640h1.7M1170 640h1.7M1172 640h1.7M1182 640h1.7M1190 640h1.7M1200 640h1.7M1206 640h1.7M1114 641h1.7M1124 641h1.7M1127 641h1.7M1147 641h1.7M1154 641h1.7M1159 641h1.7M1185 641h1.7M1210 641h1.7M1096 642h1.7M1132 642h1.7M1142 642h1.7M1144 642h1.7M1159 642h1.7M1161 642h1.7M1166 642h1.7M1167 642h1.7M1169 642h1.7M1170 642h1.7M1193 642h1.7M1196 642h1.7M1206 642h1.7M1088 643h1.7M1094 643h1.7M1111 643h1.7M1124 643h1.7M1126 643h1.7M1135 643h1.7M1136 643h1.7M1137 643h1.7M1142 643h1.7M1149 643h1.7M1155 643h1.7M1156 643h1.7M1158 643h1.7M1159 643h1.7M1163 643h1.7M1167 643h1.7M1202 643h1.7M1090 644h1.7M1126 644h1.7M1127 644h1.7M1133 644h1.7M1134 644h1.7M1137 644h1.7M1138 644h1.7M1140 644h1.7M1158 644h1.7M1164 644h1.7M1166 644h1.7M1169 644h1.7M1175 644h1.7M1188 644h1.7M1192 644h1.7M1101 645h1.7M1132 645h1.7M1139 645h1.7M1142 645h1.7M1150 645h1.7M1151 645h1.7M1155 645h1.7M1156 645h1.7M1157 645h1.7M1161 645h1.7M1162 645h1.7M1164 645h1.7M1166 645h1.7M1169 645h1.7M1114 646h1.7M1131 646h1.7M1136 646h1.7M1138 646h1.7M1144 646h1.7M1148 646h1.7M1153 646h1.7M1154 646h1.7M1156 646h1.7M1160 646h1.7M1161 646h1.7M1162 646h1.7M1167 646h1.7M1182 646h1.7M1184 646h1.7M1188 646h1.7M1066 647h1.7M1092 647h1.7M1098 647h1.7M1115 647h1.7M1131 647h1.7M1134 647h1.7M1135 647h1.7M1141 647h1.7M1143 647h1.7M1147 647h1.7M1151 647h1.7M1153 647h1.7M1155 647h1.7M1166 647h1.7M1168 647h1.7M1170 647h1.7M1186 647h1.7M1071 648h1.7M1086 648h1.7M1095 648h1.7M1127 648h1.7M1128 648h1.7M1130 648h1.7M1146 648h1.7M1154 648h1.7M1155 648h1.7M1159 648h1.7M1167 648h1.7M1170 648h1.7M1172 648h1.7M1120 649h1.7M1129 649h1.7M1132 649h1.7M1136 649h1.7M1145 649h1.7M1157 649h1.7M1158 649h1.7M1161 649h1.7M1162 649h1.7M1186 649h1.7M1192 649h1.7M1205 649h1.7M1101 650h1.7M1109 650h1.7M1114 650h1.7M1120 650h1.7M1127 650h1.7M1144 650h1.7M1155 650h1.7M1165 650h1.7M1172 650h1.7M1191 650h1.7M984 651h1.7M1038 651h1.7M1091 651h1.7M1129 651h1.7M1135 651h1.7M1140 651h1.7M1144 651h1.7M1155 651h1.7M1171 651h1.7M1174 651h1.7M1177 651h1.7M1181 651h1.7M1184 651h1.7M1200 651h1.7M1096 652h1.7M1105 652h1.7M1132 652h1.7M1143 652h1.7M1148 652h1.7M1149 652h1.7M1150 652h1.7M1152 652h1.7M1169 652h1.7M1180 652h1.7M1109 653h1.7M1121 653h1.7M1123 653h1.7M1124 653h1.7M1128 653h1.7M1133 653h1.7M1138 653h1.7M1150 653h1.7M1151 653h1.7M1155 653h1.7M1159 653h1.7M1169 653h1.7M1171 653h1.7M1172 653h1.7M1220 653h1.7M1268 653h1.7M1078 654h1.7M1114 654h1.7M1121 654h1.7M1140 654h1.7M1150 654h1.7M1155 654h1.7M1164 654h1.7M1166 654h1.7M1175 654h1.7M1090 655h1.7M1124 655h1.7M1125 655h1.7M1133 655h1.7M1136 655h1.7M1137 655h1.7M1146 655h1.7M1162 655h1.7M1171 655h1.7M1172 655h1.7M1185 655h1.7M1121 656h1.7M1126 656h1.7M1129 656h1.7M1132 656h1.7M1138 656h1.7M1143 656h1.7M1144 656h1.7M1146 656h1.7M1153 656h1.7M1162 656h1.7M1172 656h1.7M1075 657h1.7M1097 657h1.7M1098 657h1.7M1117 657h1.7M1123 657h1.7M1124 657h1.7M1128 657h1.7M1130 657h1.7M1133 657h1.7M1137 657h1.7M1138 657h1.7M1142 657h1.7M1143 657h1.7M1144 657h1.7M1151 657h1.7M1164 657h1.7M1166 657h1.7M1173 657h1.7M1098 658h1.7M1103 658h1.7M1106 658h1.7M1110 658h1.7M1130 658h1.7M1134 658h1.7M1143 658h1.7M1158 658h1.7M1171 658h1.7M1173 658h1.7M1177 658h1.7M1197 658h1.7M1074 659h1.7M1084 659h1.7M1088 659h1.7M1112 659h1.7M1114 659h1.7M1116 659h1.7M1131 659h1.7M1154 659h1.7M1158 659h1.7M1161 659h1.7M1165 659h1.7M1170 659h1.7M1091 660h1.7M1098 660h1.7M1120 660h1.7M1126 660h1.7M1128 660h1.7M1131 660h1.7M1136 660h1.7M1138 660h1.7M1139 660h1.7M1140 660h1.7M1146 660h1.7M1163 660h1.7M1171 660h1.7M1098 661h1.7M1111 661h1.7M1118 661h1.7M1130 661h1.7M1140 661h1.7M1149 661h1.7M1151 661h1.7M1152 661h1.7M1155 661h1.7M1156 661h1.7M1160 661h1.7M1185 661h1.7M1098 662h1.7M1107 662h1.7M1114 662h1.7M1123 662h1.7M1128 662h1.7M1142 662h1.7M1146 662h1.7M1166 662h1.7M1091 663h1.7M1093 663h1.7M1122 663h1.7M1137 663h1.7M1139 663h1.7M1166 663h1.7M1169 663h1.7M1191 663h1.7M1082 664h1.7M1103 664h1.7M1116 664h1.7M1125 664h1.7M1129 664h1.7M1131 664h1.7M1138 664h1.7M1153 664h1.7M1156 664h1.7M1177 664h1.7M1056 665h1.7M1113 665h1.7M1139 665h1.7M1153 665h1.7M1158 665h1.7M1163 665h1.7M1177 665h1.7M1187 665h1.7M1088 666h1.7M1112 666h1.7M1128 666h1.7M1133 666h1.7M1139 666h1.7M1142 666h1.7M1144 666h1.7M1145 666h1.7M1149 666h1.7M1150 666h1.7M1151 666h1.7M1152 666h1.7M1171 666h1.7M1093 667h1.7M1119 667h1.7M1144 667h1.7M1176 667h1.7M1104 668h1.7M1109 668h1.7M1117 668h1.7M1121 668h1.7M1129 668h1.7M1133 668h1.7M1135 668h1.7M1139 668h1.7M1142 668h1.7M1144 668h1.7M1150 668h1.7M1154 668h1.7M1184 668h1.7M1202 668h1.7M1068 669h1.7M1092 669h1.7M1099 669h1.7M1108 669h1.7M1109 669h1.7M1120 669h1.7M1122 669h1.7M1132 669h1.7M1135 669h1.7M1137 669h1.7M1138 669h1.7M1145 669h1.7M1177 669h1.7M1074 670h1.7M1101 670h1.7M1116 670h1.7M1124 670h1.7M1128 670h1.7M1137 670h1.7M1138 670h1.7M1143 670h1.7M1148 670h1.7M1139 671h1.7M1142 671h1.7M1169 671h1.7M1088 672h1.7M1106 672h1.7M1109 672h1.7M1114 672h1.7M1115 672h1.7M1135 672h1.7M1137 672h1.7M1143 672h1.7M1149 672h1.7M1153 672h1.7M1154 672h1.7M1160 672h1.7M1085 673h1.7M1101 673h1.7M1109 673h1.7M1125 673h1.7M1165 673h1.7M1183 673h1.7M1075 674h1.7M1082 674h1.7M1100 674h1.7M1125 674h1.7M1127 674h1.7M1128 674h1.7M1136 674h1.7M1145 674h1.7M1154 674h1.7M1169 674h1.7M1106 675h1.7M1113 675h1.7M1126 675h1.7M1128 675h1.7M1133 675h1.7M1135 675h1.7M1152 675h1.7M1158 675h1.7M1187 675h1.7M1071 676h1.7M1118 676h1.7M1123 676h1.7M1126 676h1.7M1141 676h1.7M1195 676h1.7M1031 677h1.7M1064 677h1.7M1066 677h1.7M1080 677h1.7M1101 677h1.7M1111 677h1.7M1115 677h1.7M1124 677h1.7M1127 677h1.7M1132 677h1.7M1149 677h1.7M1180 677h1.7M1181 677h1.7M1213 677h1.7M1068 678h1.7M1109 678h1.7M1120 678h1.7M1133 678h1.7M1149 678h1.7M1176 678h1.7M1179 678h1.7M1104 679h1.7M1122 679h1.7M1126 679h1.7M1133 679h1.7M1152 679h1.7M1176 679h1.7M1054 680h1.7M1090 680h1.7M1126 680h1.7M1134 680h1.7M1135 680h1.7M1138 680h1.7M1139 680h1.7M1164 680h1.7M1172 680h1.7M1084 681h1.7M1096 681h1.7M1107 681h1.7M1109 681h1.7M1111 681h1.7M1113 681h1.7M1116 681h1.7M1138 681h1.7M1139 681h1.7M1144 681h1.7M1161 681h1.7M1113 682h1.7M1163 682h1.7M1165 682h1.7M1167 682h1.7M1171 682h1.7M1192 682h1.7M1092 683h1.7M1116 683h1.7M1123 683h1.7M1124 683h1.7M1129 683h1.7M1147 683h1.7M1171 683h1.7M1087 684h1.7M1125 684h1.7M1127 684h1.7M1145 684h1.7M1070 685h1.7M1118 685h1.7M1120 685h1.7M1125 685h1.7M1126 685h1.7M1132 685h1.7M1139 685h1.7M1145 685h1.7M1149 685h1.7M1160 685h1.7M1193 685h1.7M1080 686h1.7M1098 686h1.7M1103 686h1.7M1124 686h1.7M1148 686h1.7M1160 686h1.7M1171 686h1.7M1092 687h1.7M1114 687h1.7M1116 687h1.7M1121 687h1.7M1128 687h1.7M1148 687h1.7M1161 687h1.7M1182 687h1.7M1099 688h1.7M1125 688h1.7M1135 688h1.7M1136 688h1.7M1143 688h1.7M1146 688h1.7M1149 688h1.7M1077 689h1.7M1118 689h1.7M1122 689h1.7M1128 689h1.7M1130 689h1.7M1167 689h1.7M1171 689h1.7M1105 690h1.7M1114 690h1.7M1118 690h1.7M1119 690h1.7M1139 690h1.7M1169 690h1.7M1092 691h1.7M1104 691h1.7M1105 691h1.7M1107 691h1.7M1119 691h1.7M1123 691h1.7M1137 691h1.7M1140 691h1.7M1142 691h1.7M1149 691h1.7M1202 691h1.7M1088 692h1.7M1089 692h1.7M1093 692h1.7M1113 692h1.7M1124 692h1.7M1104 693h1.7M1111 693h1.7M1116 693h1.7M1118 693h1.7M1121 693h1.7M1126 693h1.7M1128 693h1.7M1139 693h1.7M1169 693h1.7M1172 693h1.7M1180 693h1.7M1181 693h1.7M1070 694h1.7M1077 694h1.7M1112 694h1.7M1114 694h1.7M1116 694h1.7M1117 694h1.7M1133 694h1.7M1138 694h1.7M1140 694h1.7M1179 694h1.7M1097 695h1.7M1104 695h1.7M1110 695h1.7M1114 695h1.7M1115 695h1.7M1121 695h1.7M1132 695h1.7M1161 695h1.7M1172 695h1.7M1178 695h1.7M1064 696h1.7M1083 696h1.7M1092 696h1.7M1109 696h1.7M1166 696h1.7M1171 696h1.7M1050 697h1.7M1101 697h1.7M1107 697h1.7M1110 697h1.7M1116 697h1.7M1118 697h1.7M1119 697h1.7M1123 697h1.7M1124 697h1.7M1127 697h1.7M1130 697h1.7M1133 697h1.7M1177 697h1.7M1178 697h1.7M1049 698h1.7M1089 698h1.7M1102 698h1.7M1103 698h1.7M1117 698h1.7M1120 698h1.7M1127 698h1.7M1134 698h1.7M1135 698h1.7M1148 698h1.7M1165 698h1.7M1185 698h1.7M1085 699h1.7M1088 699h1.7M1091 699h1.7M1093 699h1.7M1105 699h1.7M1118 699h1.7M1119 699h1.7M1121 699h1.7M1157 699h1.7M1164 699h1.7M1084 700h1.7M1088 700h1.7M1101 700h1.7M1114 700h1.7M1116 700h1.7M1123 700h1.7M1136 700h1.7M1143 700h1.7M1161 700h1.7M1175 700h1.7M1089 701h1.7M1103 701h1.7M1110 701h1.7M1117 701h1.7M1120 701h1.7M1132 701h1.7M1134 701h1.7M1136 701h1.7M1137 701h1.7M1149 701h1.7M1162 701h1.7M1165 701h1.7M1188 701h1.7M1103 702h1.7M1110 702h1.7M1112 702h1.7M1113 702h1.7M1114 702h1.7M1116 702h1.7M1118 702h1.7M1119 702h1.7M1121 702h1.7M1125 702h1.7M1151 702h1.7M1158 702h1.7M1102 703h1.7M1104 703h1.7M1105 703h1.7M1107 703h1.7M1112 703h1.7M1115 703h1.7M1116 703h1.7M1117 703h1.7M1118 703h1.7M1119 703h1.7M1120 703h1.7M1121 703h1.7M1125 703h1.7M1127 703h1.7M1135 703h1.7M1136 703h1.7M1139 703h1.7M1165 703h1.7M1179 703h1.7M1184 703h1.7M1060 704h1.7M1073 704h1.7M1092 704h1.7M1107 704h1.7M1109 704h1.7M1112 704h1.7M1114 704h1.7M1116 704h1.7M1119 704h1.7M1122 704h1.7M1123 704h1.7M1125 704h1.7M1128 704h1.7M1135 704h1.7M1136 704h1.7M1150 704h1.7M1168 704h1.7M1173 704h1.7M1178 704h1.7M1187 704h1.7M1189 704h1.7M1094 705h1.7M1096 705h1.7M1097 705h1.7M1100 705h1.7M1101 705h1.7M1104 705h1.7M1108 705h1.7M1113 705h1.7M1114 705h1.7M1115 705h1.7M1116 705h1.7M1119 705h1.7M1122 705h1.7M1123 705h1.7M1131 705h1.7M1138 705h1.7M1153 705h1.7M1166 705h1.7M1169 705h1.7M1171 705h1.7M1180 705h1.7M1083 706h1.7M1095 706h1.7M1109 706h1.7M1110 706h1.7M1114 706h1.7M1117 706h1.7M1118 706h1.7M1119 706h1.7M1120 706h1.7M1121 706h1.7M1123 706h1.7M1124 706h1.7M1125 706h1.7M1128 706h1.7M1130 706h1.7M1137 706h1.7M1140 706h1.7M1083 707h1.7M1090 707h1.7M1091 707h1.7M1094 707h1.7M1102 707h1.7M1104 707h1.7M1105 707h1.7M1107 707h1.7M1110 707h1.7M1112 707h1.7M1118 707h1.7M1121 707h1.7M1122 707h1.7M1123 707h1.7M1126 707h1.7M1127 707h1.7M1128 707h1.7M1133 707h1.7M1134 707h1.7M1157 707h1.7M1164 707h1.7M1078 708h1.7M1085 708h1.7M1096 708h1.7M1102 708h1.7M1103 708h1.7M1104 708h1.7M1106 708h1.7M1112 708h1.7M1113 708h1.7M1120 708h1.7M1123 708h1.7M1125 708h1.7M1126 708h1.7M1127 708h1.7M1131 708h1.7M1144 708h1.7M1159 708h1.7M1171 708h1.7M1174 708h1.7M1093 709h1.7M1094 709h1.7M1096 709h1.7M1097 709h1.7M1099 709h1.7M1100 709h1.7M1103 709h1.7M1104 709h1.7M1106 709h1.7M1108 709h1.7M1109 709h1.7M1110 709h1.7M1113 709h1.7M1114 709h1.7M1116 709h1.7M1117 709h1.7M1118 709h1.7M1119 709h1.7M1120 709h1.7M1123 709h1.7M1124 709h1.7M1125 709h1.7M1128 709h1.7M1129 709h1.7M1132 709h1.7M1134 709h1.7M1139 709h1.7M1155 709h1.7M1184 709h1.7M1068 710h1.7M1088 710h1.7M1093 710h1.7M1100 710h1.7M1104 710h1.7M1106 710h1.7M1107 710h1.7M1112 710h1.7M1114 710h1.7M1116 710h1.7M1120 710h1.7M1121 710h1.7M1125 710h1.7M1131 710h1.7M1133 710h1.7M1137 710h1.7M1140 710h1.7M1145 710h1.7M1159 710h1.7M1162 710h1.7M1170 710h1.7M1171 710h1.7M1182 710h1.7M1189 710h1.7M1077 711h1.7M1078 711h1.7M1086 711h1.7M1091 711h1.7M1092 711h1.7M1094 711h1.7M1095 711h1.7M1096 711h1.7M1100 711h1.7M1101 711h1.7M1102 711h1.7M1103 711h1.7M1105 711h1.7M1106 711h1.7M1108 711h1.7M1110 711h1.7M1111 711h1.7M1112 711h1.7M1114 711h1.7M1115 711h1.7M1123 711h1.7M1125 711h1.7M1127 711h1.7M1128 711h1.7M1132 711h1.7M1141 711h1.7M1142 711h1.7M1145 711h1.7M1161 711h1.7M1195 711h1.7M1082 712h1.7M1094 712h1.7M1101 712h1.7M1102 712h1.7M1103 712h1.7M1105 712h1.7M1106 712h1.7M1108 712h1.7M1110 712h1.7M1111 712h1.7M1112 712h1.7M1113 712h1.7M1115 712h1.7M1116 712h1.7M1118 712h1.7M1120 712h1.7M1121 712h1.7M1122 712h1.7M1125 712h1.7M1127 712h1.7M1137 712h1.7M1139 712h1.7M1154 712h1.7M1188 712h1.7M1083 713h1.7M1086 713h1.7M1089 713h1.7M1094 713h1.7M1095 713h1.7M1096 713h1.7M1101 713h1.7M1104 713h1.7M1105 713h1.7M1106 713h1.7M1108 713h1.7M1110 713h1.7M1113 713h1.7M1117 713h1.7M1120 713h1.7M1122 713h1.7M1124 713h1.7M1130 713h1.7M1147 713h1.7M1158 713h1.7M1160 713h1.7M1190 713h1.7M1051 714h1.7M1084 714h1.7M1088 714h1.7M1091 714h1.7M1093 714h1.7M1094 714h1.7M1095 714h1.7M1096 714h1.7M1098 714h1.7M1100 714h1.7M1102 714h1.7M1104 714h1.7M1105 714h1.7M1106 714h1.7M1107 714h1.7M1108 714h1.7M1110 714h1.7M1112 714h1.7M1115 714h1.7M1116 714h1.7M1118 714h1.7M1120 714h1.7M1122 714h1.7M1123 714h1.7M1124 714h1.7M1128 714h1.7M1133 714h1.7M1137 714h1.7M1040 715h1.7M1080 715h1.7M1083 715h1.7M1085 715h1.7M1086 715h1.7M1088 715h1.7M1090 715h1.7M1094 715h1.7M1098 715h1.7M1099 715h1.7M1100 715h1.7M1102 715h1.7M1104 715h1.7M1105 715h1.7M1106 715h1.7M1107 715h1.7M1108 715h1.7M1112 715h1.7M1113 715h1.7M1115 715h1.7M1116 715h1.7M1118 715h1.7M1119 715h1.7M1120 715h1.7M1121 715h1.7M1122 715h1.7M1124 715h1.7M1129 715h1.7M1132 715h1.7M1141 715h1.7M1152 715h1.7M1159 715h1.7M1182 715h1.7M1068 716h1.7M1083 716h1.7M1088 716h1.7M1097 716h1.7M1098 716h1.7M1100 716h1.7M1101 716h1.7M1102 716h1.7M1103 716h1.7M1106 716h1.7M1109 716h1.7M1110 716h1.7M1112 716h1.7M1113 716h1.7M1114 716h1.7M1115 716h1.7M1119 716h1.7M1120 716h1.7M1122 716h1.7M1123 716h1.7M1124 716h1.7M1126 716h1.7M1127 716h1.7M1130 716h1.7M1132 716h1.7M1134 716h1.7M1143 716h1.7M1167 716h1.7M1064 717h1.7M1087 717h1.7M1088 717h1.7M1090 717h1.7M1092 717h1.7M1093 717h1.7M1094 717h1.7M1096 717h1.7M1099 717h1.7M1100 717h1.7M1101 717h1.7M1103 717h1.7M1104 717h1.7M1106 717h1.7M1107 717h1.7M1108 717h1.7M1109 717h1.7M1110 717h1.7M1111 717h1.7M1112 717h1.7M1113 717h1.7M1114 717h1.7M1115 717h1.7M1118 717h1.7M1121 717h1.7M1124 717h1.7M1125 717h1.7M1126 717h1.7M1135 717h1.7M1137 717h1.7M1138 717h1.7M1160 717h1.7M1050 718h1.7M1067 718h1.7M1069 718h1.7M1081 718h1.7M1083 718h1.7M1087 718h1.7M1091 718h1.7M1094 718h1.7M1095 718h1.7M1096 718h1.7M1098 718h1.7M1099 718h1.7M1100 718h1.7M1101 718h1.7M1102 718h1.7M1103 718h1.7M1104 718h1.7M1106 718h1.7M1107 718h1.7M1109 718h1.7M1111 718h1.7M1112 718h1.7M1113 718h1.7M1114 718h1.7M1115 718h1.7M1116 718h1.7M1117 718h1.7M1123 718h1.7M1128 718h1.7M1130 718h1.7M1138 718h1.7M1077 719h1.7M1085 719h1.7M1087 719h1.7M1090 719h1.7M1091 719h1.7M1092 719h1.7M1096 719h1.7M1097 719h1.7M1098 719h1.7M1099 719h1.7M1100 719h1.7M1101 719h1.7M1102 719h1.7M1105 719h1.7M1107 719h1.7M1109 719h1.7M1110 719h1.7M1112 719h1.7M1114 719h1.7M1116 719h1.7M1117 719h1.7M1119 719h1.7M1121 719h1.7M1123 719h1.7M1126 719h1.7M1130 719h1.7M1139 719h1.7M1150 719h1.7M1053 720h1.7M1063 720h1.7M1078 720h1.7M1079 720h1.7M1083 720h1.7M1087 720h1.7M1088 720h1.7M1089 720h1.7M1091 720h1.7M1092 720h1.7M1093 720h1.7M1094 720h1.7M1095 720h1.7M1097 720h1.7M1100 720h1.7M1101 720h1.7M1104 720h1.7M1105 720h1.7M1106 720h1.7M1108 720h1.7M1109 720h1.7M1110 720h1.7M1114 720h1.7M1115 720h1.7M1116 720h1.7M1117 720h1.7M1118 720h1.7M1119 720h1.7M1120 720h1.7M1121 720h1.7M1122 720h1.7M1126 720h1.7M1132 720h1.7M1142 720h1.7M1146 720h1.7M1069 721h1.7M1072 721h1.7M1074 721h1.7M1079 721h1.7M1082 721h1.7M1088 721h1.7M1089 721h1.7M1091 721h1.7M1092 721h1.7M1095 721h1.7M1096 721h1.7M1097 721h1.7M1099 721h1.7M1100 721h1.7M1101 721h1.7M1102 721h1.7M1103 721h1.7M1105 721h1.7M1106 721h1.7M1107 721h1.7M1108 721h1.7M1111 721h1.7M1118 721h1.7M1119 721h1.7M1120 721h1.7M1121 721h1.7M1123 721h1.7M1124 721h1.7M1125 721h1.7M1126 721h1.7M1130 721h1.7M1132 721h1.7M1133 721h1.7M1141 721h1.7M1146 721h1.7M1160 721h1.7M1192 721h1.7M1073 722h1.7M1075 722h1.7M1076 722h1.7M1078 722h1.7M1079 722h1.7M1080 722h1.7M1084 722h1.7M1085 722h1.7M1086 722h1.7M1087 722h1.7M1089 722h1.7M1090 722h1.7M1091 722h1.7M1092 722h1.7M1093 722h1.7M1094 722h1.7M1096 722h1.7M1097 722h1.7M1099 722h1.7M1100 722h1.7M1101 722h1.7M1104 722h1.7M1105 722h1.7M1107 722h1.7M1108 722h1.7M1115 722h1.7M1116 722h1.7M1122 722h1.7M1123 722h1.7M1126 722h1.7M1140 722h1.7M1144 722h1.7M1170 722h1.7M1171 722h1.7M1042 723h1.7M1050 723h1.7M1060 723h1.7M1069 723h1.7M1074 723h1.7M1075 723h1.7M1076 723h1.7M1080 723h1.7M1081 723h1.7M1082 723h1.7M1084 723h1.7M1086 723h1.7M1087 723h1.7M1089 723h1.7M1092 723h1.7M1094 723h1.7M1095 723h1.7M1096 723h1.7M1098 723h1.7M1099 723h1.7M1100 723h1.7M1101 723h1.7M1102 723h1.7M1103 723h1.7M1104 723h1.7M1107 723h1.7M1108 723h1.7M1109 723h1.7M1110 723h1.7M1111 723h1.7M1113 723h1.7M1114 723h1.7M1115 723h1.7M1116 723h1.7M1118 723h1.7M1119 723h1.7M1120 723h1.7M1122 723h1.7M1128 723h1.7M1129 723h1.7M1139 723h1.7M1142 723h1.7M1145 723h1.7M1150 723h1.7M1162 723h1.7M1065 724h1.7M1068 724h1.7M1069 724h1.7M1075 724h1.7M1077 724h1.7M1078 724h1.7M1082 724h1.7M1083 724h1.7M1085 724h1.7M1086 724h1.7M1087 724h1.7M1088 724h1.7M1091 724h1.7M1092 724h1.7M1093 724h1.7M1095 724h1.7M1096 724h1.7M1098 724h1.7M1099 724h1.7M1101 724h1.7M1102 724h1.7M1104 724h1.7M1105 724h1.7M1106 724h1.7M1107 724h1.7M1108 724h1.7M1110 724h1.7M1115 724h1.7M1119 724h1.7M1121 724h1.7M1123 724h1.7M1124 724h1.7M1126 724h1.7M1127 724h1.7M1128 724h1.7M1132 724h1.7M1139 724h1.7M1140 724h1.7M1056 725h1.7M1059 725h1.7M1061 725h1.7M1074 725h1.7M1078 725h1.7M1080 725h1.7M1081 725h1.7M1083 725h1.7M1084 725h1.7M1085 725h1.7M1087 725h1.7M1091 725h1.7M1092 725h1.7M1093 725h1.7M1095 725h1.7M1097 725h1.7M1099 725h1.7M1100 725h1.7M1102 725h1.7M1104 725h1.7M1105 725h1.7M1106 725h1.7M1107 725h1.7M1108 725h1.7M1110 725h1.7M1111 725h1.7M1113 725h1.7M1118 725h1.7M1119 725h1.7M1121 725h1.7M1122 725h1.7M1123 725h1.7M1125 725h1.7M1129 725h1.7M1135 725h1.7M1136 725h1.7M1142 725h1.7M1143 725h1.7M1162 725h1.7M1165 725h1.7M1195 725h1.7M1059 726h1.7M1060 726h1.7M1066 726h1.7M1067 726h1.7M1070 726h1.7M1072 726h1.7M1073 726h1.7M1074 726h1.7M1077 726h1.7M1078 726h1.7M1079 726h1.7M1081 726h1.7M1082 726h1.7M1083 726h1.7M1085 726h1.7M1086 726h1.7M1087 726h1.7M1088 726h1.7M1089 726h1.7M1090 726h1.7M1091 726h1.7M1092 726h1.7M1093 726h1.7M1094 726h1.7M1095 726h1.7M1097 726h1.7M1098 726h1.7M1099 726h1.7M1100 726h1.7M1102 726h1.7M1103 726h1.7M1104 726h1.7M1105 726h1.7M1109 726h1.7M1110 726h1.7M1111 726h1.7M1112 726h1.7M1113 726h1.7M1116 726h1.7M1117 726h1.7M1119 726h1.7M1122 726h1.7M1123 726h1.7M1131 726h1.7M1136 726h1.7M1145 726h1.7M1154 726h1.7M1158 726h1.7M1172 726h1.7M1060 727h1.7M1065 727h1.7M1071 727h1.7M1072 727h1.7M1074 727h1.7M1077 727h1.7M1078 727h1.7M1080 727h1.7M1081 727h1.7M1082 727h1.7M1085 727h1.7M1086 727h1.7M1087 727h1.7M1088 727h1.7M1089 727h1.7M1090 727h1.7M1091 727h1.7M1092 727h1.7M1093 727h1.7M1095 727h1.7M1097 727h1.7M1098 727h1.7M1100 727h1.7M1101 727h1.7M1102 727h1.7M1103 727h1.7M1105 727h1.7M1107 727h1.7M1109 727h1.7M1110 727h1.7M1111 727h1.7M1113 727h1.7M1114 727h1.7M1116 727h1.7M1117 727h1.7M1119 727h1.7M1124 727h1.7M1126 727h1.7M1127 727h1.7M1152 727h1.7M1048 728h1.7M1056 728h1.7M1060 728h1.7M1061 728h1.7M1064 728h1.7M1065 728h1.7M1067 728h1.7M1070 728h1.7M1071 728h1.7M1072 728h1.7M1073 728h1.7M1074 728h1.7M1075 728h1.7M1079 728h1.7M1080 728h1.7M1082 728h1.7M1083 728h1.7M1085 728h1.7M1086 728h1.7M1087 728h1.7M1088 728h1.7M1089 728h1.7M1090 728h1.7M1091 728h1.7M1092 728h1.7M1093 728h1.7M1094 728h1.7M1095 728h1.7M1096 728h1.7M1097 728h1.7M1099 728h1.7M1101 728h1.7M1103 728h1.7M1105 728h1.7M1106 728h1.7M1111 728h1.7M1112 728h1.7M1114 728h1.7M1118 728h1.7M1119 728h1.7M1120 728h1.7M1122 728h1.7M1125 728h1.7M1139 728h1.7M1140 728h1.7M1148 728h1.7M1150 728h1.7M1039 729h1.7M1045 729h1.7M1062 729h1.7M1064 729h1.7M1065 729h1.7M1066 729h1.7M1067 729h1.7M1069 729h1.7M1070 729h1.7M1071 729h1.7M1072 729h1.7M1075 729h1.7M1076 729h1.7M1077 729h1.7M1078 729h1.7M1080 729h1.7M1081 729h1.7M1082 729h1.7M1083 729h1.7M1084 729h1.7M1085 729h1.7M1086 729h1.7M1087 729h1.7M1088 729h1.7M1090 729h1.7M1092 729h1.7M1094 729h1.7M1095 729h1.7M1097 729h1.7M1098 729h1.7M1101 729h1.7M1102 729h1.7M1106 729h1.7M1108 729h1.7M1112 729h1.7M1113 729h1.7M1121 729h1.7M1124 729h1.7M1127 729h1.7M1128 729h1.7M1129 729h1.7M1132 729h1.7M1134 729h1.7M1142 729h1.7M1143 729h1.7M1035 730h1.7M1042 730h1.7M1053 730h1.7M1060 730h1.7M1063 730h1.7M1066 730h1.7M1068 730h1.7M1069 730h1.7M1070 730h1.7M1071 730h1.7M1072 730h1.7M1074 730h1.7M1076 730h1.7M1077 730h1.7M1078 730h1.7M1079 730h1.7M1080 730h1.7M1081 730h1.7M1082 730h1.7M1083 730h1.7M1084 730h1.7M1085 730h1.7M1087 730h1.7M1088 730h1.7M1089 730h1.7M1090 730h1.7M1091 730h1.7M1092 730h1.7M1096 730h1.7M1097 730h1.7M1098 730h1.7M1101 730h1.7M1103 730h1.7M1105 730h1.7M1107 730h1.7M1108 730h1.7M1111 730h1.7M1112 730h1.7M1115 730h1.7M1117 730h1.7M1124 730h1.7M1125 730h1.7M1129 730h1.7M1146 730h1.7M1153 730h1.7M1156 730h1.7M1164 730h1.7M1052 731h1.7M1053 731h1.7M1056 731h1.7M1058 731h1.7M1061 731h1.7M1063 731h1.7M1066 731h1.7M1069 731h1.7M1070 731h1.7M1071 731h1.7M1074 731h1.7M1076 731h1.7M1077 731h1.7M1079 731h1.7M1081 731h1.7M1082 731h1.7M1083 731h1.7M1084 731h1.7M1085 731h1.7M1087 731h1.7M1090 731h1.7M1091 731h1.7M1092 731h1.7M1093 731h1.7M1094 731h1.7M1096 731h1.7M1098 731h1.7M1099 731h1.7M1103 731h1.7M1104 731h1.7M1105 731h1.7M1106 731h1.7M1109 731h1.7M1113 731h1.7M1116 731h1.7M1121 731h1.7M1122 731h1.7M1126 731h1.7M1132 731h1.7M1133 731h1.7M1143 731h1.7M1153 731h1.7M1022 732h1.7M1056 732h1.7M1061 732h1.7M1062 732h1.7M1064 732h1.7M1065 732h1.7M1067 732h1.7M1068 732h1.7M1070 732h1.7M1071 732h1.7M1072 732h1.7M1073 732h1.7M1074 732h1.7M1076 732h1.7M1077 732h1.7M1079 732h1.7M1080 732h1.7M1083 732h1.7M1084 732h1.7M1085 732h1.7M1087 732h1.7M1088 732h1.7M1090 732h1.7M1091 732h1.7M1092 732h1.7M1093 732h1.7M1094 732h1.7M1095 732h1.7M1096 732h1.7M1098 732h1.7M1102 732h1.7M1103 732h1.7M1106 732h1.7M1107 732h1.7M1114 732h1.7M1118 732h1.7M1119 732h1.7M1129 732h1.7M1138 732h1.7M1156 732h1.7M1164 732h1.7M1054 733h1.7M1056 733h1.7M1057 733h1.7M1059 733h1.7M1060 733h1.7M1061 733h1.7M1062 733h1.7M1063 733h1.7M1064 733h1.7M1065 733h1.7M1066 733h1.7M1067 733h1.7M1068 733h1.7M1070 733h1.7M1073 733h1.7M1074 733h1.7M1075 733h1.7M1076 733h1.7M1077 733h1.7M1078 733h1.7M1079 733h1.7M1080 733h1.7M1082 733h1.7M1084 733h1.7M1085 733h1.7M1086 733h1.7M1087 733h1.7M1088 733h1.7M1089 733h1.7M1090 733h1.7M1091 733h1.7M1092 733h1.7M1093 733h1.7M1095 733h1.7M1097 733h1.7M1098 733h1.7M1099 733h1.7M1100 733h1.7M1101 733h1.7M1106 733h1.7M1107 733h1.7M1110 733h1.7M1114 733h1.7M1122 733h1.7M1127 733h1.7M1129 733h1.7M1132 733h1.7M1047 734h1.7M1050 734h1.7M1052 734h1.7M1059 734h1.7M1061 734h1.7M1064 734h1.7M1065 734h1.7M1068 734h1.7M1069 734h1.7M1070 734h1.7M1072 734h1.7M1073 734h1.7M1074 734h1.7M1075 734h1.7M1076 734h1.7M1077 734h1.7M1078 734h1.7M1080 734h1.7M1081 734h1.7M1082 734h1.7M1085 734h1.7M1086 734h1.7M1087 734h1.7M1088 734h1.7M1090 734h1.7M1091 734h1.7M1093 734h1.7M1094 734h1.7M1096 734h1.7M1098 734h1.7M1099 734h1.7M1101 734h1.7M1102 734h1.7M1107 734h1.7M1110 734h1.7M1126 734h1.7M1131 734h1.7M1133 734h1.7M1138 734h1.7M1146 734h1.7M1154 734h1.7M1039 735h1.7M1040 735h1.7M1055 735h1.7M1056 735h1.7M1057 735h1.7M1059 735h1.7M1060 735h1.7M1061 735h1.7M1063 735h1.7M1064 735h1.7M1065 735h1.7M1066 735h1.7M1067 735h1.7M1068 735h1.7M1069 735h1.7M1070 735h1.7M1071 735h1.7M1072 735h1.7M1073 735h1.7M1074 735h1.7M1075 735h1.7M1076 735h1.7M1077 735h1.7M1078 735h1.7M1080 735h1.7M1081 735h1.7M1082 735h1.7M1083 735h1.7M1085 735h1.7M1086 735h1.7M1087 735h1.7M1089 735h1.7M1090 735h1.7M1091 735h1.7M1092 735h1.7M1093 735h1.7M1094 735h1.7M1096 735h1.7M1098 735h1.7M1099 735h1.7M1102 735h1.7M1103 735h1.7M1105 735h1.7M1106 735h1.7M1107 735h1.7M1108 735h1.7M1111 735h1.7M1114 735h1.7M1116 735h1.7M1122 735h1.7M1154 735h1.7M1156 735h1.7M1164 735h1.7M1049 736h1.7M1055 736h1.7M1056 736h1.7M1057 736h1.7M1058 736h1.7M1059 736h1.7M1061 736h1.7M1062 736h1.7M1063 736h1.7M1064 736h1.7M1065 736h1.7M1066 736h1.7M1067 736h1.7M1068 736h1.7M1069 736h1.7M1070 736h1.7M1073 736h1.7M1074 736h1.7M1075 736h1.7M1076 736h1.7M1077 736h1.7M1078 736h1.7M1079 736h1.7M1080 736h1.7M1081 736h1.7M1082 736h1.7M1083 736h1.7M1085 736h1.7M1086 736h1.7M1088 736h1.7M1089 736h1.7M1090 736h1.7M1091 736h1.7M1092 736h1.7M1094 736h1.7M1096 736h1.7M1102 736h1.7M1105 736h1.7M1107 736h1.7M1115 736h1.7M1119 736h1.7M1126 736h1.7M1127 736h1.7M1143 736h1.7M1145 736h1.7M1039 737h1.7M1041 737h1.7M1047 737h1.7M1051 737h1.7M1052 737h1.7M1054 737h1.7M1057 737h1.7M1059 737h1.7M1062 737h1.7M1064 737h1.7M1065 737h1.7M1066 737h1.7M1067 737h1.7M1068 737h1.7M1069 737h1.7M1070 737h1.7M1071 737h1.7M1072 737h1.7M1073 737h1.7M1074 737h1.7M1075 737h1.7M1076 737h1.7M1077 737h1.7M1078 737h1.7M1079 737h1.7M1080 737h1.7M1081 737h1.7M1082 737h1.7M1083 737h1.7M1086 737h1.7M1087 737h1.7M1088 737h1.7M1089 737h1.7M1090 737h1.7M1092 737h1.7M1093 737h1.7M1094 737h1.7M1095 737h1.7M1096 737h1.7M1097 737h1.7M1099 737h1.7M1100 737h1.7M1101 737h1.7M1106 737h1.7M1109 737h1.7M1113 737h1.7M1126 737h1.7M1128 737h1.7M1143 737h1.7M1146 737h1.7M1045 738h1.7M1048 738h1.7M1049 738h1.7M1050 738h1.7M1052 738h1.7M1054 738h1.7M1056 738h1.7M1057 738h1.7M1058 738h1.7M1059 738h1.7M1061 738h1.7M1062 738h1.7M1063 738h1.7M1064 738h1.7M1065 738h1.7M1066 738h1.7M1067 738h1.7M1068 738h1.7M1071 738h1.7M1073 738h1.7M1075 738h1.7M1076 738h1.7M1077 738h1.7M1079 738h1.7M1080 738h1.7M1081 738h1.7M1082 738h1.7M1083 738h1.7M1084 738h1.7M1085 738h1.7M1086 738h1.7M1087 738h1.7M1088 738h1.7M1089 738h1.7M1090 738h1.7M1091 738h1.7M1092 738h1.7M1093 738h1.7M1095 738h1.7M1100 738h1.7M1101 738h1.7M1111 738h1.7M1113 738h1.7M1125 738h1.7M1130 738h1.7M1134 738h1.7M1147 738h1.7M1030 739h1.7M1038 739h1.7M1046 739h1.7M1047 739h1.7M1048 739h1.7M1054 739h1.7M1056 739h1.7M1057 739h1.7M1058 739h1.7M1059 739h1.7M1060 739h1.7M1061 739h1.7M1062 739h1.7M1063 739h1.7M1064 739h1.7M1065 739h1.7M1066 739h1.7M1068 739h1.7M1069 739h1.7M1070 739h1.7M1071 739h1.7M1072 739h1.7M1073 739h1.7M1074 739h1.7M1075 739h1.7M1076 739h1.7M1077 739h1.7M1078 739h1.7M1079 739h1.7M1081 739h1.7M1082 739h1.7M1084 739h1.7M1085 739h1.7M1087 739h1.7M1089 739h1.7M1090 739h1.7M1091 739h1.7M1092 739h1.7M1094 739h1.7M1096 739h1.7M1099 739h1.7M1107 739h1.7M1121 739h1.7M1124 739h1.7M1032 740h1.7M1036 740h1.7M1039 740h1.7M1044 740h1.7M1045 740h1.7M1046 740h1.7M1047 740h1.7M1049 740h1.7M1050 740h1.7M1051 740h1.7M1052 740h1.7M1053 740h1.7M1054 740h1.7M1056 740h1.7M1058 740h1.7M1059 740h1.7M1060 740h1.7M1061 740h1.7M1062 740h1.7M1063 740h1.7M1064 740h1.7M1066 740h1.7M1068 740h1.7M1069 740h1.7M1070 740h1.7M1071 740h1.7M1072 740h1.7M1073 740h1.7M1075 740h1.7M1076 740h1.7M1077 740h1.7M1078 740h1.7M1079 740h1.7M1080 740h1.7M1081 740h1.7M1082 740h1.7M1084 740h1.7M1086 740h1.7M1087 740h1.7M1091 740h1.7M1093 740h1.7M1095 740h1.7M1096 740h1.7M1098 740h1.7M1101 740h1.7M1102 740h1.7M1104 740h1.7M1105 740h1.7M1106 740h1.7M1107 740h1.7M1111 740h1.7M1114 740h1.7M1116 740h1.7M1126 740h1.7M1145 740h1.7M1027 741h1.7M1043 741h1.7M1044 741h1.7M1047 741h1.7M1049 741h1.7M1051 741h1.7M1055 741h1.7M1056 741h1.7M1057 741h1.7M1058 741h1.7M1059 741h1.7M1060 741h1.7M1061 741h1.7M1062 741h1.7M1064 741h1.7M1066 741h1.7M1067 741h1.7M1068 741h1.7M1069 741h1.7M1070 741h1.7M1071 741h1.7M1072 741h1.7M1073 741h1.7M1074 741h1.7M1075 741h1.7M1077 741h1.7M1078 741h1.7M1079 741h1.7M1081 741h1.7M1084 741h1.7M1085 741h1.7M1086 741h1.7M1087 741h1.7M1089 741h1.7M1090 741h1.7M1093 741h1.7M1095 741h1.7M1098 741h1.7M1101 741h1.7M1033 742h1.7M1036 742h1.7M1039 742h1.7M1042 742h1.7M1043 742h1.7M1047 742h1.7M1048 742h1.7M1049 742h1.7M1050 742h1.7M1051 742h1.7M1052 742h1.7M1053 742h1.7M1054 742h1.7M1055 742h1.7M1056 742h1.7M1057 742h1.7M1058 742h1.7M1061 742h1.7M1063 742h1.7M1064 742h1.7M1065 742h1.7M1066 742h1.7M1067 742h1.7M1068 742h1.7M1069 742h1.7M1070 742h1.7M1071 742h1.7M1072 742h1.7M1073 742h1.7M1074 742h1.7M1075 742h1.7M1076 742h1.7M1077 742h1.7M1078 742h1.7M1080 742h1.7M1081 742h1.7M1083 742h1.7M1087 742h1.7M1089 742h1.7M1090 742h1.7M1091 742h1.7M1092 742h1.7M1101 742h1.7M1110 742h1.7M1112 742h1.7M1114 742h1.7M1118 742h1.7M1157 742h1.7M1033 743h1.7M1045 743h1.7M1046 743h1.7M1047 743h1.7M1048 743h1.7M1049 743h1.7M1051 743h1.7M1052 743h1.7M1055 743h1.7M1056 743h1.7M1057 743h1.7M1058 743h1.7M1059 743h1.7M1060 743h1.7M1061 743h1.7M1062 743h1.7M1063 743h1.7M1064 743h1.7M1065 743h1.7M1066 743h1.7M1067 743h1.7M1069 743h1.7M1070 743h1.7M1071 743h1.7M1072 743h1.7M1073 743h1.7M1074 743h1.7M1075 743h1.7M1076 743h1.7M1078 743h1.7M1079 743h1.7M1080 743h1.7M1081 743h1.7M1084 743h1.7M1085 743h1.7M1087 743h1.7M1089 743h1.7M1091 743h1.7M1096 743h1.7M1097 743h1.7M1100 743h1.7M1102 743h1.7M1105 743h1.7M1157 743h1.7M1167 743h1.7M1012 744h1.7M1029 744h1.7M1032 744h1.7M1033 744h1.7M1034 744h1.7M1037 744h1.7M1039 744h1.7M1041 744h1.7M1043 744h1.7M1045 744h1.7M1046 744h1.7M1047 744h1.7M1048 744h1.7M1050 744h1.7M1051 744h1.7M1052 744h1.7M1053 744h1.7M1054 744h1.7M1055 744h1.7M1056 744h1.7M1057 744h1.7M1058 744h1.7M1059 744h1.7M1060 744h1.7M1061 744h1.7M1062 744h1.7M1063 744h1.7M1064 744h1.7M1065 744h1.7M1066 744h1.7M1067 744h1.7M1068 744h1.7M1069 744h1.7M1070 744h1.7M1072 744h1.7M1074 744h1.7M1075 744h1.7M1076 744h1.7M1077 744h1.7M1078 744h1.7M1079 744h1.7M1080 744h1.7M1081 744h1.7M1084 744h1.7M1085 744h1.7M1086 744h1.7M1087 744h1.7M1090 744h1.7M1091 744h1.7M1093 744h1.7M1095 744h1.7M1098 744h1.7M1105 744h1.7M1107 744h1.7M1109 744h1.7M1121 744h1.7M1126 744h1.7M1020 745h1.7M1033 745h1.7M1036 745h1.7M1038 745h1.7M1040 745h1.7M1041 745h1.7M1042 745h1.7M1043 745h1.7M1044 745h1.7M1045 745h1.7M1046 745h1.7M1047 745h1.7M1048 745h1.7M1049 745h1.7M1051 745h1.7M1052 745h1.7M1053 745h1.7M1054 745h1.7M1055 745h1.7M1057 745h1.7M1058 745h1.7M1059 745h1.7M1060 745h1.7M1061 745h1.7M1063 745h1.7M1064 745h1.7M1066 745h1.7M1068 745h1.7M1069 745h1.7M1072 745h1.7M1073 745h1.7M1074 745h1.7M1075 745h1.7M1076 745h1.7M1079 745h1.7M1080 745h1.7M1081 745h1.7M1082 745h1.7M1084 745h1.7M1085 745h1.7M1087 745h1.7M1088 745h1.7M1089 745h1.7M1092 745h1.7M1093 745h1.7M1094 745h1.7M1098 745h1.7M1105 745h1.7M1109 745h1.7M1146 745h1.7M1022 746h1.7M1025 746h1.7M1028 746h1.7M1034 746h1.7M1036 746h1.7M1040 746h1.7M1042 746h1.7M1043 746h1.7M1044 746h1.7M1045 746h1.7M1046 746h1.7M1047 746h1.7M1048 746h1.7M1049 746h1.7M1050 746h1.7M1051 746h1.7M1054 746h1.7M1055 746h1.7M1056 746h1.7M1057 746h1.7M1058 746h1.7M1060 746h1.7M1061 746h1.7M1062 746h1.7M1063 746h1.7M1064 746h1.7M1065 746h1.7M1066 746h1.7M1067 746h1.7M1068 746h1.7M1069 746h1.7M1070 746h1.7M1071 746h1.7M1072 746h1.7M1073 746h1.7M1074 746h1.7M1075 746h1.7M1076 746h1.7M1077 746h1.7M1078 746h1.7M1079 746h1.7M1080 746h1.7M1083 746h1.7M1084 746h1.7M1088 746h1.7M1091 746h1.7M1097 746h1.7M1098 746h1.7M1133 746h1.7M1135 746h1.7M1005 747h1.7M1015 747h1.7M1021 747h1.7M1025 747h1.7M1032 747h1.7M1033 747h1.7M1035 747h1.7M1038 747h1.7M1040 747h1.7M1042 747h1.7M1043 747h1.7M1044 747h1.7M1045 747h1.7M1046 747h1.7M1047 747h1.7M1049 747h1.7M1050 747h1.7M1051 747h1.7M1052 747h1.7M1053 747h1.7M1054 747h1.7M1055 747h1.7M1056 747h1.7M1057 747h1.7M1058 747h1.7M1060 747h1.7M1061 747h1.7M1062 747h1.7M1063 747h1.7M1065 747h1.7M1066 747h1.7M1067 747h1.7M1068 747h1.7M1070 747h1.7M1071 747h1.7M1072 747h1.7M1075 747h1.7M1076 747h1.7M1077 747h1.7M1078 747h1.7M1081 747h1.7M1082 747h1.7M1088 747h1.7M1092 747h1.7M1105 747h1.7M1136 747h1.7M1019 748h1.7M1028 748h1.7M1039 748h1.7M1040 748h1.7M1041 748h1.7M1042 748h1.7M1043 748h1.7M1044 748h1.7M1045 748h1.7M1046 748h1.7M1047 748h1.7M1048 748h1.7M1049 748h1.7M1050 748h1.7M1051 748h1.7M1052 748h1.7M1053 748h1.7M1054 748h1.7M1055 748h1.7M1056 748h1.7M1057 748h1.7M1058 748h1.7M1059 748h1.7M1062 748h1.7M1064 748h1.7M1065 748h1.7M1066 748h1.7M1068 748h1.7M1069 748h1.7M1070 748h1.7M1073 748h1.7M1074 748h1.7M1076 748h1.7M1078 748h1.7M1080 748h1.7M1081 748h1.7M1082 748h1.7M1084 748h1.7M1085 748h1.7M1086 748h1.7M1089 748h1.7M1091 748h1.7M1093 748h1.7M1095 748h1.7M1108 748h1.7M1125 748h1.7M1153 748h1.7M1011 749h1.7M1027 749h1.7M1031 749h1.7M1036 749h1.7M1037 749h1.7M1039 749h1.7M1040 749h1.7M1041 749h1.7M1042 749h1.7M1043 749h1.7M1044 749h1.7M1045 749h1.7M1046 749h1.7M1047 749h1.7M1048 749h1.7M1049 749h1.7M1050 749h1.7M1051 749h1.7M1052 749h1.7M1053 749h1.7M1054 749h1.7M1055 749h1.7M1056 749h1.7M1057 749h1.7M1058 749h1.7M1059 749h1.7M1060 749h1.7M1061 749h1.7M1064 749h1.7M1066 749h1.7M1069 749h1.7M1070 749h1.7M1071 749h1.7M1073 749h1.7M1074 749h1.7M1077 749h1.7M1078 749h1.7M1079 749h1.7M1081 749h1.7M1082 749h1.7M1083 749h1.7M1084 749h1.7M1088 749h1.7M1090 749h1.7M1097 749h1.7M1100 749h1.7M1102 749h1.7M1111 749h1.7M1009 750h1.7M1019 750h1.7M1021 750h1.7M1024 750h1.7M1025 750h1.7M1030 750h1.7M1031 750h1.7M1032 750h1.7M1033 750h1.7M1034 750h1.7M1036 750h1.7M1037 750h1.7M1038 750h1.7M1040 750h1.7M1041 750h1.7M1042 750h1.7M1043 750h1.7M1044 750h1.7M1045 750h1.7M1046 750h1.7M1047 750h1.7M1048 750h1.7M1049 750h1.7M1050 750h1.7M1051 750h1.7M1052 750h1.7M1053 750h1.7M1054 750h1.7M1055 750h1.7M1058 750h1.7M1059 750h1.7M1062 750h1.7M1063 750h1.7M1064 750h1.7M1065 750h1.7M1067 750h1.7M1068 750h1.7M1069 750h1.7M1070 750h1.7M1072 750h1.7M1074 750h1.7M1076 750h1.7M1077 750h1.7M1078 750h1.7M1081 750h1.7M1082 750h1.7M1088 750h1.7M1089 750h1.7M1109 750h1.7M1158 750h1.7M1018 751h1.7M1023 751h1.7M1024 751h1.7M1026 751h1.7M1027 751h1.7M1028 751h1.7M1029 751h1.7M1031 751h1.7M1033 751h1.7M1034 751h1.7M1036 751h1.7M1037 751h1.7M1038 751h1.7M1039 751h1.7M1040 751h1.7M1042 751h1.7M1043 751h1.7M1044 751h1.7M1045 751h1.7M1046 751h1.7M1047 751h1.7M1048 751h1.7M1049 751h1.7M1050 751h1.7M1051 751h1.7M1052 751h1.7M1053 751h1.7M1054 751h1.7M1056 751h1.7M1057 751h1.7M1058 751h1.7M1059 751h1.7M1060 751h1.7M1061 751h1.7M1062 751h1.7M1063 751h1.7M1064 751h1.7M1066 751h1.7M1069 751h1.7M1070 751h1.7M1075 751h1.7M1076 751h1.7M1079 751h1.7M1083 751h1.7M1084 751h1.7M1085 751h1.7M1091 751h1.7M1098 751h1.7M1099 751h1.7M1012 752h1.7M1020 752h1.7M1026 752h1.7M1027 752h1.7M1029 752h1.7M1030 752h1.7M1031 752h1.7M1033 752h1.7M1034 752h1.7M1035 752h1.7M1036 752h1.7M1037 752h1.7M1038 752h1.7M1039 752h1.7M1040 752h1.7M1041 752h1.7M1042 752h1.7M1043 752h1.7M1044 752h1.7M1045 752h1.7M1046 752h1.7M1047 752h1.7M1048 752h1.7M1049 752h1.7M1050 752h1.7M1051 752h1.7M1052 752h1.7M1053 752h1.7M1054 752h1.7M1055 752h1.7M1056 752h1.7M1058 752h1.7M1059 752h1.7M1060 752h1.7M1061 752h1.7M1063 752h1.7M1064 752h1.7M1065 752h1.7M1066 752h1.7M1067 752h1.7M1068 752h1.7M1070 752h1.7M1071 752h1.7M1075 752h1.7M1081 752h1.7M1082 752h1.7M1084 752h1.7M1086 752h1.7M1097 752h1.7M1098 752h1.7M1118 752h1.7M1006 753h1.7M1020 753h1.7M1021 753h1.7M1024 753h1.7M1026 753h1.7M1028 753h1.7M1029 753h1.7M1030 753h1.7M1031 753h1.7M1032 753h1.7M1033 753h1.7M1034 753h1.7M1037 753h1.7M1038 753h1.7M1039 753h1.7M1040 753h1.7M1041 753h1.7M1042 753h1.7M1043 753h1.7M1044 753h1.7M1045 753h1.7M1046 753h1.7M1047 753h1.7M1048 753h1.7M1049 753h1.7M1050 753h1.7M1051 753h1.7M1052 753h1.7M1053 753h1.7M1054 753h1.7M1055 753h1.7M1056 753h1.7M1057 753h1.7M1058 753h1.7M1059 753h1.7M1060 753h1.7M1061 753h1.7M1062 753h1.7M1063 753h1.7M1065 753h1.7M1066 753h1.7M1067 753h1.7M1068 753h1.7M1070 753h1.7M1075 753h1.7M1076 753h1.7M1077 753h1.7M1079 753h1.7M1081 753h1.7M1082 753h1.7M1089 753h1.7M1007 754h1.7M1015 754h1.7M1017 754h1.7M1019 754h1.7M1021 754h1.7M1022 754h1.7M1023 754h1.7M1025 754h1.7M1026 754h1.7M1027 754h1.7M1029 754h1.7M1030 754h1.7M1031 754h1.7M1032 754h1.7M1033 754h1.7M1034 754h1.7M1035 754h1.7M1036 754h1.7M1037 754h1.7M1038 754h1.7M1039 754h1.7M1040 754h1.7M1041 754h1.7M1042 754h1.7M1043 754h1.7M1044 754h1.7M1045 754h1.7M1046 754h1.7M1047 754h1.7M1048 754h1.7M1049 754h1.7M1050 754h1.7M1051 754h1.7M1052 754h1.7M1053 754h1.7M1054 754h1.7M1055 754h1.7M1056 754h1.7M1058 754h1.7M1059 754h1.7M1060 754h1.7M1062 754h1.7M1064 754h1.7M1065 754h1.7M1071 754h1.7M1079 754h1.7M1081 754h1.7M1099 754h1.7M1100 754h1.7M1127 754h1.7M1017 755h1.7M1023 755h1.7M1025 755h1.7M1026 755h1.7M1027 755h1.7M1028 755h1.7M1029 755h1.7M1030 755h1.7M1031 755h1.7M1032 755h1.7M1033 755h1.7M1034 755h1.7M1035 755h1.7M1036 755h1.7M1037 755h1.7M1038 755h1.7M1039 755h1.7M1040 755h1.7M1041 755h1.7M1042 755h1.7M1043 755h1.7M1044 755h1.7M1045 755h1.7M1046 755h1.7M1047 755h1.7M1048 755h1.7M1049 755h1.7M1050 755h1.7M1051 755h1.7M1052 755h1.7M1053 755h1.7M1054 755h1.7M1055 755h1.7M1056 755h1.7M1057 755h1.7M1058 755h1.7M1059 755h1.7M1062 755h1.7M1065 755h1.7M1066 755h1.7M1070 755h1.7M1075 755h1.7M1079 755h1.7M1080 755h1.7M1081 755h1.7M1094 755h1.7M1100 755h1.7M1101 755h1.7M1104 755h1.7M1015 756h1.7M1021 756h1.7M1024 756h1.7M1025 756h1.7M1026 756h1.7M1027 756h1.7M1028 756h1.7M1029 756h1.7M1030 756h1.7M1031 756h1.7M1032 756h1.7M1033 756h1.7M1035 756h1.7M1036 756h1.7M1037 756h1.7M1038 756h1.7M1039 756h1.7M1040 756h1.7M1041 756h1.7M1042 756h1.7M1043 756h1.7M1044 756h1.7M1045 756h1.7M1046 756h1.7M1047 756h1.7M1048 756h1.7M1050 756h1.7M1051 756h1.7M1052 756h1.7M1053 756h1.7M1054 756h1.7M1056 756h1.7M1057 756h1.7M1058 756h1.7M1059 756h1.7M1060 756h1.7M1063 756h1.7M1065 756h1.7M1066 756h1.7M1067 756h1.7M1072 756h1.7M1073 756h1.7M1076 756h1.7M1094 756h1.7M1008 757h1.7M1015 757h1.7M1016 757h1.7M1018 757h1.7M1019 757h1.7M1020 757h1.7M1021 757h1.7M1022 757h1.7M1024 757h1.7M1025 757h1.7M1026 757h1.7M1027 757h1.7M1028 757h1.7M1029 757h1.7M1030 757h1.7M1031 757h1.7M1032 757h1.7M1033 757h1.7M1034 757h1.7M1035 757h1.7M1036 757h1.7M1038 757h1.7M1039 757h1.7M1040 757h1.7M1041 757h1.7M1042 757h1.7M1043 757h1.7M1045 757h1.7M1046 757h1.7M1047 757h1.7M1048 757h1.7M1049 757h1.7M1050 757h1.7M1051 757h1.7M1052 757h1.7M1053 757h1.7M1054 757h1.7M1055 757h1.7M1056 757h1.7M1057 757h1.7M1058 757h1.7M1059 757h1.7M1064 757h1.7M1065 757h1.7M1066 757h1.7M1070 757h1.7M1072 757h1.7M1074 757h1.7M1076 757h1.7M1103 757h1.7M1120 757h1.7M1006 758h1.7M1012 758h1.7M1014 758h1.7M1015 758h1.7M1017 758h1.7M1018 758h1.7M1021 758h1.7M1023 758h1.7M1024 758h1.7M1025 758h1.7M1026 758h1.7M1027 758h1.7M1028 758h1.7M1029 758h1.7M1030 758h1.7M1031 758h1.7M1032 758h1.7M1033 758h1.7M1034 758h1.7M1035 758h1.7M1036 758h1.7M1037 758h1.7M1038 758h1.7M1040 758h1.7M1041 758h1.7M1042 758h1.7M1043 758h1.7M1044 758h1.7M1045 758h1.7M1046 758h1.7M1047 758h1.7M1048 758h1.7M1049 758h1.7M1051 758h1.7M1052 758h1.7M1053 758h1.7M1056 758h1.7M1057 758h1.7M1058 758h1.7M1059 758h1.7M1061 758h1.7M1064 758h1.7M1065 758h1.7M1067 758h1.7M1070 758h1.7M1075 758h1.7M1081 758h1.7M1009 759h1.7M1010 759h1.7M1014 759h1.7M1015 759h1.7M1016 759h1.7M1018 759h1.7M1019 759h1.7M1020 759h1.7M1021 759h1.7M1022 759h1.7M1023 759h1.7M1025 759h1.7M1026 759h1.7M1027 759h1.7M1028 759h1.7M1029 759h1.7M1030 759h1.7M1031 759h1.7M1032 759h1.7M1033 759h1.7M1034 759h1.7M1035 759h1.7M1036 759h1.7M1037 759h1.7M1038 759h1.7M1039 759h1.7M1040 759h1.7M1041 759h1.7M1042 759h1.7M1043 759h1.7M1044 759h1.7M1045 759h1.7M1046 759h1.7M1047 759h1.7M1048 759h1.7M1049 759h1.7M1050 759h1.7M1051 759h1.7M1052 759h1.7M1053 759h1.7M1055 759h1.7M1056 759h1.7M1061 759h1.7M1064 759h1.7M1069 759h1.7M1072 759h1.7M1102 759h1.7M1124 759h1.7M1131 759h1.7M1136 759h1.7M1006 760h1.7M1010 760h1.7M1014 760h1.7M1015 760h1.7M1016 760h1.7M1017 760h1.7M1018 760h1.7M1019 760h1.7M1020 760h1.7M1021 760h1.7M1022 760h1.7M1023 760h1.7M1024 760h1.7M1025 760h1.7M1026 760h1.7M1027 760h1.7M1028 760h1.7M1029 760h1.7M1030 760h1.7M1031 760h1.7M1032 760h1.7M1033 760h1.7M1034 760h1.7M1035 760h1.7M1036 760h1.7M1037 760h1.7M1038 760h1.7M1039 760h1.7M1040 760h1.7M1042 760h1.7M1043 760h1.7M1044 760h1.7M1045 760h1.7M1046 760h1.7M1047 760h1.7M1048 760h1.7M1049 760h1.7M1050 760h1.7M1053 760h1.7M1054 760h1.7M1056 760h1.7M1059 760h1.7M1061 760h1.7M1063 760h1.7M1064 760h1.7M1066 760h1.7M1068 760h1.7M1080 760h1.7M1124 760h1.7M1008 761h1.7M1010 761h1.7M1011 761h1.7M1012 761h1.7M1013 761h1.7M1014 761h1.7M1015 761h1.7M1016 761h1.7M1017 761h1.7M1018 761h1.7M1019 761h1.7M1020 761h1.7M1021 761h1.7M1022 761h1.7M1023 761h1.7M1024 761h1.7M1025 761h1.7M1026 761h1.7M1027 761h1.7M1028 761h1.7M1029 761h1.7M1030 761h1.7M1031 761h1.7M1032 761h1.7M1033 761h1.7M1034 761h1.7M1035 761h1.7M1036 761h1.7M1037 761h1.7M1038 761h1.7M1039 761h1.7M1040 761h1.7M1041 761h1.7M1042 761h1.7M1044 761h1.7M1045 761h1.7M1046 761h1.7M1047 761h1.7M1048 761h1.7M1050 761h1.7M1051 761h1.7M1052 761h1.7M1053 761h1.7M1054 761h1.7M1056 761h1.7M1061 761h1.7M1068 761h1.7M1071 761h1.7M1074 761h1.7M1078 761h1.7M1010 762h1.7M1011 762h1.7M1012 762h1.7M1013 762h1.7M1014 762h1.7M1016 762h1.7M1017 762h1.7M1018 762h1.7M1019 762h1.7M1020 762h1.7M1021 762h1.7M1022 762h1.7M1023 762h1.7M1025 762h1.7M1026 762h1.7M1027 762h1.7M1028 762h1.7M1029 762h1.7M1030 762h1.7M1031 762h1.7M1032 762h1.7M1033 762h1.7M1034 762h1.7M1035 762h1.7M1036 762h1.7M1037 762h1.7M1038 762h1.7M1040 762h1.7M1041 762h1.7M1043 762h1.7M1044 762h1.7M1045 762h1.7M1051 762h1.7M1053 762h1.7M1054 762h1.7M1055 762h1.7M1056 762h1.7M1059 762h1.7M1064 762h1.7M1069 762h1.7M1071 762h1.7M1078 762h1.7M1082 762h1.7M1005 763h1.7M1008 763h1.7M1009 763h1.7M1010 763h1.7M1012 763h1.7M1013 763h1.7M1014 763h1.7M1015 763h1.7M1017 763h1.7M1018 763h1.7M1019 763h1.7M1020 763h1.7M1021 763h1.7M1022 763h1.7M1023 763h1.7M1024 763h1.7M1025 763h1.7M1026 763h1.7M1027 763h1.7M1028 763h1.7M1029 763h1.7M1030 763h1.7M1031 763h1.7M1032 763h1.7M1033 763h1.7M1034 763h1.7M1035 763h1.7M1037 763h1.7M1039 763h1.7M1040 763h1.7M1041 763h1.7M1043 763h1.7M1048 763h1.7M1053 763h1.7M1054 763h1.7M1055 763h1.7M1058 763h1.7M1061 763h1.7M1064 763h1.7M1006 764h1.7M1007 764h1.7M1009 764h1.7M1010 764h1.7M1011 764h1.7M1012 764h1.7M1014 764h1.7M1015 764h1.7M1016 764h1.7M1017 764h1.7M1018 764h1.7M1019 764h1.7M1020 764h1.7M1021 764h1.7M1022 764h1.7M1023 764h1.7M1024 764h1.7M1025 764h1.7M1026 764h1.7M1027 764h1.7M1028 764h1.7M1029 764h1.7M1030 764h1.7M1031 764h1.7M1032 764h1.7M1033 764h1.7M1034 764h1.7M1036 764h1.7M1037 764h1.7M1038 764h1.7M1039 764h1.7M1040 764h1.7M1041 764h1.7M1044 764h1.7M1053 764h1.7M1062 764h1.7M1067 764h1.7M1006 765h1.7M1007 765h1.7M1008 765h1.7M1010 765h1.7M1011 765h1.7M1012 765h1.7M1013 765h1.7M1014 765h1.7M1015 765h1.7M1016 765h1.7M1017 765h1.7M1018 765h1.7M1019 765h1.7M1020 765h1.7M1021 765h1.7M1022 765h1.7M1023 765h1.7M1024 765h1.7M1025 765h1.7M1026 765h1.7M1027 765h1.7M1028 765h1.7M1029 765h1.7M1030 765h1.7M1031 765h1.7M1032 765h1.7M1033 765h1.7M1034 765h1.7M1035 765h1.7M1036 765h1.7M1037 765h1.7M1038 765h1.7M1039 765h1.7M1040 765h1.7M1041 765h1.7M1045 765h1.7M1046 765h1.7M1050 765h1.7M1051 765h1.7M1054 765h1.7M1055 765h1.7M1056 765h1.7M1065 765h1.7M1077 765h1.7M1085 765h1.7M1089 765h1.7M1098 765h1.7M1007 766h1.7M1008 766h1.7M1009 766h1.7M1011 766h1.7M1012 766h1.7M1013 766h1.7M1014 766h1.7M1015 766h1.7M1016 766h1.7M1017 766h1.7M1018 766h1.7M1019 766h1.7M1020 766h1.7M1021 766h1.7M1022 766h1.7M1023 766h1.7M1024 766h1.7M1025 766h1.7M1026 766h1.7M1027 766h1.7M1028 766h1.7M1029 766h1.7M1030 766h1.7M1031 766h1.7M1032 766h1.7M1033 766h1.7M1034 766h1.7M1035 766h1.7M1036 766h1.7M1037 766h1.7M1038 766h1.7M1039 766h1.7M1043 766h1.7M1045 766h1.7M1047 766h1.7M1050 766h1.7M1054 766h1.7M1055 766h1.7M1074 766h1.7M1007 767h1.7M1008 767h1.7M1009 767h1.7M1010 767h1.7M1011 767h1.7M1012 767h1.7M1013 767h1.7M1014 767h1.7M1015 767h1.7M1017 767h1.7M1018 767h1.7M1019 767h1.7M1020 767h1.7M1021 767h1.7M1022 767h1.7M1023 767h1.7M1024 767h1.7M1025 767h1.7M1026 767h1.7M1027 767h1.7M1028 767h1.7M1029 767h1.7M1030 767h1.7M1032 767h1.7M1033 767h1.7M1034 767h1.7M1035 767h1.7M1037 767h1.7M1040 767h1.7M1041 767h1.7M1044 767h1.7M1047 767h1.7M1053 767h1.7M1054 767h1.7M1056 767h1.7M1060 767h1.7M1064 767h1.7M1007 768h1.7M1008 768h1.7M1009 768h1.7M1010 768h1.7M1011 768h1.7M1012 768h1.7M1013 768h1.7M1014 768h1.7M1015 768h1.7M1016 768h1.7M1017 768h1.7M1018 768h1.7M1019 768h1.7M1020 768h1.7M1021 768h1.7M1022 768h1.7M1023 768h1.7M1024 768h1.7M1025 768h1.7M1026 768h1.7M1027 768h1.7M1028 768h1.7M1029 768h1.7M1030 768h1.7M1032 768h1.7M1037 768h1.7M1039 768h1.7M1040 768h1.7M1041 768h1.7M1044 768h1.7M1046 768h1.7M1047 768h1.7M1048 768h1.7M1070 768h1.7M1008 769h1.7M1009 769h1.7M1010 769h1.7M1011 769h1.7M1012 769h1.7M1013 769h1.7M1015 769h1.7M1016 769h1.7M1017 769h1.7M1018 769h1.7M1019 769h1.7M1020 769h1.7M1021 769h1.7M1022 769h1.7M1023 769h1.7M1024 769h1.7M1025 769h1.7M1026 769h1.7M1027 769h1.7M1028 769h1.7M1029 769h1.7M1030 769h1.7M1032 769h1.7M1033 769h1.7M1034 769h1.7M1039 769h1.7M1042 769h1.7M1045 769h1.7M1046 769h1.7M1053 769h1.7M1062 769h1.7M1067 769h1.7M1070 769h1.7M1008 770h1.7M1009 770h1.7M1010 770h1.7M1011 770h1.7M1012 770h1.7M1013 770h1.7M1014 770h1.7M1015 770h1.7M1016 770h1.7M1017 770h1.7M1018 770h1.7M1019 770h1.7M1020 770h1.7M1021 770h1.7M1022 770h1.7M1023 770h1.7M1025 770h1.7M1026 770h1.7M1027 770h1.7M1028 770h1.7M1030 770h1.7M1031 770h1.7M1033 770h1.7M1034 770h1.7M1039 770h1.7M1046 770h1.7M1068 770h1.7M1072 770h1.7M1009 771h1.7M1011 771h1.7M1012 771h1.7M1013 771h1.7M1014 771h1.7M1015 771h1.7M1016 771h1.7M1017 771h1.7M1018 771h1.7M1019 771h1.7M1020 771h1.7M1021 771h1.7M1022 771h1.7M1023 771h1.7M1025 771h1.7M1026 771h1.7M1027 771h1.7M1028 771h1.7M1029 771h1.7M1030 771h1.7M1031 771h1.7M1032 771h1.7M1033 771h1.7M1034 771h1.7M1035 771h1.7M1036 771h1.7M1040 771h1.7M1042 771h1.7M1044 771h1.7M1046 771h1.7M1049 771h1.7M1051 771h1.7M1058 771h1.7M1061 771h1.7M1062 771h1.7M1067 771h1.7M1009 772h1.7M1010 772h1.7M1012 772h1.7M1013 772h1.7M1015 772h1.7M1016 772h1.7M1017 772h1.7M1022 772h1.7M1024 772h1.7M1025 772h1.7M1026 772h1.7M1027 772h1.7M1028 772h1.7M1030 772h1.7M1031 772h1.7M1035 772h1.7M1036 772h1.7M1037 772h1.7M1041 772h1.7M1048 772h1.7M1052 772h1.7M1085 772h1.7M1010 773h1.7M1011 773h1.7M1012 773h1.7M1013 773h1.7M1014 773h1.7M1015 773h1.7M1016 773h1.7M1017 773h1.7M1018 773h1.7M1019 773h1.7M1020 773h1.7M1021 773h1.7M1022 773h1.7M1023 773h1.7M1025 773h1.7M1029 773h1.7M1033 773h1.7M1035 773h1.7M1038 773h1.7M1047 773h1.7M1054 773h1.7M1057 773h1.7M1063 773h1.7M1071 773h1.7M1010 774h1.7M1011 774h1.7M1012 774h1.7M1013 774h1.7M1014 774h1.7M1015 774h1.7M1016 774h1.7M1017 774h1.7M1018 774h1.7M1020 774h1.7M1021 774h1.7M1022 774h1.7M1024 774h1.7M1025 774h1.7M1026 774h1.7M1027 774h1.7M1029 774h1.7M1033 774h1.7M1046 774h1.7M1050 774h1.7M1066 774h1.7M1011 775h1.7M1012 775h1.7M1013 775h1.7M1014 775h1.7M1015 775h1.7M1016 775h1.7M1018 775h1.7M1021 775h1.7M1024 775h1.7M1028 775h1.7M1030 775h1.7M1031 775h1.7M1059 775h1.7M1011 776h1.7M1013 776h1.7M1014 776h1.7M1015 776h1.7M1016 776h1.7M1017 776h1.7M1019 776h1.7M1020 776h1.7M1021 776h1.7M1030 776h1.7M1033 776h1.7M1037 776h1.7M1061 776h1.7M1012 777h1.7M1013 777h1.7M1014 777h1.7M1016 777h1.7M1018 777h1.7M1020 777h1.7M1025 777h1.7M1026 777h1.7M1028 777h1.7M1030 777h1.7M1037 777h1.7M1039 777h1.7M1040 777h1.7M1042 777h1.7M1045 777h1.7M1064 777h1.7M1013 778h1.7M1016 778h1.7M1020 778h1.7M1021 778h1.7M1028 778h1.7M1030 778h1.7M1032 778h1.7M1035 778h1.7M1044 778h1.7M1013 779h1.7M1014 779h1.7M1016 779h1.7M1030 779h1.7M1031 779h1.7M1040 779h1.7M1041 779h1.7M1047 779h1.7M1014 780h1.7M1015 780h1.7M1035 780h1.7M1039 780h1.7M1041 780h1.7M1042 780h1.7M1016 781h1.7M1019 781h1.7M1026 781h1.7M1040 781h1.7M1015 782h1.7M1033 782h1.7M1025 783h1.7M1034 783h1.7M1018 784h1.7M1027 786h1.7M1034 787h1.7M1071 787h1.7M1028 789h1.7" stroke="#ff0000" stroke-width="1.7" fill="none" filter="url(#bl)"/>
<path d="M968.4 483.5V802.4" stroke="#5a5a5a" stroke-width="2.2"/>
<path d="M1287.3 483.5V811.4" stroke="#808080" stroke-width="2.8"/>
<path d="M967.4 802.4H1287.3" stroke="#6e6e6e" stroke-width="2.5"/>
<path d="M959.4 483.5H1288.3" stroke="#7a7a7a" stroke-width="3"/>
<path d="M1146.7 483.5V802.4M968.4 687H1287.3" stroke="#4d4d4d" stroke-width="2"/>
<path d="M959.4 774.7H968.4M959.4 718.5H968.4M959.4 646.1H968.4M959.4 572.8H968.4M959.4 500.1H968.4M962.4 767.5H968.4M962.4 760.4H968.4M962.4 753.3H968.4M962.4 746.6H968.4M962.4 740.8H968.4M962.4 735.7H968.4M962.4 731.1H968.4M962.4 727.3H968.4M962.4 724H968.4M962.4 783.2H968.4M962.4 791.7H968.4M962.4 800.2H968.4M962.4 696.7H968.4M962.4 684H968.4M962.4 674.9H968.4M962.4 667.9H968.4M962.4 662.2H968.4M962.4 657.4H968.4M962.4 653.2H968.4M962.4 649.5H968.4M962.4 624.1H968.4M962.4 611.1H968.4M962.4 602H968.4M962.4 594.9H968.4M962.4 589.1H968.4M962.4 584.2H968.4M962.4 579.9H968.4M962.4 576.1H968.4M962.4 550.9H968.4M962.4 538.1H968.4M962.4 529H968.4M962.4 522H968.4M962.4 516.2H968.4M962.4 511.3H968.4M962.4 507.1H968.4M962.4 503.4H968.4M1006.7 802.4V811.4M1066 802.4V811.4M1164.5 802.4V811.4M1265.3 802.4V811.4M1014.2 802.4V808.4M1021.7 802.4V808.4M1029.3 802.4V808.4M1036.3 802.4V808.4M1042.5 802.4V808.4M1047.8 802.4V808.4M1052.7 802.4V808.4M1056.7 802.4V808.4M1060.2 802.4V808.4M999.1 802.4V808.4M991.5 802.4V808.4M983.9 802.4V808.4M976.3 802.4V808.4M1095.6 802.4V808.4M1113 802.4V808.4M1125.3 802.4V808.4M1134.9 802.4V808.4M1142.7 802.4V808.4M1149.3 802.4V808.4M1155 802.4V808.4M1160 802.4V808.4M1194.9 802.4V808.4M1212.6 802.4V808.4M1225.2 802.4V808.4M1235 802.4V808.4M1242.9 802.4V808.4M1249.7 802.4V808.4M1255.5 802.4V808.4M1260.7 802.4V808.4" stroke="#6a6a6a" stroke-width="1.8" fill="none"/>
<text transform="translate(953.4,774.7) rotate(-90)" x="0" text-anchor="middle" font-family='"Liberation Sans", sans-serif' font-size="18.5" fill="#4a4a4a">0</text>
<text transform="translate(953.4,718.5) rotate(-90)" x="-10.3" font-family='"Liberation Sans", sans-serif' font-size="18.5" fill="#4a4a4a">10<tspan font-size="12.2" dy="-8.1">4</tspan></text>
<text transform="translate(953.4,646.1) rotate(-90)" x="-10.3" font-family='"Liberation Sans", sans-serif' font-size="18.5" fill="#4a4a4a">10<tspan font-size="12.2" dy="-8.1">5</tspan></text>
<text transform="translate(953.4,572.8) rotate(-90)" x="-10.3" font-family='"Liberation Sans", sans-serif' font-size="18.5" fill="#4a4a4a">10<tspan font-size="12.2" dy="-8.1">6</tspan></text>
<text transform="translate(953.4,500.1) rotate(-90)" x="-10.3" font-family='"Liberation Sans", sans-serif' font-size="18.5" fill="#4a4a4a">10<tspan font-size="12.2" dy="-8.1">7</tspan></text>
<text x="1006.7" y="830.7" text-anchor="middle" font-family='"Liberation Sans", sans-serif' font-size="18.5" fill="#4a4a4a">0</text>
<text x="1055.7" y="830.7" font-family='"Liberation Sans", sans-serif' font-size="18.5" fill="#4a4a4a">10<tspan font-size="12.2" dy="-8.1">5</tspan></text>
<text x="1154.2" y="830.7" font-family='"Liberation Sans", sans-serif' font-size="18.5" fill="#4a4a4a">10<tspan font-size="12.2" dy="-8.1">6</tspan></text>
<text x="1255" y="830.7" font-family='"Liberation Sans", sans-serif' font-size="18.5" fill="#4a4a4a">10<tspan font-size="12.2" dy="-8.1">7</tspan></text>
<text x="972.4" y="504" font-family='"Liberation Sans", sans-serif' font-size="17" fill="#4a4a4a">Q1(6.17%)</text>
<text x="1282.8" y="504" text-anchor="end" font-family='"Liberation Sans", sans-serif' font-size="17" fill="#4a4a4a">Q2(11.51%)</text>
<text x="972.4" y="794.4" font-family='"Liberation Sans", sans-serif' font-size="17" fill="#4a4a4a">Q3(78.19%)</text>
<text x="1282.8" y="794.4" text-anchor="end" font-family='"Liberation Sans", sans-serif' font-size="17" fill="#4a4a4a">Q1-LR(4.13%)</text>
<path d="M678.5 834h1.5M721 834h1.5M739 834h1M746.5 834h1.5M755 834h6M764 834h9M780 834h4M798 834h2" stroke="#c9c9c9" stroke-width="1.4"/>
<path d="M546.5 612.5v2M546.5 621v2M546.5 628v10M546.5 647v2M546.5 655v2M546.5 666v2" stroke="#cfcfcf" stroke-width="1.4"/>
<text x="443.3" y="392.1" font-family='"Liberation Serif", serif' font-weight="bold" font-size="32.4">control</text>
<text x="844.7" y="391.3" font-family='"Liberation Serif", serif' font-weight="bold" font-size="33.9">positive</text>
<text x="316.0" y="875.5" font-family='"Liberation Serif", serif' font-weight="bold" font-size="36">1</text>
<text x="731.9" y="876.9" font-family='"Liberation Serif", serif' font-weight="bold" font-size="35.3">2.5</text>
<text x="1128.7" y="876.8" text-anchor="middle" font-family='"Liberation Serif", serif' font-weight="bold" font-size="36">5</text>
<line x1="311.5" y1="893" x2="1149.5" y2="893" stroke="#000" stroke-width="2"/>
<g font-family='"Liberation Serif", serif' font-weight="bold"><text x="576.9" y="935.3" font-size="31.5" textLength="149.1" lengthAdjust="spacingAndGlyphs">Compound</text><text x="745.1" y="935.3" font-size="32.5" textLength="33.9" lengthAdjust="spacingAndGlyphs">19</text><text x="788.5" y="935.3" font-size="32.5" textLength="71.8" lengthAdjust="spacingAndGlyphs">(μM)</text></g>
<g font-family='"Liberation Serif", serif' font-weight="bold"><text x="551.9" y="1038.7" font-size="42.6">Annexin</text><text x="724.2" y="1038.7" font-size="43.2">V-FITC</text></g>
<text x="353.2" y="1103.5" font-family='"Liberation Sans", sans-serif' font-weight="bold" font-size="43">B</text>
<path d="M596.7 1373.3V1352.2M581.2 1352.2H612.2" stroke="#000000" stroke-width="3" fill="none"/>
<rect x="565.6" y="1373.3" width="62.2" height="146.1" fill="#000000"/>
<path d="M672.3 1263.9V1259.2M656.8 1259.2H687.8" stroke="#a2a1a6" stroke-width="3" fill="none"/>
<rect x="640.7" y="1263.9" width="63.2" height="255.5" fill="#a2a1a6"/>
<path d="M650.8 1237.1L650.8 1249.1M656 1240.1L645.7 1246.1M656 1246.1L645.7 1240.1M665.1 1237.1L665.1 1249.1M670.3 1240.1L660 1246.1M670.3 1246.1L660 1240.1M679.4 1237.1L679.4 1249.1M684.6 1240.1L674.3 1246.1M684.6 1246.1L674.3 1240.1M693.8 1237.1L693.8 1249.1M698.9 1240.1L688.6 1246.1M698.9 1246.1L688.6 1240.1" stroke="#5a5a5a" stroke-width="3.1" stroke-linecap="round"/>
<path d="M748.1 1285.3V1261.7M732.6 1261.7H763.6" stroke="#7f7f7f" stroke-width="3" fill="none"/>
<rect x="716.5" y="1285.3" width="63.2" height="234.1" fill="#7f7f7f"/>
<path d="M733.8 1238.5L733.8 1250.5M739 1241.5L728.6 1247.5M739 1247.5L728.6 1241.5M748.1 1238.5L748.1 1250.5M753.3 1241.5L742.9 1247.5M753.3 1247.5L742.9 1241.5M762.4 1238.5L762.4 1250.5M767.6 1241.5L757.2 1247.5M767.6 1247.5L757.2 1241.5" stroke="#5a5a5a" stroke-width="3.1" stroke-linecap="round"/>
<path d="M824.2 1243.8V1227.4M808.8 1227.4H839.8" stroke="#d4d4d4" stroke-width="3" fill="none"/>
<rect x="792.5" y="1243.8" width="63.5" height="275.6" fill="#d4d4d4"/>
<path d="M802.8 1203.5L802.8 1215.5M808 1206.5L797.6 1212.5M808 1212.5L797.6 1206.5M817.1 1203.5L817.1 1215.5M822.3 1206.5L811.9 1212.5M822.3 1212.5L811.9 1206.5M831.4 1203.5L831.4 1215.5M836.6 1206.5L826.2 1212.5M836.6 1212.5L826.2 1206.5M845.7 1203.5L845.7 1215.5M850.9 1206.5L840.5 1212.5M850.9 1212.5L840.5 1206.5" stroke="#5a5a5a" stroke-width="3.1" stroke-linecap="round"/>
<path d="M900.6 1180.3V1174.5M885.1 1174.5H916.1" stroke="#5f5f5f" stroke-width="3" fill="none"/>
<rect x="868.9" y="1180.3" width="63.4" height="339.1" fill="#5f5f5f"/>
<path d="M879.1 1154.5L879.1 1166.5M884.3 1157.5L874 1163.5M884.3 1163.5L874 1157.5M893.4 1154.5L893.4 1166.5M898.6 1157.5L888.3 1163.5M898.6 1163.5L888.3 1157.5M907.7 1154.5L907.7 1166.5M912.9 1157.5L902.6 1163.5M912.9 1163.5L902.6 1157.5M922 1154.5L922 1166.5M927.2 1157.5L916.9 1163.5M927.2 1163.5L916.9 1157.5" stroke="#5a5a5a" stroke-width="3.1" stroke-linecap="round"/>
<path d="M551.5 1123.9V1519.4H946.7" stroke="#000" stroke-width="3.8" fill="none"/>
<path d="M534.8 1519.4H551M534.8 1440.7H551M534.8 1361.9H551M534.8 1283.2H551M534.8 1204.4H551M534.8 1125.7H551M596.7 1519.4V1536M672.3 1519.4V1536M748.1 1519.4V1536M824.3 1519.4V1536M900.6 1519.4V1536" stroke="#000" stroke-width="3.8" fill="none"/>
<text x="531.2" y="1531.1" text-anchor="end" font-family='"Liberation Serif", serif' font-weight="bold" font-size="34">0</text>
<text x="531.2" y="1452.4" text-anchor="end" font-family='"Liberation Serif", serif' font-weight="bold" font-size="34">5</text>
<text x="531.2" y="1373.6" text-anchor="end" font-family='"Liberation Serif", serif' font-weight="bold" font-size="34">10</text>
<text x="531.2" y="1294.9" text-anchor="end" font-family='"Liberation Serif", serif' font-weight="bold" font-size="34">15</text>
<text x="531.2" y="1216.1" text-anchor="end" font-family='"Liberation Serif", serif' font-weight="bold" font-size="34">20</text>
<text x="531.2" y="1137.4" text-anchor="end" font-family='"Liberation Serif", serif' font-weight="bold" font-size="34">25</text>
<text transform="translate(477.7,1320.3) rotate(-90) scale(0.965,1)" text-anchor="middle" font-family='"Liberation Serif", serif' font-weight="bold" font-size="33.5">HepG2 apoptosis rate (%)</text>
<text x="596" y="1571" text-anchor="middle" font-family='"Liberation Serif", serif' font-weight="bold" font-size="32.5">con</text>
<text x="672" y="1571" text-anchor="middle" font-family='"Liberation Serif", serif' font-weight="bold" font-size="32.5">pos</text>
<text x="748" y="1571" text-anchor="middle" font-family='"Liberation Serif", serif' font-weight="bold" font-size="32.5">1</text>
<text x="824.4" y="1571" text-anchor="middle" font-family='"Liberation Serif", serif' font-weight="bold" font-size="32.5">2.5</text>
<text x="900.3" y="1571" text-anchor="middle" font-family='"Liberation Serif", serif' font-weight="bold" font-size="32.5">5</text>
<line x1="736.7" y1="1584" x2="913.8" y2="1584" stroke="#000" stroke-width="3.4"/>
<g font-family='"Liberation Serif", serif' font-weight="bold"><text x="714.6" y="1617.3" font-size="30" textLength="140.8" lengthAdjust="spacingAndGlyphs">Compound</text><text x="860.4" y="1617.3" font-size="30.5" textLength="32.8" lengthAdjust="spacingAndGlyphs">19</text><text x="902.7" y="1617.3" font-size="30.2" textLength="65.7" lengthAdjust="spacingAndGlyphs">(μM)</text></g>
</svg>
</body></html>
